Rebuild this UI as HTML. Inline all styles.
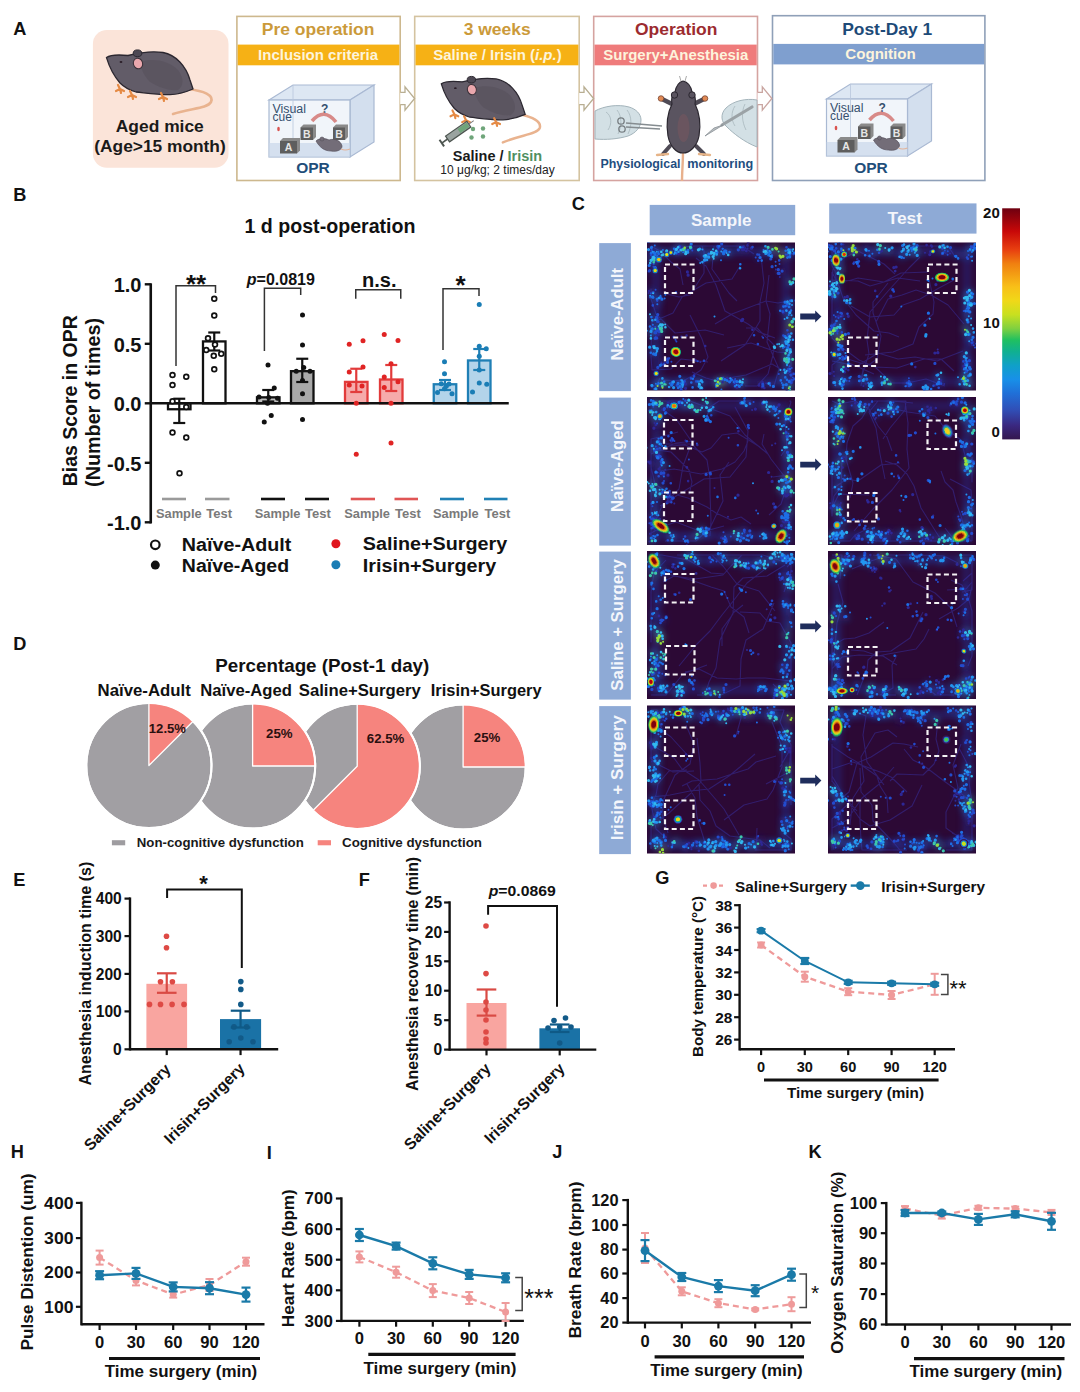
<!DOCTYPE html>
<html><head><meta charset="utf-8"><title>Figure</title>
<style>
html,body{margin:0;padding:0;background:#fff;}
body{width:1080px;height:1392px;overflow:hidden;}
svg{display:block;font-family:"Liberation Sans", sans-serif;}
</style></head><body>
<svg width="1080" height="1392" viewBox="0 0 1080 1392">
<rect x="0" y="0" width="1080" height="1392" fill="#fff"/>
<rect x="92.9" y="30" width="135.6" height="137.8" rx="14" ry="14" fill="#fbe4d9"/>
<g transform="translate(0,0) scale(1.0)">
<path d="M188,89 C204,91 214,95 211,102 C207,109 190,108 173,114" fill="none" stroke="#e9b38f" stroke-width="2.6" stroke-linecap="round"/>
<path d="M106.5,57.6 C110,55 118,54.5 128,55.5 C138,53 150,50.5 163,52.5 C176,55 186,66 190,80 L193,89 C186,92 178,94.5 170,94.6 C158,95 146,93 136,92 C129,90 124,87 120,83 C114,76 109,66 106.5,57.6 Z" fill="#625c68" stroke="#2b2730" stroke-width="1.3"/>
<path d="M140,62 C152,58 168,60 178,70 C184,78 184,86 178,90 C170,91 160,88 150,82 C144,76 141,69 140,62 Z" fill="#56505c" opacity="0.6"/>
<ellipse cx="137.5" cy="53.3" rx="4.3" ry="3.4" fill="#4d4853" stroke="#2b2730" stroke-width="1"/>
<ellipse cx="138" cy="63.5" rx="4.6" ry="5.4" transform="rotate(-15 138 63.5)" fill="#eaa7ad" stroke="#3a3038" stroke-width="1"/>
<ellipse cx="121" cy="62" rx="1.4" ry="1" fill="#2a1e28"/>
<path d="M118,85 l2,4 l-4,2 m4,-2 l1,4 m-1,-4 l4,2" stroke="#e58a45" stroke-width="2.2" fill="none" stroke-linecap="round"/>
<path d="M130,91 l2,4 l-4,2 m4,-2 l1,4 m-1,-4 l4,2" stroke="#e58a45" stroke-width="2.2" fill="none" stroke-linecap="round"/>
<path d="M161,93 l2,4 l-4,2 m4,-2 l1,4 m-1,-4 l4,2" stroke="#e58a45" stroke-width="2.2" fill="none" stroke-linecap="round"/>
</g>
<text x="159.8" y="131.5" font-size="16.2" font-weight="bold" fill="#1a1a1a" text-anchor="middle"  textLength="88" lengthAdjust="spacingAndGlyphs">Aged mice</text>
<text x="160.0" y="151.6" font-size="16.2" font-weight="bold" fill="#1a1a1a" text-anchor="middle"  textLength="131.5" lengthAdjust="spacingAndGlyphs">(Age&gt;15 month)</text>
<rect x="236.90" y="16.40" width="163.30" height="164.10" fill="#fff" stroke="#cdb88e" stroke-width="1.6" />
<rect x="237.70" y="44.60" width="161.70" height="20.70" fill="#f6b115" stroke="none" stroke-width="1" />
<text x="318.1" y="35.0" font-size="16.8" font-weight="bold" fill="#cb9a3a" text-anchor="middle" textLength="112.5" lengthAdjust="spacingAndGlyphs">Pre operation</text>
<text x="318.1" y="60" font-size="14" font-weight="bold" fill="#fdf4dc" text-anchor="middle" textLength="120" lengthAdjust="spacingAndGlyphs">Inclusion criteria</text>
<rect x="414.70" y="16.40" width="164.50" height="164.10" fill="#fff" stroke="#d4c3a0" stroke-width="1.6" />
<rect x="415.50" y="44.60" width="162.90" height="20.70" fill="#f6b115" stroke="none" stroke-width="1" />
<text x="497.2" y="35.0" font-size="16.2" font-weight="bold" fill="#cb9a3a" text-anchor="middle" textLength="67" lengthAdjust="spacingAndGlyphs">3 weeks</text>
<text x="497.5" y="60" font-size="14" font-weight="bold" fill="#fdf4dc" text-anchor="middle" textLength="128.5" lengthAdjust="spacingAndGlyphs">Saline / Irisin (<tspan font-style="italic">i.p.</tspan>)</text>
<rect x="593.70" y="16.40" width="163.80" height="164.10" fill="#fff" stroke="#d5a3a0" stroke-width="1.6" />
<rect x="594.50" y="44.60" width="162.20" height="20.70" fill="#ef7b7b" stroke="none" stroke-width="1" />
<text x="676.2" y="35.0" font-size="16.5" font-weight="bold" fill="#9c2b2f" text-anchor="middle" textLength="82.5" lengthAdjust="spacingAndGlyphs">Operation</text>
<text x="675.8" y="60" font-size="14" font-weight="bold" fill="#fdf4dc" text-anchor="middle" textLength="145" lengthAdjust="spacingAndGlyphs">Surgery+Anesthesia</text>
<rect x="772.50" y="15.70" width="212.40" height="164.80" fill="#fff" stroke="#8fa0b8" stroke-width="1.6" />
<rect x="773.30" y="43.90" width="210.80" height="20.50" fill="#7f9fcf" stroke="none" stroke-width="1" />
<text x="887.2" y="34.6" font-size="17" font-weight="bold" fill="#1d4a78" text-anchor="middle" textLength="90" lengthAdjust="spacingAndGlyphs">Post-Day 1</text>
<text x="880.5" y="58.9" font-size="14" font-weight="bold" fill="#fdf4dc" text-anchor="middle" textLength="70.5" lengthAdjust="spacingAndGlyphs">Cognition</text>
<path d="M400.2,92.3 L405.0,92.3 L405.0,86.9 L414.59999999999997,98.5 L405.0,110.1 L405.0,104.7 L400.2,104.7" fill="#fff" stroke="#b8ae92" stroke-width="1.3" stroke-linejoin="miter"/>
<path d="M579.2,92.3 L584.0,92.3 L584.0,86.9 L593.6,98.5 L584.0,110.1 L584.0,104.7 L579.2,104.7" fill="#fff" stroke="#b8ae92" stroke-width="1.3" stroke-linejoin="miter"/>
<path d="M757.5,92.3 L762.3,92.3 L762.3,86.9 L771.9,98.5 L762.3,110.1 L762.3,104.7 L757.5,104.7" fill="#fff" stroke="#c9a5a0" stroke-width="1.3" stroke-linejoin="miter"/>
<path d="M269,100 L293,85 L374,85 L350,100 Z" fill="#dde7f3" stroke="#a9b9d3" stroke-width="1.2"/>
<path d="M350,100 L374,85 L374,142 L350,157 Z" fill="#d3dfee" stroke="#a9b9d3" stroke-width="1.2"/>
<rect x="269" y="100" width="81" height="57" fill="#eef3f9" fill-opacity="0.85" stroke="#a9b9d3" stroke-width="1.2"/>
<path d="M269,143 L350,143 L350,157 L269,157 Z" fill="#c9d7ea" opacity="0.7"/>
<line x1="293" y1="85" x2="293" y2="140" stroke="#b9c7dc" stroke-width="0.8"/>
<text x="272.5" y="112.5" font-size="12" fill="#35506e" font-weight="normal" textLength="33.5" lengthAdjust="spacingAndGlyphs">Visual</text>
<text x="272.5" y="121" font-size="12" fill="#35506e" font-weight="normal">cue</text>
<text x="321" y="112.5" font-size="12" fill="#35506e" font-weight="bold">?</text>
<ellipse cx="278.5" cy="129" rx="1.3" ry="2.2" fill="#d9534f"/>
<path d="M312,121 Q324,107 336,122" fill="none" stroke="#d88a88" stroke-width="3.6"/>
<path d="M280,141 L283,138 L300,138 L300,150.5 L297,153.5 Z" fill="#8a8a8a"/>
<rect x="280" y="141" width="17" height="12.5" fill="#5e5e5e"/>
<text x="288.5" y="151.0" font-size="10.5" font-weight="bold" fill="#e6e6e6" text-anchor="middle">A</text>
<path d="M300.5,127.5 L303.5,124.5 L316.0,124.5 L316.0,137.0 L313.0,140.0 Z" fill="#8a8a8a"/>
<rect x="300.5" y="127.5" width="12.5" height="12.5" fill="#5e5e5e"/>
<text x="306.75" y="137.5" font-size="10.5" font-weight="bold" fill="#e6e6e6" text-anchor="middle">B</text>
<path d="M333,127.5 L336,124.5 L348,124.5 L348,137.0 L345,140.0 Z" fill="#8a8a8a"/>
<rect x="333" y="127.5" width="12" height="12.5" fill="#5e5e5e"/>
<text x="339.0" y="137.5" font-size="10.5" font-weight="bold" fill="#e6e6e6" text-anchor="middle">B</text>
<path d="M316,141 C319,138 325,138 329,140 C335,138 341,141 342,146 C342,150 337,152 331,151 C325,151 320,148 316,141 Z" fill="#736d78" stroke="#58525d" stroke-width="0.7"/>
<circle cx="322" cy="139" r="2" fill="#736d78" stroke="#58525d" stroke-width="0.6"/>
<path d="M341,149 q4,2 9,0" stroke="#e2b49a" stroke-width="1.2" fill="none"/>
<text x="313.0" y="173.0" font-size="15.5" font-weight="bold" fill="#1f4e7a" text-anchor="middle" >OPR</text>
<path d="M826.5,99 L850.5,84 L931.5,84 L907.5,99 Z" fill="#dde7f3" stroke="#a9b9d3" stroke-width="1.2"/>
<path d="M907.5,99 L931.5,84 L931.5,141 L907.5,156 Z" fill="#d3dfee" stroke="#a9b9d3" stroke-width="1.2"/>
<rect x="826.5" y="99" width="81" height="57" fill="#eef3f9" fill-opacity="0.85" stroke="#a9b9d3" stroke-width="1.2"/>
<path d="M826.5,142 L907.5,142 L907.5,156 L826.5,156 Z" fill="#c9d7ea" opacity="0.7"/>
<line x1="850.5" y1="84" x2="850.5" y2="139" stroke="#b9c7dc" stroke-width="0.8"/>
<text x="830.0" y="111.5" font-size="12" fill="#35506e" font-weight="normal" textLength="33.5" lengthAdjust="spacingAndGlyphs">Visual</text>
<text x="830.0" y="120" font-size="12" fill="#35506e" font-weight="normal">cue</text>
<text x="878.5" y="111.5" font-size="12" fill="#35506e" font-weight="bold">?</text>
<ellipse cx="836.0" cy="128" rx="1.3" ry="2.2" fill="#d9534f"/>
<path d="M869.5,120 Q881.5,106 893.5,121" fill="none" stroke="#d88a88" stroke-width="3.6"/>
<path d="M837.5,140 L840.5,137 L857.5,137 L857.5,149.5 L854.5,152.5 Z" fill="#8a8a8a"/>
<rect x="837.5" y="140" width="17" height="12.5" fill="#5e5e5e"/>
<text x="846.0" y="150.0" font-size="10.5" font-weight="bold" fill="#e6e6e6" text-anchor="middle">A</text>
<path d="M858.0,126.5 L861.0,123.5 L873.5,123.5 L873.5,136.0 L870.5,139.0 Z" fill="#8a8a8a"/>
<rect x="858.0" y="126.5" width="12.5" height="12.5" fill="#5e5e5e"/>
<text x="864.25" y="136.5" font-size="10.5" font-weight="bold" fill="#e6e6e6" text-anchor="middle">B</text>
<path d="M890.5,126.5 L893.5,123.5 L905.5,123.5 L905.5,136.0 L902.5,139.0 Z" fill="#8a8a8a"/>
<rect x="890.5" y="126.5" width="12" height="12.5" fill="#5e5e5e"/>
<text x="896.5" y="136.5" font-size="10.5" font-weight="bold" fill="#e6e6e6" text-anchor="middle">B</text>
<path d="M873.5,140 C876.5,137 882.5,137 886.5,139 C892.5,137 898.5,140 899.5,145 C899.5,149 894.5,151 888.5,150 C882.5,150 877.5,147 873.5,140 Z" fill="#736d78" stroke="#58525d" stroke-width="0.7"/>
<circle cx="879.5" cy="138" r="2" fill="#736d78" stroke="#58525d" stroke-width="0.6"/>
<path d="M898.5,148 q4,2 9,0" stroke="#e2b49a" stroke-width="1.2" fill="none"/>
<text x="871.0" y="173.0" font-size="15.5" font-weight="bold" fill="#1f4e7a" text-anchor="middle" >OPR</text>
<g transform="translate(338,28) scale(0.97)">
<path d="M188,89 C200,92 210,96 208,103 C205,110 188,110 170,118" fill="none" stroke="#e9b38f" stroke-width="2.6" stroke-linecap="round"/>
<path d="M106.5,57.6 C110,55 118,54.5 128,55.5 C138,53 150,50.5 163,52.5 C176,55 186,66 190,80 L193,89 C186,92 178,94.5 170,94.6 C158,95 146,93 136,92 C129,90 124,87 120,83 C114,76 109,66 106.5,57.6 Z" fill="#625c68" stroke="#2b2730" stroke-width="1.3"/>
<path d="M140,62 C152,58 168,60 178,70 C184,78 184,86 178,90 C170,91 160,88 150,82 C144,76 141,69 140,62 Z" fill="#56505c" opacity="0.6"/>
<ellipse cx="137.5" cy="53.3" rx="4.3" ry="3.4" fill="#4d4853" stroke="#2b2730" stroke-width="1"/>
<ellipse cx="138" cy="63.5" rx="4.6" ry="5.4" transform="rotate(-15 138 63.5)" fill="#eaa7ad" stroke="#3a3038" stroke-width="1"/>
<ellipse cx="121" cy="62" rx="1.4" ry="1" fill="#2a1e28"/>
<path d="M118,85 l2,4 l-4,2 m4,-2 l1,4 m-1,-4 l4,2" stroke="#e58a45" stroke-width="2.2" fill="none" stroke-linecap="round"/>
<path d="M130,91 l2,4 l-4,2 m4,-2 l1,4 m-1,-4 l4,2" stroke="#e58a45" stroke-width="2.2" fill="none" stroke-linecap="round"/>
<path d="M161,93 l2,4 l-4,2 m4,-2 l1,4 m-1,-4 l4,2" stroke="#e58a45" stroke-width="2.2" fill="none" stroke-linecap="round"/>
</g>
<g transform="translate(459,131) rotate(-35)">
<rect x="-14" y="-3.5" width="26" height="7" fill="#9aa3a0" stroke="#4d5550" stroke-width="1.2"/>
<rect x="0" y="-2.5" width="11" height="5" fill="#6fa57a"/>
<line x1="-14" y1="0" x2="-21" y2="0" stroke="#4d5550" stroke-width="1.6"/>
<line x1="-21" y1="-4" x2="-21" y2="4" stroke="#4d5550" stroke-width="2"/>
<line x1="12" y1="0" x2="18" y2="0" stroke="#777" stroke-width="1"/>
</g>
<circle cx="473.00" cy="129.00" r="2.2" fill="#6fa57a" stroke="none" stroke-width="1"/>
<circle cx="483.00" cy="128.50" r="2.2" fill="#6fa57a" stroke="none" stroke-width="1"/>
<circle cx="471.50" cy="137.50" r="2.2" fill="#6fa57a" stroke="none" stroke-width="1"/>
<circle cx="483.00" cy="136.50" r="2.2" fill="#6fa57a" stroke="none" stroke-width="1"/>
<text x="497.5" y="161" font-size="14.5" font-weight="bold" fill="#1a1a1a" text-anchor="middle">Saline / <tspan fill="#4f8f5f">Irisin</tspan></text>
<text x="497.5" y="174" font-size="12" fill="#222" text-anchor="middle">10 μg/kg; 2 times/day</text>
<path d="M595,111 C604,106 618,104 629,107 C636,109 641,114 641,120 C641,127 636,133 628,136 C618,139 606,140 595,139 Z" fill="#d3e0e5" stroke="#a4b4bb" stroke-width="1"/>
<path d="M606,112 C612,116 612,124 608,130 M617,110 C622,116 622,126 618,134 M627,110 C632,116 632,126 628,134" fill="none" stroke="#aebcc2" stroke-width="0.9"/>
<path d="M626,123 L662,126 M626,127 L660,129" stroke="#858c90" stroke-width="1.5"/>
<circle cx="621" cy="121" r="3.2" fill="none" stroke="#777e82" stroke-width="1.3"/><circle cx="622" cy="129" r="3.2" fill="none" stroke="#777e82" stroke-width="1.3"/>
<path d="M757,100 C746,98 733,101 726,108 C720,114 721,122 727,127 C733,133 744,142 757,147 Z" fill="#d3e0e5" stroke="#a4b4bb" stroke-width="1"/>
<path d="M735,106 C731,112 731,120 735,126 M745,104 C741,112 742,122 746,130" fill="none" stroke="#aebcc2" stroke-width="0.9"/>
<path d="M752,107 L722,125" stroke="#9ba2a6" stroke-width="3.2" stroke-linecap="round"/>
<path d="M723,125 L705,136 L714,128 Z" fill="#b8bec2" stroke="#8a9196" stroke-width="0.8"/>
<path d="M683,152 C683,162 682,172 682,181" fill="none" stroke="#e8b08c" stroke-width="2.4"/>
<path d="M672,104 L661,98.5 M694,104 L705,98.5" stroke="#4f4a55" stroke-width="4.5" stroke-linecap="round"/>
<path d="M670,146 L663,154 M696,146 L704,154" stroke="#4f4a55" stroke-width="4" stroke-linecap="round"/>
<path d="M657,155 L668,154 M699,154 L710,155" stroke="#e6b488" stroke-width="2.4" stroke-linecap="round"/>
<path d="M683,81 C679,82 676,87 675,92 C672,95 671,99 672,104 C668,112 666,124 668,136 C670,146 676,153 683,153 C690,153 697,146 699,136 C701,124 699,112 695,104 C696,99 695,95 692,92 C691,87 688,82 683,81 Z" fill="#5a5460" stroke="#2b2730" stroke-width="1.2"/>
<ellipse cx="683.5" cy="128" rx="6" ry="14" fill="#8a5a5e" opacity="0.35"/>
<circle cx="674.5" cy="95" r="3.2" fill="#5a5460" stroke="#2b2730" stroke-width="1"/><circle cx="692" cy="95" r="3.2" fill="#5a5460" stroke="#2b2730" stroke-width="1"/>
<circle cx="661" cy="98.5" r="2.8" fill="#e08a55" stroke="#6a3a2a" stroke-width="0.7"/><circle cx="705" cy="98.5" r="2.8" fill="#e08a55" stroke="#6a3a2a" stroke-width="0.7"/>
<path d="M681,81 l-1.5,-5 M685,81 l1.5,-5" stroke="#aaa" stroke-width="1"/>
<text x="600.5" y="167.5" font-size="13" font-weight="bold" fill="#1f4e80" textLength="80" lengthAdjust="spacingAndGlyphs">Physiological</text>
<text x="687.2" y="167.5" font-size="13" font-weight="bold" fill="#1f4e80" textLength="66" lengthAdjust="spacingAndGlyphs">monitoring</text>
<text x="330.0" y="232.9" font-size="19.5" font-weight="bold" fill="#111" text-anchor="middle"  textLength="171" lengthAdjust="spacingAndGlyphs">1 d post-operation</text>
<text transform="translate(76.8,400.8) rotate(-90)" font-size="19.3" font-weight="bold" fill="#111" text-anchor="middle" textLength="171" lengthAdjust="spacingAndGlyphs">Bias Score in OPR</text>
<text transform="translate(99.8,402.4) rotate(-90)" font-size="19.3" font-weight="bold" fill="#111" text-anchor="middle" textLength="169" lengthAdjust="spacingAndGlyphs">(Number of times)</text>
<line x1="150.75" y1="283.30" x2="150.75" y2="523.50" stroke="#111" stroke-width="2.6" />
<line x1="144.75" y1="284.30" x2="150.75" y2="284.30" stroke="#111" stroke-width="2.4" />
<text x="141.5" y="292.3" font-size="20" font-weight="bold" fill="#111" text-anchor="end" >1.0</text>
<line x1="144.75" y1="343.80" x2="150.75" y2="343.80" stroke="#111" stroke-width="2.4" />
<text x="141.5" y="351.8" font-size="20" font-weight="bold" fill="#111" text-anchor="end" >0.5</text>
<line x1="144.75" y1="403.30" x2="150.75" y2="403.30" stroke="#111" stroke-width="2.4" />
<text x="141.5" y="411.3" font-size="20" font-weight="bold" fill="#111" text-anchor="end" >0.0</text>
<line x1="144.75" y1="462.80" x2="150.75" y2="462.80" stroke="#111" stroke-width="2.4" />
<text x="141.5" y="470.8" font-size="20" font-weight="bold" fill="#111" text-anchor="end" >-0.5</text>
<line x1="144.75" y1="522.30" x2="150.75" y2="522.30" stroke="#111" stroke-width="2.4" />
<text x="141.5" y="530.3" font-size="20" font-weight="bold" fill="#111" text-anchor="end" >-1.0</text>
<rect x="168.00" y="403.30" width="22.50" height="5.95" fill="#ffffff" stroke="#111" stroke-width="2.3" />
<line x1="179.25" y1="398.75" x2="179.25" y2="423.00" stroke="#111" stroke-width="2.2" />
<line x1="173.25" y1="398.75" x2="185.25" y2="398.75" stroke="#111" stroke-width="2.2" />
<line x1="173.25" y1="423.00" x2="185.25" y2="423.00" stroke="#111" stroke-width="2.2" />
<rect x="203.00" y="341.42" width="22.50" height="61.88" fill="#ffffff" stroke="#111" stroke-width="2.3" />
<line x1="214.25" y1="332.50" x2="214.25" y2="350.50" stroke="#111" stroke-width="2.2" />
<line x1="208.25" y1="332.50" x2="220.25" y2="332.50" stroke="#111" stroke-width="2.2" />
<line x1="208.25" y1="350.50" x2="220.25" y2="350.50" stroke="#111" stroke-width="2.2" />
<rect x="257.00" y="397.35" width="22.50" height="5.95" fill="#bdbdbd" stroke="#111" stroke-width="2.3" />
<line x1="268.25" y1="390.00" x2="268.25" y2="401.50" stroke="#111" stroke-width="2.2" />
<line x1="262.25" y1="390.00" x2="274.25" y2="390.00" stroke="#111" stroke-width="2.2" />
<line x1="262.25" y1="401.50" x2="274.25" y2="401.50" stroke="#111" stroke-width="2.2" />
<rect x="291.00" y="371.17" width="22.50" height="32.13" fill="#a9a9a9" stroke="#111" stroke-width="2.3" />
<line x1="302.25" y1="358.75" x2="302.25" y2="382.00" stroke="#111" stroke-width="2.2" />
<line x1="296.25" y1="358.75" x2="308.25" y2="358.75" stroke="#111" stroke-width="2.2" />
<line x1="296.25" y1="382.00" x2="308.25" y2="382.00" stroke="#111" stroke-width="2.2" />
<rect x="345.00" y="381.88" width="22.50" height="21.42" fill="#f6abab" stroke="#e23b3b" stroke-width="2.3" />
<line x1="356.25" y1="368.75" x2="356.25" y2="392.00" stroke="#e23b3b" stroke-width="2.2" />
<line x1="350.25" y1="368.75" x2="362.25" y2="368.75" stroke="#e23b3b" stroke-width="2.2" />
<line x1="350.25" y1="392.00" x2="362.25" y2="392.00" stroke="#e23b3b" stroke-width="2.2" />
<rect x="380.00" y="379.50" width="22.50" height="23.80" fill="#f6abab" stroke="#e23b3b" stroke-width="2.3" />
<line x1="391.25" y1="365.00" x2="391.25" y2="391.00" stroke="#e23b3b" stroke-width="2.2" />
<line x1="385.25" y1="365.00" x2="397.25" y2="365.00" stroke="#e23b3b" stroke-width="2.2" />
<line x1="385.25" y1="391.00" x2="397.25" y2="391.00" stroke="#e23b3b" stroke-width="2.2" />
<rect x="433.75" y="384.26" width="22.50" height="19.04" fill="#b3d4ea" stroke="#1f7fb5" stroke-width="2.3" />
<line x1="445.00" y1="380.00" x2="445.00" y2="390.00" stroke="#1f7fb5" stroke-width="2.2" />
<line x1="439.00" y1="380.00" x2="451.00" y2="380.00" stroke="#1f7fb5" stroke-width="2.2" />
<line x1="439.00" y1="390.00" x2="451.00" y2="390.00" stroke="#1f7fb5" stroke-width="2.2" />
<rect x="468.00" y="360.46" width="22.50" height="42.84" fill="#b3d4ea" stroke="#1f7fb5" stroke-width="2.3" />
<line x1="479.25" y1="349.00" x2="479.25" y2="370.00" stroke="#1f7fb5" stroke-width="2.2" />
<line x1="473.25" y1="349.00" x2="485.25" y2="349.00" stroke="#1f7fb5" stroke-width="2.2" />
<line x1="473.25" y1="370.00" x2="485.25" y2="370.00" stroke="#1f7fb5" stroke-width="2.2" />
<line x1="150.75" y1="403.30" x2="508.75" y2="403.30" stroke="#111" stroke-width="2.6" />
<circle cx="172.50" cy="375.00" r="2.4" fill="#fff" stroke="#111" stroke-width="1.7"/>
<circle cx="186.25" cy="376.75" r="2.4" fill="#fff" stroke="#111" stroke-width="1.7"/>
<circle cx="172.50" cy="385.00" r="2.4" fill="#fff" stroke="#111" stroke-width="1.7"/>
<circle cx="172.50" cy="401.25" r="2.4" fill="#fff" stroke="#111" stroke-width="1.7"/>
<circle cx="186.25" cy="407.00" r="2.4" fill="#fff" stroke="#111" stroke-width="1.7"/>
<circle cx="172.50" cy="432.50" r="2.4" fill="#fff" stroke="#111" stroke-width="1.7"/>
<circle cx="186.25" cy="437.50" r="2.4" fill="#fff" stroke="#111" stroke-width="1.7"/>
<circle cx="179.50" cy="473.25" r="2.4" fill="#fff" stroke="#111" stroke-width="1.7"/>
<circle cx="214.25" cy="298.75" r="2.4" fill="#fff" stroke="#111" stroke-width="1.7"/>
<circle cx="214.25" cy="315.50" r="2.4" fill="#fff" stroke="#111" stroke-width="1.7"/>
<circle cx="208.00" cy="338.25" r="2.4" fill="#fff" stroke="#111" stroke-width="1.7"/>
<circle cx="215.00" cy="344.50" r="2.4" fill="#fff" stroke="#111" stroke-width="1.7"/>
<circle cx="206.25" cy="350.00" r="2.4" fill="#fff" stroke="#111" stroke-width="1.7"/>
<circle cx="221.25" cy="353.75" r="2.4" fill="#fff" stroke="#111" stroke-width="1.7"/>
<circle cx="213.75" cy="355.75" r="2.4" fill="#fff" stroke="#111" stroke-width="1.7"/>
<circle cx="214.25" cy="369.25" r="2.4" fill="#fff" stroke="#111" stroke-width="1.7"/>
<circle cx="268.00" cy="365.00" r="2.5" fill="#111" stroke="none" stroke-width="1"/>
<circle cx="274.25" cy="388.00" r="2.5" fill="#111" stroke="none" stroke-width="1"/>
<circle cx="268.75" cy="397.50" r="2.5" fill="#111" stroke="none" stroke-width="1"/>
<circle cx="277.50" cy="398.25" r="2.5" fill="#111" stroke="none" stroke-width="1"/>
<circle cx="267.50" cy="403.25" r="2.5" fill="#111" stroke="none" stroke-width="1"/>
<circle cx="271.25" cy="415.50" r="2.5" fill="#111" stroke="none" stroke-width="1"/>
<circle cx="264.25" cy="422.00" r="2.5" fill="#111" stroke="none" stroke-width="1"/>
<circle cx="259.00" cy="397.00" r="2.5" fill="#111" stroke="none" stroke-width="1"/>
<circle cx="302.50" cy="315.00" r="2.5" fill="#111" stroke="none" stroke-width="1"/>
<circle cx="302.50" cy="345.00" r="2.5" fill="#111" stroke="none" stroke-width="1"/>
<circle cx="296.25" cy="371.25" r="2.5" fill="#111" stroke="none" stroke-width="1"/>
<circle cx="303.75" cy="367.50" r="2.5" fill="#111" stroke="none" stroke-width="1"/>
<circle cx="310.00" cy="371.25" r="2.5" fill="#111" stroke="none" stroke-width="1"/>
<circle cx="302.50" cy="380.50" r="2.5" fill="#111" stroke="none" stroke-width="1"/>
<circle cx="302.50" cy="393.75" r="2.5" fill="#111" stroke="none" stroke-width="1"/>
<circle cx="302.50" cy="419.50" r="2.5" fill="#111" stroke="none" stroke-width="1"/>
<circle cx="349.25" cy="344.25" r="2.5" fill="#e02424" stroke="none" stroke-width="1"/>
<circle cx="363.00" cy="340.75" r="2.5" fill="#e02424" stroke="none" stroke-width="1"/>
<circle cx="349.25" cy="372.00" r="2.5" fill="#e02424" stroke="none" stroke-width="1"/>
<circle cx="363.00" cy="367.00" r="2.5" fill="#e02424" stroke="none" stroke-width="1"/>
<circle cx="349.25" cy="385.00" r="2.5" fill="#e02424" stroke="none" stroke-width="1"/>
<circle cx="356.25" cy="403.25" r="2.5" fill="#e02424" stroke="none" stroke-width="1"/>
<circle cx="356.25" cy="454.25" r="2.5" fill="#e02424" stroke="none" stroke-width="1"/>
<circle cx="362.00" cy="386.00" r="2.5" fill="#e02424" stroke="none" stroke-width="1"/>
<circle cx="384.25" cy="334.50" r="2.5" fill="#e02424" stroke="none" stroke-width="1"/>
<circle cx="398.00" cy="340.50" r="2.5" fill="#e02424" stroke="none" stroke-width="1"/>
<circle cx="391.00" cy="363.75" r="2.5" fill="#e02424" stroke="none" stroke-width="1"/>
<circle cx="384.25" cy="377.00" r="2.5" fill="#e02424" stroke="none" stroke-width="1"/>
<circle cx="398.00" cy="381.75" r="2.5" fill="#e02424" stroke="none" stroke-width="1"/>
<circle cx="384.25" cy="387.50" r="2.5" fill="#e02424" stroke="none" stroke-width="1"/>
<circle cx="391.00" cy="403.25" r="2.5" fill="#e02424" stroke="none" stroke-width="1"/>
<circle cx="391.00" cy="443.00" r="2.5" fill="#e02424" stroke="none" stroke-width="1"/>
<circle cx="444.50" cy="361.75" r="2.5" fill="#1a7db5" stroke="none" stroke-width="1"/>
<circle cx="444.50" cy="373.75" r="2.5" fill="#1a7db5" stroke="none" stroke-width="1"/>
<circle cx="441.25" cy="383.75" r="2.5" fill="#1a7db5" stroke="none" stroke-width="1"/>
<circle cx="446.25" cy="386.25" r="2.5" fill="#1a7db5" stroke="none" stroke-width="1"/>
<circle cx="437.50" cy="392.50" r="2.5" fill="#1a7db5" stroke="none" stroke-width="1"/>
<circle cx="452.00" cy="393.75" r="2.5" fill="#1a7db5" stroke="none" stroke-width="1"/>
<circle cx="444.50" cy="388.75" r="2.5" fill="#1a7db5" stroke="none" stroke-width="1"/>
<circle cx="449.00" cy="384.00" r="2.5" fill="#1a7db5" stroke="none" stroke-width="1"/>
<circle cx="479.25" cy="304.50" r="2.5" fill="#1a7db5" stroke="none" stroke-width="1"/>
<circle cx="479.25" cy="346.25" r="2.5" fill="#1a7db5" stroke="none" stroke-width="1"/>
<circle cx="486.25" cy="348.75" r="2.5" fill="#1a7db5" stroke="none" stroke-width="1"/>
<circle cx="479.25" cy="356.25" r="2.5" fill="#1a7db5" stroke="none" stroke-width="1"/>
<circle cx="479.25" cy="370.00" r="2.5" fill="#1a7db5" stroke="none" stroke-width="1"/>
<circle cx="479.25" cy="383.00" r="2.5" fill="#1a7db5" stroke="none" stroke-width="1"/>
<circle cx="486.75" cy="384.25" r="2.5" fill="#1a7db5" stroke="none" stroke-width="1"/>
<circle cx="472.50" cy="392.00" r="2.5" fill="#1a7db5" stroke="none" stroke-width="1"/>
<path d="M176,366 L176,285.8 L215.5,285.8 L215.5,293" fill="none" stroke="#333" stroke-width="1.5"/>
<text x="196.0" y="293.0" font-size="26" font-weight="bold" fill="#111" text-anchor="middle" >**</text>
<path d="M264.4,351 L264.4,288.3 L300.7,288.3 L300.7,295" fill="none" stroke="#333" stroke-width="1.5"/>
<text x="280.8" y="285.1" font-size="16" font-weight="bold" fill="#111" text-anchor="middle"><tspan font-style="italic">p</tspan>=0.0819</text>
<path d="M355.75,298.75 L355.75,289.7 L400.75,289.7 L400.75,298.75" fill="none" stroke="#333" stroke-width="1.5"/>
<text x="379.0" y="287.0" font-size="26" font-weight="bold" fill="#111" text-anchor="middle" ></text>
<text x="379.3" y="287.0" font-size="20" font-weight="bold" fill="#111" text-anchor="middle" >n.s.</text>
<path d="M443,350 L443,288.7 L479,288.7 L479,296" fill="none" stroke="#333" stroke-width="1.5"/>
<text x="460.5" y="294.0" font-size="26" font-weight="bold" fill="#111" text-anchor="middle" >*</text>
<line x1="162.00" y1="499.00" x2="186.00" y2="499.00" stroke="#9a9a9a" stroke-width="2.6" />
<line x1="205.00" y1="499.00" x2="229.50" y2="499.00" stroke="#9a9a9a" stroke-width="2.6" />
<line x1="261.00" y1="499.00" x2="285.00" y2="499.00" stroke="#111" stroke-width="2.6" />
<line x1="305.00" y1="499.00" x2="329.00" y2="499.00" stroke="#111" stroke-width="2.6" />
<line x1="350.75" y1="499.00" x2="375.00" y2="499.00" stroke="#e05555" stroke-width="2.6" />
<line x1="394.50" y1="499.00" x2="418.00" y2="499.00" stroke="#e05555" stroke-width="2.6" />
<line x1="440.00" y1="499.00" x2="464.00" y2="499.00" stroke="#2081b5" stroke-width="2.6" />
<line x1="484.00" y1="499.00" x2="507.50" y2="499.00" stroke="#2081b5" stroke-width="2.6" />
<text x="155.9" y="517.5" font-size="12.8" font-weight="bold" fill="#7a7a7a" text-anchor="start"  textLength="45.8" lengthAdjust="spacingAndGlyphs">Sample</text>
<text x="206.2" y="517.5" font-size="12.8" font-weight="bold" fill="#7a7a7a" text-anchor="start"  textLength="25.8" lengthAdjust="spacingAndGlyphs">Test</text>
<text x="254.7" y="517.5" font-size="12.8" font-weight="bold" fill="#7a7a7a" text-anchor="start"  textLength="45.8" lengthAdjust="spacingAndGlyphs">Sample</text>
<text x="305.0" y="517.5" font-size="12.8" font-weight="bold" fill="#7a7a7a" text-anchor="start"  textLength="25.8" lengthAdjust="spacingAndGlyphs">Test</text>
<text x="344.2" y="517.5" font-size="12.8" font-weight="bold" fill="#7a7a7a" text-anchor="start"  textLength="45.8" lengthAdjust="spacingAndGlyphs">Sample</text>
<text x="395.0" y="517.5" font-size="12.8" font-weight="bold" fill="#7a7a7a" text-anchor="start"  textLength="25.8" lengthAdjust="spacingAndGlyphs">Test</text>
<text x="432.9" y="517.5" font-size="12.8" font-weight="bold" fill="#7a7a7a" text-anchor="start"  textLength="45.8" lengthAdjust="spacingAndGlyphs">Sample</text>
<text x="484.5" y="517.5" font-size="12.8" font-weight="bold" fill="#7a7a7a" text-anchor="start"  textLength="25.8" lengthAdjust="spacingAndGlyphs">Test</text>
<circle cx="155.30" cy="544.80" r="4.3" fill="#fff" stroke="#111" stroke-width="2.2"/>
<circle cx="155.30" cy="565.10" r="4.5" fill="#111" stroke="none" stroke-width="1"/>
<circle cx="335.90" cy="543.70" r="4.5" fill="#e0161e" stroke="none" stroke-width="1"/>
<circle cx="335.90" cy="564.80" r="4.5" fill="#1a7db5" stroke="none" stroke-width="1"/>
<text x="181.8" y="550.6" font-size="17.6" font-weight="bold" fill="#111" text-anchor="start"  textLength="109.5" lengthAdjust="spacingAndGlyphs">Naïve-Adult</text>
<text x="181.8" y="571.6" font-size="17.6" font-weight="bold" fill="#111" text-anchor="start"  textLength="107.3" lengthAdjust="spacingAndGlyphs">Naïve-Aged</text>
<text x="362.8" y="550.2" font-size="17.6" font-weight="bold" fill="#111" text-anchor="start"  textLength="144.4" lengthAdjust="spacingAndGlyphs">Saline+Surgery</text>
<text x="362.8" y="571.6" font-size="17.6" font-weight="bold" fill="#111" text-anchor="start"  textLength="133.4" lengthAdjust="spacingAndGlyphs">Irisin+Surgery</text>
<defs><filter id="blur4" x="-20%" y="-20%" width="140%" height="140%"><feGaussianBlur stdDeviation="4"/></filter><filter id="blur2" x="-20%" y="-20%" width="140%" height="140%"><feGaussianBlur stdDeviation="2"/></filter><filter id="blur3" x="-20%" y="-20%" width="140%" height="140%"><feGaussianBlur stdDeviation="3"/></filter><filter id="blur06"><feGaussianBlur stdDeviation="0.7"/></filter><filter id="blur05" x="-50%" y="-50%" width="200%" height="200%"><feGaussianBlur stdDeviation="0.5"/></filter><filter id="trace" x="0" y="0" width="100%" height="100%"><feTurbulence type="fractalNoise" baseFrequency="0.09" numOctaves="2" seed="3" result="n"/><feColorMatrix in="n" type="matrix" values="0 0 0 0 0.3  0 0 0 0 0.2  0 0 0 0 0.7  0 0 0 -2.6 1.45" result="a"/><feComposite in="SourceGraphic" in2="a" operator="in"/></filter></defs>
<rect x="649.70" y="204.90" width="145.50" height="30.30" fill="#8eaad6" stroke="none" stroke-width="1" />
<rect x="829.20" y="203.40" width="147.30" height="30.20" fill="#8eaad6" stroke="none" stroke-width="1" />
<text x="721.2" y="225.7" font-size="17" font-weight="bold" fill="#f4f6fb" text-anchor="middle"  textLength="60.5" lengthAdjust="spacingAndGlyphs">Sample</text>
<text x="904.8" y="224.1" font-size="17" font-weight="bold" fill="#f4f6fb" text-anchor="middle"  textLength="34.5" lengthAdjust="spacingAndGlyphs">Test</text>
<rect x="599.20" y="243.10" width="31.70" height="148.00" fill="#8eaad6" stroke="none" stroke-width="1" />
<text transform="translate(623,314.2) rotate(-90)" font-size="16.8" font-weight="bold" fill="#f4f6fb" text-anchor="middle" textLength="92.5" lengthAdjust="spacingAndGlyphs">Naïve-Adult</text>
<rect x="599.20" y="397.60" width="31.70" height="148.00" fill="#8eaad6" stroke="none" stroke-width="1" />
<text transform="translate(623,466.2) rotate(-90)" font-size="16.8" font-weight="bold" fill="#f4f6fb" text-anchor="middle" textLength="91.5" lengthAdjust="spacingAndGlyphs">Naïve-Aged</text>
<rect x="599.20" y="551.60" width="31.70" height="148.00" fill="#8eaad6" stroke="none" stroke-width="1" />
<text transform="translate(623,625.0) rotate(-90)" font-size="16.8" font-weight="bold" fill="#f4f6fb" text-anchor="middle" textLength="131.5" lengthAdjust="spacingAndGlyphs">Saline + Surgery</text>
<rect x="599.20" y="706.10" width="31.70" height="148.00" fill="#8eaad6" stroke="none" stroke-width="1" />
<text transform="translate(623,777.8) rotate(-90)" font-size="16.8" font-weight="bold" fill="#f4f6fb" text-anchor="middle" textLength="125" lengthAdjust="spacingAndGlyphs">Irisin + Surgery</text>
<path d="M800.2,313.6 L815.2,313.6 L815.2,310.4 L821.4,316.5 L815.2,322.6 L815.2,319.4 L800.2,319.4 Z" fill="#1f2d5c"/>
<path d="M800.2,461.7 L815.2,461.7 L815.2,458.5 L821.4,464.6 L815.2,470.7 L815.2,467.5 L800.2,467.5 Z" fill="#1f2d5c"/>
<path d="M800.2,623.4 L815.2,623.4 L815.2,620.2 L821.4,626.3 L815.2,632.4 L815.2,629.2 L800.2,629.2 Z" fill="#1f2d5c"/>
<path d="M800.2,777.7 L815.2,777.7 L815.2,774.5 L821.4,780.6 L815.2,786.7 L815.2,783.5 L800.2,783.5 Z" fill="#1f2d5c"/>
<g>
<rect x="647.00" y="242.50" width="148.00" height="148.00" fill="#2c0935" stroke="none" stroke-width="1" />
<clipPath id="hc11"><rect x="647" y="242.5" width="148" height="148"/></clipPath>
<g clip-path="url(#hc11)">
<rect x="656" y="251.5" width="130" height="130" fill="none" stroke="#2838a8" stroke-width="9" opacity="0.35" filter="url(#blur3)"/>
<path d="M715 324L732 314L745 309L766 301L778 303L789 301L791 309M661 380L683 381L692 376L701 370L708 357L702 339L690 315M724 335L705 330L675 333L656 314L651 299L651 289L651 292M708 362L681 359L671 369L652 370L651 357L651 356L651 348M667 294L679 297L690 295L704 273L704 251L702 246L706 246M740 266L732 279L706 283L682 297L673 313L652 322L651 348M683 285L680 269L671 262L660 251L651 246L651 246L651 246M769 275L766 301L770 314L767 342L779 369L774 386L772 386M660 378L656 386L651 386L651 386L651 386L651 386L651 386M692 372L706 378L717 381L734 377L746 375L772 364L791 375M746 328L757 328L774 345L773 355L768 374L757 386L745 386M727 348L751 343L777 352L791 353L791 373L791 386L791 386M737 301L729 293L712 269L714 246L711 246L711 246L718 246M754 254L742 246L730 246L719 246L712 246L690 246L676 249M775 338L759 332L748 324L725 311L716 285L706 266L696 258M721 361L745 345L752 334L760 321L760 302L764 283L761 256" fill="none" stroke="#3c3cc0" stroke-width="1.1" opacity="0.4" stroke-linejoin="round"/>
<g filter="url(#blur3)"><path d="M657.4 336.6h0M736.7 383.5h0M724.6 379.5h0M744.0 249.5h0M762.8 384.1h0M780.0 271.4h0M663.6 361.2h0M680.0 248.6h0M748.7 247.2h0" stroke="#2d2896" stroke-width="8" stroke-linecap="round" opacity="0.3"/><path d="M789.6 369.4h0M693.2 381.4h0M735.7 383.1h0M759.2 257.0h0M661.5 365.4h0M651.3 291.6h0M791.3 376.6h0M682.1 383.8h0M719.5 247.8h0M656.1 305.8h0M789.4 255.3h0M788.4 309.5h0M677.0 248.8h0M652.2 265.3h0M788.8 386.4h0M788.6 251.6h0M787.0 335.4h0M651.7 253.7h0M657.4 330.8h0M652.3 270.1h0M681.8 249.3h0M655.9 319.7h0M790.1 379.8h0" stroke="#234bcd" stroke-width="8" stroke-linecap="round" opacity="0.3"/><path d="M780.6 380.1h0M656.0 258.0h0M658.4 383.3h0M653.1 247.0h0M691.2 249.8h0M727.9 379.8h0M724.6 251.3h0M738.2 385.5h0M659.6 298.5h0M655.9 250.9h0M788.6 303.0h0M652.6 353.2h0M786.2 345.3h0M769.6 254.1h0M671.6 384.3h0M654.6 385.9h0M651.8 328.7h0M739.7 246.8h0M771.6 384.7h0M782.5 308.0h0M653.5 253.6h0M676.3 386.4h0M704.4 259.6h0M682.0 382.8h0" stroke="#1e6ee6" stroke-width="8" stroke-linecap="round" opacity="0.3"/><path d="M766.2 249.6h0M791.3 251.5h0M783.2 373.6h0M675.1 251.4h0M699.9 384.8h0M790.1 302.4h0M701.1 250.1h0M788.2 314.7h0M728.6 252.7h0M789.2 337.8h0M717.0 382.7h0M699.2 381.4h0M785.8 340.8h0M785.6 386.0h0M651.9 317.9h0M716.5 254.5h0M655.5 385.4h0M682.8 383.1h0M661.4 382.2h0M707.2 255.8h0M790.2 352.4h0M652.3 296.4h0M654.6 349.7h0" stroke="#2396f0" stroke-width="8" stroke-linecap="round" opacity="0.3"/><path d="M660.2 328.2h0M679.0 249.2h0M663.5 253.5h0M652.9 259.8h0M781.3 346.1h0M712.8 254.7h0M790.8 281.9h0M661.9 325.9h0M651.8 333.1h0M742.2 381.9h0M788.6 361.8h0" stroke="#32b9f0" stroke-width="8" stroke-linecap="round" opacity="0.3"/><path d="M719.9 381.2h0M790.4 386.5h0M684.0 248.6h0M664.3 384.7h0M790.6 321.8h0M786.3 358.1h0" stroke="#3cc8aa" stroke-width="8" stroke-linecap="round" opacity="0.3"/><path d="M721.1 383.2h0M782.0 253.9h0M790.3 327.2h0M775.0 248.1h0" stroke="#96dc3c" stroke-width="8" stroke-linecap="round" opacity="0.3"/></g>
<g filter="url(#blur06)"><path d="M661.4 362.4h0M648.7 292.9h0M683.1 385.4h0M676.8 293.3h0M721.9 378.1h0M747.5 248.5h0M742.1 247.8h0M759.4 383.7h0M766.2 383.3h0M700.3 361.9h0M652.4 264.0h0M762.2 336.5h0M779.8 277.0h0M775.9 269.4h0M653.5 326.1h0" stroke="#2d2896" stroke-width="2.0" stroke-linecap="round"/><path d="M694.3 374.7h0M734.7 383.7h0M681.5 336.7h0M686.6 335.5h0M658.6 334.5h0M656.4 338.6h0M658.1 334.2h0M649.1 291.0h0M734.5 384.0h0M736.2 384.0h0M736.8 387.6h0M737.2 385.0h0M752.4 329.8h0M705.2 346.0h0M722.6 382.3h0M727.7 379.0h0M724.5 379.4h0M742.4 319.9h0M746.3 250.9h0M759.0 385.5h0M764.3 388.0h0M785.6 309.2h0M696.2 360.7h0M694.5 359.7h0M675.4 248.8h0M655.8 268.3h0M787.4 381.3h0M786.7 391.4h0M664.6 362.7h0M680.7 246.1h0M747.5 245.4h0M655.9 318.6h0" stroke="#2d2896" stroke-width="2.6" stroke-linecap="round"/><path d="M787.8 370.6h0M673.7 337.0h0M687.4 271.9h0M688.1 275.2h0M656.5 337.2h0M656.3 336.3h0M664.0 365.0h0M791.8 382.2h0M792.3 374.0h0M685.6 388.3h0M685.5 384.1h0M718.4 249.0h0M730.3 379.7h0M722.9 378.0h0M727.2 378.3h0M741.6 320.7h0M742.7 319.4h0M742.4 249.6h0M743.7 249.6h0M743.6 246.5h0M762.7 382.7h0M762.2 387.0h0M787.1 310.5h0M783.4 312.8h0M655.6 261.1h0M668.1 358.4h0M682.4 247.9h0M679.3 250.4h0M678.3 253.7h0M676.2 250.1h0M751.4 248.2h0M748.2 242.0h0M744.4 247.8h0M790.2 379.8h0" stroke="#2d2896" stroke-width="3.2" stroke-linecap="round"/><path d="M791.7 368.0h0M787.8 369.7h0M789.5 366.2h0M778.8 374.1h0M653.2 260.0h0M734.5 382.9h0M755.7 257.4h0M676.4 341.5h0M675.5 339.7h0M692.3 250.5h0M667.6 361.8h0M671.4 361.7h0M669.3 358.2h0M663.9 363.9h0M650.9 293.2h0M650.1 297.4h0M655.6 289.8h0M792.8 377.4h0M680.6 385.4h0M680.8 380.0h0M683.0 386.2h0M718.4 248.6h0M722.3 248.8h0M735.2 379.1h0M697.8 361.3h0M738.5 381.8h0M787.2 254.8h0M785.8 254.5h0M788.5 256.8h0M676.0 292.0h0M723.1 377.7h0M722.5 379.9h0M719.5 383.3h0M742.9 247.2h0M787.0 311.0h0M785.3 342.9h0M675.0 251.2h0M654.1 389.1h0M653.5 266.8h0M653.8 264.1h0M763.1 337.8h0M655.1 326.9h0M788.0 392.0h0M790.0 387.4h0M790.0 388.4h0M787.8 252.4h0M789.5 251.3h0M741.5 247.4h0M651.0 255.2h0M659.5 330.5h0M658.9 330.7h0M779.5 264.0h0M775.6 261.8h0M685.8 250.2h0M705.7 260.8h0M704.5 261.1h0" stroke="#234bcd" stroke-width="2.0" stroke-linecap="round"/><path d="M788.9 368.8h0M789.9 369.1h0M690.9 378.4h0M694.0 376.4h0M696.2 381.4h0M660.4 258.0h0M739.3 382.0h0M759.1 254.7h0M758.2 260.8h0M757.4 254.5h0M655.7 337.5h0M657.0 338.2h0M794.3 378.9h0M793.8 373.9h0M789.5 371.5h0M791.7 380.0h0M652.8 305.4h0M657.2 300.6h0M704.0 360.7h0M793.6 253.9h0M790.0 255.9h0M660.6 297.3h0M754.1 335.2h0M791.7 300.2h0M795.6 300.5h0M787.6 347.1h0M672.7 384.0h0M757.9 344.1h0M786.5 247.3h0M788.2 252.2h0M778.2 269.8h0M787.4 330.2h0M783.4 335.5h0M651.6 250.3h0M658.5 329.0h0M659.3 332.0h0M752.5 247.1h0M658.8 254.1h0M648.9 271.3h0M779.2 260.4h0M683.7 382.7h0M658.5 321.8h0M792.5 380.2h0" stroke="#234bcd" stroke-width="2.6" stroke-linecap="round"/><path d="M788.2 369.6h0M734.5 380.9h0M655.1 338.3h0M667.8 359.4h0M657.8 367.4h0M653.2 292.5h0M791.0 375.1h0M681.2 389.3h0M684.3 381.3h0M717.8 246.4h0M721.7 243.9h0M762.9 385.9h0M762.8 384.3h0M783.5 306.3h0M786.9 305.4h0M770.8 259.0h0M678.1 248.0h0M789.4 251.2h0M782.1 271.1h0M778.2 273.3h0M779.1 273.4h0M738.3 249.8h0M788.7 334.6h0M788.3 337.5h0M667.6 362.3h0M661.4 364.6h0M769.6 383.4h0M651.2 253.6h0M656.7 330.8h0M655.0 332.7h0M655.7 332.8h0M782.9 311.6h0M649.6 270.6h0M778.3 269.7h0M772.1 266.7h0M679.3 246.5h0M683.7 248.8h0M677.2 385.3h0M656.5 317.4h0M657.7 314.6h0M657.0 318.2h0M657.4 321.3h0M791.1 382.6h0" stroke="#234bcd" stroke-width="3.2" stroke-linecap="round"/><path d="M789.9 369.0h0M767.4 249.9h0M763.6 249.9h0M781.8 383.1h0M657.2 255.9h0M657.1 261.3h0M790.9 249.6h0M733.6 382.0h0M658.0 384.6h0M658.4 382.9h0M657.8 384.7h0M654.8 245.4h0M651.8 246.8h0M689.7 246.6h0M730.9 378.7h0M726.7 380.1h0M722.9 248.7h0M657.3 304.2h0M788.7 315.0h0M738.2 385.2h0M739.9 380.3h0M721.4 389.4h0M660.5 295.7h0M721.0 260.2h0M664.6 298.4h0M665.4 294.8h0M662.9 249.9h0M658.5 251.9h0M787.4 337.8h0M783.0 348.1h0M769.2 251.1h0M677.5 247.9h0M669.7 383.5h0M655.2 388.4h0M655.9 383.8h0M649.3 265.6h0M650.6 260.1h0M652.9 324.7h0M790.4 252.5h0M658.2 383.8h0M770.2 385.6h0M783.6 306.8h0M653.9 253.1h0M775.7 265.7h0M683.1 252.3h0M680.8 383.4h0M681.7 383.0h0" stroke="#1e6ee6" stroke-width="2.0" stroke-linecap="round"/><path d="M692.8 378.7h0M692.6 387.4h0M691.3 382.5h0M780.8 380.4h0M794.1 252.9h0M761.7 260.6h0M785.3 377.4h0M740.3 264.3h0M702.1 388.2h0M690.4 248.3h0M688.0 250.4h0M790.3 300.7h0M727.3 380.7h0M719.3 246.4h0M724.6 250.7h0M729.5 252.0h0M735.0 386.3h0M741.6 384.7h0M787.4 257.6h0M716.2 386.4h0M653.2 297.5h0M656.9 299.0h0M660.2 297.4h0M659.1 298.1h0M717.8 378.6h0M658.5 253.8h0M651.3 252.9h0M698.0 381.5h0M782.9 387.8h0M789.1 306.9h0M787.3 303.2h0M791.0 310.6h0M650.8 352.8h0M784.3 346.7h0M771.8 257.0h0M771.9 255.5h0M674.1 248.8h0M650.0 326.5h0M651.5 329.3h0M651.4 317.1h0M785.7 250.8h0M715.7 252.4h0M664.2 381.8h0M790.1 351.7h0M785.4 306.2h0M780.2 310.8h0M653.9 252.2h0M655.2 253.5h0M682.4 249.0h0M678.2 387.9h0M787.0 379.7h0" stroke="#1e6ee6" stroke-width="2.6" stroke-linecap="round"/><path d="M655.1 254.9h0M739.4 386.3h0M736.8 381.6h0M760.0 257.5h0M675.7 249.9h0M676.1 253.0h0M651.4 247.6h0M648.4 241.5h0M691.2 244.1h0M691.0 247.8h0M724.9 379.6h0M731.5 379.8h0M729.6 381.8h0M660.3 365.3h0M716.9 252.3h0M723.4 252.5h0M723.6 253.7h0M725.3 251.2h0M725.9 251.2h0M790.0 253.6h0M789.6 256.9h0M661.9 299.2h0M654.7 253.4h0M783.2 385.1h0M786.3 384.6h0M785.1 302.2h0M653.6 353.9h0M655.6 354.7h0M787.8 348.3h0M788.5 345.1h0M770.2 252.4h0M768.7 254.9h0M671.6 385.1h0M672.0 382.7h0M649.2 265.5h0M652.3 328.9h0M789.1 252.7h0M785.1 336.6h0M652.1 385.8h0M773.4 386.4h0M679.8 376.3h0M708.8 254.1h0M652.5 296.9h0M652.8 257.1h0M655.2 267.6h0M680.0 386.5h0M678.1 383.4h0M682.1 383.4h0M789.3 381.4h0" stroke="#1e6ee6" stroke-width="3.2" stroke-linecap="round"/><path d="M769.7 250.9h0M662.0 328.4h0M680.1 250.1h0M680.5 249.8h0M792.5 250.9h0M674.1 254.1h0M674.9 252.5h0M777.2 344.3h0M652.8 251.7h0M700.9 387.0h0M700.1 388.4h0M787.4 301.4h0M730.2 378.2h0M702.4 249.6h0M721.3 251.4h0M791.5 315.3h0M784.6 319.1h0M726.6 253.1h0M736.5 385.0h0M789.8 340.1h0M715.9 380.8h0M646.9 330.7h0M650.8 335.6h0M714.5 316.4h0M700.1 381.2h0M792.0 305.1h0M787.0 364.6h0M787.0 365.2h0M714.4 255.0h0M651.5 385.1h0M682.9 382.1h0M660.4 383.4h0M704.9 255.7h0M787.6 357.4h0M790.5 351.0h0M650.1 295.8h0M656.8 251.7h0M700.2 263.1h0M682.4 387.0h0M654.5 346.1h0M656.3 352.7h0" stroke="#2396f0" stroke-width="2.0" stroke-linecap="round"/><path d="M767.4 252.5h0M765.4 246.2h0M678.5 251.7h0M784.3 369.8h0M740.1 268.2h0M702.3 382.1h0M791.9 300.9h0M789.5 303.8h0M787.2 317.8h0M786.3 310.6h0M791.3 333.5h0M786.2 338.0h0M658.9 298.0h0M699.8 384.7h0M792.9 339.7h0M787.5 301.7h0M788.8 358.4h0M785.5 341.5h0M770.6 256.3h0M669.1 387.0h0M655.3 319.7h0M652.3 320.2h0M711.2 252.3h0M716.7 254.4h0M740.1 247.2h0M651.9 385.4h0M681.8 380.5h0M662.4 378.4h0M662.0 383.1h0M768.6 383.5h0M707.0 259.9h0M789.7 353.1h0M788.6 355.4h0M706.8 259.7h0M702.4 262.1h0M657.0 351.1h0M653.4 346.4h0M655.8 348.3h0" stroke="#2396f0" stroke-width="2.6" stroke-linecap="round"/><path d="M765.8 253.5h0M656.5 258.4h0M788.9 252.6h0M789.5 251.6h0M788.5 249.8h0M785.4 372.3h0M699.1 386.3h0M687.7 252.3h0M699.8 249.0h0M789.8 312.7h0M661.2 325.0h0M786.4 341.8h0M789.3 339.6h0M716.8 384.6h0M651.0 331.4h0M701.3 380.5h0M788.1 341.8h0M786.5 343.5h0M673.5 381.8h0M673.6 387.6h0M655.9 388.9h0M682.6 384.6h0M705.4 257.1h0M706.2 256.1h0M704.2 256.1h0M708.7 257.2h0M790.2 349.7h0M648.5 249.6h0M704.5 260.0h0M657.4 348.6h0M649.7 347.2h0" stroke="#2396f0" stroke-width="3.2" stroke-linecap="round"/><path d="M661.8 327.1h0M659.5 327.4h0M793.1 249.2h0M784.8 372.7h0M780.4 369.9h0M780.4 346.4h0M779.1 343.9h0M713.0 249.2h0M713.7 258.8h0M789.9 284.2h0M665.1 324.6h0M658.7 326.2h0M662.4 325.1h0M743.0 379.2h0M788.3 339.6h0M789.0 391.1h0M786.7 371.0h0M650.0 314.3h0M786.7 357.9h0M662.4 386.7h0M653.1 293.3h0" stroke="#32b9f0" stroke-width="2.0" stroke-linecap="round"/><path d="M763.8 251.8h0M678.2 247.3h0M681.1 250.3h0M661.3 251.9h0M663.3 254.6h0M661.8 255.3h0M650.2 263.0h0M653.9 259.1h0M789.7 252.6h0M685.7 251.7h0M716.2 250.7h0M711.1 253.4h0M701.5 387.7h0M699.2 383.9h0M793.0 282.7h0M792.8 282.3h0M660.1 325.2h0M665.4 327.2h0M660.4 324.5h0M728.2 254.9h0M788.3 341.6h0M650.9 338.4h0M742.4 382.4h0M787.9 362.4h0M784.5 360.6h0M789.1 359.4h0M705.6 255.2h0M790.7 351.9h0" stroke="#32b9f0" stroke-width="2.6" stroke-linecap="round"/><path d="M765.5 251.3h0M666.7 250.9h0M651.1 260.4h0M652.5 259.3h0M653.8 257.6h0M653.4 257.3h0M685.7 253.7h0M676.4 249.4h0M774.6 347.6h0M782.4 345.7h0M774.3 346.8h0M713.2 256.5h0M711.5 252.4h0M698.4 249.8h0M791.1 283.8h0M662.4 324.8h0M789.8 336.6h0M792.1 322.0h0M793.8 319.0h0M740.1 381.6h0M788.3 361.5h0M714.0 253.4h0M786.9 350.4h0M654.2 347.6h0" stroke="#32b9f0" stroke-width="3.2" stroke-linecap="round"/><path d="M790.1 389.9h0M683.3 250.3h0M778.6 251.6h0M792.1 282.2h0M655.3 328.7h0M665.7 384.6h0" stroke="#3cc8aa" stroke-width="2.0" stroke-linecap="round"/><path d="M719.6 383.6h0M715.0 380.8h0M660.2 328.2h0M654.5 260.2h0M653.7 262.2h0M789.7 387.0h0M684.4 249.2h0M789.7 281.6h0M789.7 282.3h0M662.3 386.0h0M664.4 384.3h0M661.6 383.0h0M795.9 326.1h0M785.5 353.4h0M786.9 359.4h0M772.4 249.4h0" stroke="#3cc8aa" stroke-width="2.6" stroke-linecap="round"/><path d="M721.4 378.6h0M661.7 331.4h0M660.7 329.0h0M661.5 328.5h0M664.8 255.0h0M683.3 249.5h0M690.5 247.3h0M794.0 278.9h0M792.2 321.4h0M792.7 359.3h0M786.6 361.9h0M784.7 358.9h0M768.1 247.3h0" stroke="#3cc8aa" stroke-width="3.2" stroke-linecap="round"/><path d="M717.9 385.7h0M716.9 385.7h0M788.8 388.2h0M657.6 386.0h0M662.5 387.8h0M792.8 326.8h0M790.0 325.0h0" stroke="#96dc3c" stroke-width="2.0" stroke-linecap="round"/><path d="M717.9 382.1h0M720.1 378.7h0M684.7 247.8h0M779.8 255.8h0M792.2 326.8h0M775.4 248.0h0" stroke="#96dc3c" stroke-width="2.6" stroke-linecap="round"/><path d="M780.8 257.1h0M782.9 256.3h0M789.8 325.0h0M776.6 248.8h0" stroke="#96dc3c" stroke-width="3.2" stroke-linecap="round"/></g>
<g filter="url(#blur05)" transform="translate(659.0,259.5) rotate(0)">
<ellipse cx="0.0" cy="0.0" rx="3.0" ry="3.0" fill="#3244a8"/>
<ellipse cx="-0.5" cy="-0.0" rx="3.0" ry="3.0" fill="#3244a8"/>
<ellipse cx="-0.0" cy="0.2" rx="3.0" ry="3.0" fill="#3244a8"/>
<ellipse cx="0.0" cy="0.0" rx="2.4" ry="2.4" fill="#1890e8"/>
<ellipse cx="-0.5" cy="-0.0" rx="2.4" ry="2.4" fill="#1890e8"/>
<ellipse cx="-0.0" cy="0.2" rx="2.4" ry="2.4" fill="#1890e8"/>
<ellipse cx="0.0" cy="0.0" rx="1.8" ry="1.8" fill="#33c359"/>
<ellipse cx="-0.5" cy="-0.0" rx="1.8" ry="1.8" fill="#33c359"/>
<ellipse cx="-0.0" cy="0.2" rx="1.8" ry="1.8" fill="#33c359"/>
<ellipse cx="0.0" cy="0.0" rx="1.3" ry="1.3" fill="#f8c018"/>
<ellipse cx="-0.5" cy="-0.0" rx="1.3" ry="1.3" fill="#f8c018"/>
<ellipse cx="-0.0" cy="0.2" rx="1.3" ry="1.3" fill="#f8c018"/>
</g>
<g filter="url(#blur05)" transform="translate(667.0,254.5) rotate(0)">
<ellipse cx="0.0" cy="0.0" rx="2.7" ry="2.7" fill="#382477"/>
<ellipse cx="-0.3" cy="0.1" rx="2.7" ry="2.7" fill="#382477"/>
<ellipse cx="-0.3" cy="0.2" rx="2.7" ry="2.7" fill="#382477"/>
<ellipse cx="0.0" cy="0.0" rx="2.2" ry="2.2" fill="#206fd7"/>
<ellipse cx="-0.3" cy="0.1" rx="2.2" ry="2.2" fill="#206fd7"/>
<ellipse cx="-0.3" cy="0.2" rx="2.2" ry="2.2" fill="#206fd7"/>
<ellipse cx="0.0" cy="0.0" rx="1.7" ry="1.7" fill="#10b090"/>
<ellipse cx="-0.3" cy="0.1" rx="1.7" ry="1.7" fill="#10b090"/>
<ellipse cx="-0.3" cy="0.2" rx="1.7" ry="1.7" fill="#10b090"/>
<ellipse cx="0.0" cy="0.0" rx="1.2" ry="1.2" fill="#f0d818"/>
<ellipse cx="-0.3" cy="0.1" rx="1.2" ry="1.2" fill="#f0d818"/>
<ellipse cx="-0.3" cy="0.2" rx="1.2" ry="1.2" fill="#f0d818"/>
</g>
<g filter="url(#blur05)" transform="translate(655.0,270.5) rotate(0)">
<ellipse cx="0.0" cy="0.0" rx="2.7" ry="2.7" fill="#382d87"/>
<ellipse cx="0.4" cy="0.0" rx="2.7" ry="2.7" fill="#382d87"/>
<ellipse cx="0.2" cy="0.4" rx="2.7" ry="2.7" fill="#382d87"/>
<ellipse cx="0.0" cy="0.0" rx="2.2" ry="2.2" fill="#1d7add"/>
<ellipse cx="0.4" cy="0.0" rx="2.2" ry="2.2" fill="#1d7add"/>
<ellipse cx="0.2" cy="0.4" rx="2.2" ry="2.2" fill="#1d7add"/>
<ellipse cx="0.0" cy="0.0" rx="1.7" ry="1.7" fill="#16b67c"/>
<ellipse cx="0.4" cy="0.0" rx="1.7" ry="1.7" fill="#16b67c"/>
<ellipse cx="0.2" cy="0.4" rx="1.7" ry="1.7" fill="#16b67c"/>
<ellipse cx="0.0" cy="0.0" rx="1.2" ry="1.2" fill="#f2d018"/>
<ellipse cx="0.4" cy="0.0" rx="1.2" ry="1.2" fill="#f2d018"/>
<ellipse cx="0.2" cy="0.4" rx="1.2" ry="1.2" fill="#f2d018"/>
</g>
<g filter="url(#blur05)" transform="translate(676.0,351.5) rotate(0)">
<ellipse cx="0.0" cy="0.0" rx="4.6" ry="4.6" fill="#16b67c"/>
<ellipse cx="0.3" cy="0.8" rx="4.6" ry="4.6" fill="#16b67c"/>
<ellipse cx="-0.8" cy="0.2" rx="4.6" ry="4.6" fill="#16b67c"/>
<ellipse cx="0.0" cy="0.0" rx="3.6" ry="3.6" fill="#cede1e"/>
<ellipse cx="0.3" cy="0.8" rx="3.6" ry="3.6" fill="#cede1e"/>
<ellipse cx="-0.8" cy="0.2" rx="3.6" ry="3.6" fill="#cede1e"/>
<ellipse cx="0.0" cy="0.0" rx="2.8" ry="2.8" fill="#f29312"/>
<ellipse cx="0.3" cy="0.8" rx="2.8" ry="2.8" fill="#f29312"/>
<ellipse cx="-0.8" cy="0.2" rx="2.8" ry="2.8" fill="#f29312"/>
<ellipse cx="0.0" cy="0.0" rx="1.9" ry="1.9" fill="#9b040b"/>
<ellipse cx="0.3" cy="0.8" rx="1.9" ry="1.9" fill="#9b040b"/>
<ellipse cx="-0.8" cy="0.2" rx="1.9" ry="1.9" fill="#9b040b"/>
</g>
<g filter="url(#blur05)" transform="translate(656.0,373.5) rotate(0)">
<ellipse cx="0.0" cy="0.0" rx="2.7" ry="2.7" fill="#382477"/>
<ellipse cx="0.2" cy="-0.1" rx="2.7" ry="2.7" fill="#382477"/>
<ellipse cx="0.4" cy="0.0" rx="2.7" ry="2.7" fill="#382477"/>
<ellipse cx="0.0" cy="0.0" rx="2.2" ry="2.2" fill="#206fd7"/>
<ellipse cx="0.2" cy="-0.1" rx="2.2" ry="2.2" fill="#206fd7"/>
<ellipse cx="0.4" cy="0.0" rx="2.2" ry="2.2" fill="#206fd7"/>
<ellipse cx="0.0" cy="0.0" rx="1.7" ry="1.7" fill="#10b090"/>
<ellipse cx="0.2" cy="-0.1" rx="1.7" ry="1.7" fill="#10b090"/>
<ellipse cx="0.4" cy="0.0" rx="1.7" ry="1.7" fill="#10b090"/>
<ellipse cx="0.0" cy="0.0" rx="1.2" ry="1.2" fill="#f0d818"/>
<ellipse cx="0.2" cy="-0.1" rx="1.2" ry="1.2" fill="#f0d818"/>
<ellipse cx="0.4" cy="0.0" rx="1.2" ry="1.2" fill="#f0d818"/>
</g>
<g filter="url(#blur05)" transform="translate(671.0,252.5) rotate(0)">
<ellipse cx="0.0" cy="0.0" rx="2.3" ry="2.3" fill="#382d87"/>
<ellipse cx="-0.3" cy="0.2" rx="2.3" ry="2.3" fill="#382d87"/>
<ellipse cx="-0.2" cy="0.1" rx="2.3" ry="2.3" fill="#382d87"/>
<ellipse cx="0.0" cy="0.0" rx="1.8" ry="1.8" fill="#1d7add"/>
<ellipse cx="-0.3" cy="0.2" rx="1.8" ry="1.8" fill="#1d7add"/>
<ellipse cx="-0.2" cy="0.1" rx="1.8" ry="1.8" fill="#1d7add"/>
<ellipse cx="0.0" cy="0.0" rx="1.4" ry="1.4" fill="#16b67c"/>
<ellipse cx="-0.3" cy="0.2" rx="1.4" ry="1.4" fill="#16b67c"/>
<ellipse cx="-0.2" cy="0.1" rx="1.4" ry="1.4" fill="#16b67c"/>
<ellipse cx="0.0" cy="0.0" rx="1.0" ry="1.0" fill="#f2d018"/>
<ellipse cx="-0.3" cy="0.2" rx="1.0" ry="1.0" fill="#f2d018"/>
<ellipse cx="-0.2" cy="0.1" rx="1.0" ry="1.0" fill="#f2d018"/>
</g>
</g>
<rect x="665" y="264.5" width="28.5" height="28.5" fill="none" stroke="#fff" stroke-width="2.2" stroke-dasharray="5 3.2" opacity="0.95"/>
<rect x="665" y="337.5" width="28.5" height="28.5" fill="none" stroke="#fff" stroke-width="2.2" stroke-dasharray="5 3.2" opacity="0.95"/>
</g>
<g>
<rect x="828.00" y="242.50" width="148.00" height="148.00" fill="#2c0935" stroke="none" stroke-width="1" />
<clipPath id="hc12"><rect x="828" y="242.5" width="148" height="148"/></clipPath>
<g clip-path="url(#hc12)">
<rect x="837" y="251.5" width="130" height="130" fill="none" stroke="#2838a8" stroke-width="9" opacity="0.35" filter="url(#blur3)"/>
<path d="M899 337L889 333L874 331L856 315L843 298L839 286L833 274M956 258L948 246L937 246L937 246L917 246L908 246L911 246M851 306L870 317L894 315L903 305L920 299L939 288L954 280M840 346L859 360L875 367L892 383L907 383L926 379L945 386M840 359L832 365L832 374L832 374L832 374L832 370L832 370M920 257L909 268L889 290L870 312L867 340L869 354L860 381M837 286L835 271L832 266L832 246L833 246L832 246L832 246M920 281L898 278L870 286L858 281L832 280L832 290L832 298M929 279L934 302L933 314L919 327L913 344L893 352L865 355M963 351L937 361L915 357L898 359L878 353L857 366L832 361M954 371L941 359L924 359L897 368L876 367L864 364L841 357M888 283L873 302L873 313L881 336L877 359L863 369L861 386M895 274L884 264L858 251L842 259L833 269L832 281L832 285M928 272L901 273L884 282L858 278L838 284L832 282L832 272M964 324L948 305L931 295L916 290L902 295L888 299L876 322M874 374L849 363L842 348L832 338L832 318L832 300L836 285" fill="none" stroke="#3c3cc0" stroke-width="1.1" opacity="0.4" stroke-linejoin="round"/>
<g filter="url(#blur3)"><path d="M832.8 375.7h0M833.0 285.3h0M929.0 250.1h0M843.2 245.7h0M839.3 261.7h0M842.9 368.8h0" stroke="#2d2896" stroke-width="8" stroke-linecap="round" opacity="0.3"/><path d="M967.9 360.1h0M839.7 314.4h0M836.8 258.7h0M965.1 365.7h0M843.5 333.9h0M833.0 327.6h0M833.3 248.0h0M831.2 247.1h0M836.7 320.1h0M940.4 383.7h0M971.9 343.2h0M842.0 357.6h0M864.0 381.0h0M943.8 251.6h0M877.7 250.9h0M835.9 334.7h0M907.2 382.8h0M833.7 295.1h0M845.4 315.3h0M949.6 251.3h0M937.3 382.5h0" stroke="#234bcd" stroke-width="8" stroke-linecap="round" opacity="0.3"/><path d="M966.3 309.2h0M866.8 248.6h0M832.9 289.8h0M968.6 256.7h0M959.1 255.8h0M909.2 385.0h0M927.6 386.5h0M913.7 247.3h0M841.0 347.9h0M842.3 248.2h0M969.9 294.6h0M967.2 366.8h0M852.6 249.9h0M968.7 302.7h0M847.5 381.6h0M840.9 385.1h0M966.0 374.1h0M972.1 247.0h0M967.4 369.2h0M833.2 261.1h0M971.4 339.5h0M871.0 255.8h0M835.2 248.3h0M901.3 255.9h0" stroke="#1e6ee6" stroke-width="8" stroke-linecap="round" opacity="0.3"/><path d="M841.1 380.6h0M905.7 246.5h0M964.3 355.7h0M905.5 253.7h0M961.5 382.8h0M968.8 382.9h0M968.0 316.7h0M835.0 354.6h0M966.8 297.6h0M832.7 294.5h0M938.3 375.9h0M871.1 386.2h0M835.7 384.3h0M916.0 253.9h0M883.5 380.6h0M864.2 378.8h0M969.2 249.7h0M969.5 334.4h0M847.8 300.6h0M838.9 259.0h0M971.2 304.0h0" stroke="#2396f0" stroke-width="8" stroke-linecap="round" opacity="0.3"/><path d="M967.9 385.4h0M834.2 290.7h0M840.6 269.5h0M888.4 249.9h0M833.3 284.9h0M839.3 326.8h0M944.0 247.2h0M969.8 293.2h0M842.0 366.5h0M914.4 250.2h0" stroke="#32b9f0" stroke-width="8" stroke-linecap="round" opacity="0.3"/><path d="M832.2 331.7h0M888.7 383.9h0M965.6 328.8h0M880.0 247.3h0M965.9 376.5h0" stroke="#3cc8aa" stroke-width="8" stroke-linecap="round" opacity="0.3"/><path d="M853.9 250.5h0M839.7 337.8h0" stroke="#96dc3c" stroke-width="8" stroke-linecap="round" opacity="0.3"/></g>
<g filter="url(#blur06)"><path d="M833.8 371.8h0M834.1 376.1h0M937.7 349.4h0M833.0 284.6h0M877.9 334.9h0M833.7 332.1h0M925.0 252.8h0M944.2 384.0h0M839.3 242.0h0M843.4 244.5h0M971.9 344.8h0M843.3 358.2h0M839.7 263.9h0M840.3 260.0h0M863.4 385.9h0M865.8 383.7h0M945.7 253.1h0M950.0 253.6h0M941.1 380.2h0" stroke="#2d2896" stroke-width="2.0" stroke-linecap="round"/><path d="M937.6 280.8h0M895.2 271.1h0M854.2 262.4h0M857.3 259.4h0M834.1 285.7h0M830.0 285.8h0M827.8 244.5h0M875.2 290.9h0M931.2 245.5h0M930.7 251.3h0M926.6 245.1h0M931.9 246.6h0M840.2 240.2h0M915.3 367.1h0M840.7 260.2h0M844.7 297.4h0M843.8 368.4h0M848.3 370.1h0M844.1 371.0h0M844.7 372.3h0M935.4 385.1h0" stroke="#2d2896" stroke-width="2.6" stroke-linecap="round"/><path d="M935.9 284.6h0M963.9 366.1h0M896.1 267.0h0M830.0 373.5h0M934.9 353.0h0M937.9 352.7h0M838.6 316.7h0M930.6 251.8h0M929.8 254.6h0M972.9 342.4h0M847.3 296.7h0M844.4 367.3h0M845.8 368.5h0M881.5 250.8h0M890.8 296.2h0M848.3 316.3h0M842.2 315.8h0M893.8 267.6h0M940.4 381.2h0" stroke="#2d2896" stroke-width="3.2" stroke-linecap="round"/><path d="M964.9 363.5h0M963.7 310.9h0M840.8 316.6h0M833.9 315.2h0M838.6 255.1h0M839.7 259.3h0M830.5 286.2h0M968.5 255.1h0M954.7 256.1h0M914.9 247.4h0M833.1 326.4h0M835.4 323.3h0M971.8 294.0h0M830.4 248.0h0M833.0 250.0h0M854.0 252.7h0M838.5 318.1h0M835.7 316.7h0M849.3 381.1h0M846.6 380.8h0M939.2 384.3h0M976.2 343.8h0M975.0 347.4h0M973.7 345.2h0M840.2 259.5h0M860.0 380.7h0M947.8 251.2h0M943.6 252.6h0M942.8 253.2h0M944.9 250.6h0M837.4 333.4h0M838.2 339.6h0M908.9 378.2h0M906.3 386.1h0M832.2 296.4h0M832.1 249.7h0M947.6 254.7h0" stroke="#234bcd" stroke-width="2.0" stroke-linecap="round"/><path d="M840.6 313.0h0M841.8 313.6h0M837.1 255.8h0M964.4 368.4h0M963.4 361.4h0M841.8 332.4h0M967.8 258.7h0M967.0 257.5h0M858.9 261.4h0M853.6 263.6h0M836.2 248.4h0M829.4 245.2h0M848.3 360.8h0M877.1 296.5h0M841.4 244.3h0M840.6 383.2h0M971.0 246.5h0M971.7 342.8h0M942.4 248.4h0M879.1 252.7h0M972.2 342.6h0M833.8 332.0h0M909.0 381.2h0M893.8 291.5h0M847.5 313.8h0M938.7 387.7h0M941.1 383.6h0M933.5 385.8h0" stroke="#234bcd" stroke-width="2.6" stroke-linecap="round"/><path d="M969.4 360.7h0M966.9 363.6h0M834.8 260.7h0M848.5 333.5h0M907.2 383.0h0M857.4 263.7h0M858.7 266.1h0M917.1 245.6h0M838.9 349.6h0M842.7 349.3h0M841.6 250.3h0M831.5 325.9h0M829.9 329.4h0M834.1 324.9h0M832.5 327.8h0M832.3 246.8h0M834.6 250.9h0M831.1 248.1h0M846.2 356.4h0M843.4 384.3h0M971.8 247.3h0M973.6 246.3h0M974.7 248.9h0M842.8 359.2h0M842.6 357.2h0M838.7 259.8h0M859.2 376.4h0M966.5 371.3h0M942.5 253.4h0M836.8 330.3h0M837.2 331.1h0M909.3 382.7h0M909.1 385.7h0M892.8 289.7h0M835.7 290.3h0M838.1 293.0h0M934.9 363.4h0M831.4 246.1h0M950.5 247.6h0M878.7 261.4h0" stroke="#234bcd" stroke-width="3.2" stroke-linecap="round"/><path d="M966.7 308.8h0M965.3 310.5h0M967.8 305.1h0M869.0 250.7h0M837.6 311.9h0M836.3 288.9h0M903.9 250.6h0M901.3 306.4h0M971.1 256.8h0M972.1 256.4h0M908.6 383.6h0M905.4 386.2h0M927.2 387.3h0M909.1 245.6h0M911.7 250.9h0M840.2 345.1h0M837.7 327.7h0M971.9 296.9h0M828.4 247.3h0M835.7 253.2h0M966.0 369.5h0M938.5 374.6h0M936.1 375.3h0M970.3 298.8h0M850.9 376.8h0M868.2 383.1h0M835.3 385.2h0M833.5 382.6h0M965.3 378.7h0M927.4 280.1h0M932.5 278.6h0M928.5 281.1h0M967.8 370.2h0M942.7 253.3h0M831.1 335.0h0M872.4 253.7h0M971.9 251.9h0M968.0 251.0h0M827.9 251.4h0M844.2 319.1h0M903.9 258.0h0M838.2 256.1h0M972.3 303.9h0" stroke="#1e6ee6" stroke-width="2.0" stroke-linecap="round"/><path d="M965.9 360.1h0M965.7 311.3h0M866.5 250.7h0M965.5 368.2h0M966.6 361.6h0M958.1 258.4h0M856.3 262.2h0M931.1 389.1h0M838.4 349.3h0M841.4 248.8h0M972.1 296.9h0M971.5 292.7h0M965.7 365.1h0M967.0 364.3h0M848.9 249.3h0M967.7 307.0h0M968.3 302.1h0M836.5 321.0h0M842.1 378.6h0M849.7 377.9h0M938.7 383.7h0M968.4 375.9h0M963.5 378.3h0M968.9 376.0h0M964.1 369.2h0M848.3 366.6h0M844.9 358.6h0M839.8 358.2h0M859.2 380.9h0M834.5 261.2h0M877.4 249.8h0M971.8 339.7h0M869.5 255.9h0M865.1 255.2h0M952.7 278.9h0M832.0 249.0h0M832.2 247.9h0M835.8 244.1h0M899.5 256.7h0M900.2 256.7h0M971.4 305.0h0" stroke="#1e6ee6" stroke-width="2.6" stroke-linecap="round"/><path d="M967.9 310.8h0M968.7 308.0h0M969.8 311.9h0M924.9 325.2h0M840.1 383.9h0M902.6 245.5h0M833.5 286.3h0M845.4 334.3h0M955.9 256.3h0M910.6 384.3h0M968.0 322.0h0M857.2 262.3h0M924.3 389.5h0M913.3 247.6h0M913.1 249.1h0M911.3 248.3h0M839.6 345.4h0M841.9 346.1h0M840.9 347.2h0M967.5 292.1h0M972.7 294.0h0M852.3 248.3h0M855.0 248.3h0M968.4 304.3h0M968.3 301.0h0M928.4 313.2h0M844.7 379.5h0M833.7 382.6h0M841.9 385.6h0M842.0 385.4h0M970.3 374.2h0M974.9 244.3h0M974.6 247.9h0M848.3 363.9h0M911.7 363.9h0M969.5 367.4h0M970.3 368.9h0M830.2 256.6h0M834.0 262.9h0M835.7 264.2h0M832.2 260.4h0M973.0 337.3h0M866.7 379.2h0M970.1 249.8h0M838.4 251.9h0M830.5 248.8h0M901.6 257.3h0M966.1 333.8h0M969.1 334.2h0M846.6 302.6h0M879.0 264.3h0M974.4 303.5h0M937.3 384.0h0M938.8 382.1h0" stroke="#1e6ee6" stroke-width="3.2" stroke-linecap="round"/><path d="M909.3 245.8h0M834.1 286.1h0M833.9 291.6h0M965.6 358.0h0M966.8 357.9h0M909.7 254.8h0M958.0 377.2h0M961.6 379.2h0M972.1 260.7h0M971.1 318.4h0M968.8 316.2h0M836.4 284.8h0M925.0 387.7h0M834.0 293.2h0M937.0 375.6h0M845.6 352.9h0M929.7 318.8h0M872.4 385.4h0M914.9 252.8h0M913.5 249.4h0M966.1 367.7h0M964.6 372.7h0M969.2 341.3h0M881.9 385.1h0M864.6 375.3h0M863.9 378.9h0M971.2 293.2h0M970.0 249.2h0M899.6 257.1h0M849.5 300.6h0M971.8 303.4h0M971.1 305.6h0" stroke="#2396f0" stroke-width="2.0" stroke-linecap="round"/><path d="M839.9 381.4h0M904.0 244.6h0M906.4 247.1h0M963.5 381.3h0M959.7 384.3h0M828.6 293.8h0M830.4 294.4h0M838.7 241.4h0M937.3 375.2h0M937.9 375.0h0M937.8 374.7h0M970.1 303.4h0M968.2 304.2h0M871.6 386.0h0M869.6 384.3h0M842.5 388.6h0M965.2 378.2h0M915.6 250.8h0M942.6 245.6h0M943.5 245.2h0M947.5 246.8h0M966.9 365.6h0M884.9 380.8h0M866.0 375.3h0M972.9 250.4h0M914.8 248.9h0M901.7 251.6h0M973.8 332.4h0M968.3 334.7h0M973.0 328.6h0M844.3 300.5h0M850.2 299.4h0M838.0 260.8h0M971.3 303.6h0" stroke="#2396f0" stroke-width="2.6" stroke-linecap="round"/><path d="M925.7 336.1h0M926.0 334.6h0M865.9 249.6h0M903.5 249.1h0M834.1 290.3h0M964.3 356.6h0M906.7 254.3h0M908.0 251.3h0M889.2 249.6h0M892.1 247.8h0M964.5 383.7h0M967.6 380.5h0M967.2 319.8h0M839.9 354.3h0M837.6 354.8h0M971.6 297.3h0M927.2 388.9h0M927.8 387.5h0M923.1 387.4h0M925.8 385.8h0M914.0 243.9h0M829.6 294.6h0M834.9 296.7h0M838.2 344.9h0M871.2 383.0h0M869.4 385.7h0M834.6 382.5h0M843.7 381.3h0M970.1 374.9h0M917.2 255.4h0M882.1 382.9h0M884.5 377.3h0M863.2 380.4h0M850.0 303.0h0M835.6 259.9h0M840.9 259.1h0" stroke="#2396f0" stroke-width="3.2" stroke-linecap="round"/><path d="M840.9 379.2h0M966.3 384.2h0M964.3 384.5h0M836.4 267.5h0M839.9 269.2h0M838.3 272.4h0M902.8 250.8h0M971.1 325.1h0M885.2 248.0h0M878.0 244.4h0M834.5 283.0h0M830.0 281.5h0M831.3 352.6h0M840.0 324.7h0M939.2 379.1h0M868.5 388.9h0M880.9 376.4h0M840.9 370.0h0M908.8 250.1h0" stroke="#32b9f0" stroke-width="2.0" stroke-linecap="round"/><path d="M840.0 383.6h0M907.3 248.1h0M907.7 246.6h0M834.0 286.8h0M836.0 291.1h0M829.6 291.6h0M840.2 268.3h0M840.5 275.0h0M889.0 250.4h0M888.5 384.0h0M969.6 385.8h0M832.1 285.0h0M832.8 283.9h0M836.2 288.2h0M967.3 297.3h0M965.6 297.2h0M967.7 298.5h0M838.0 327.0h0M941.0 372.8h0M944.6 247.7h0M884.4 382.5h0M843.0 371.4h0M916.5 247.6h0M914.3 249.0h0M970.1 305.3h0" stroke="#32b9f0" stroke-width="2.6" stroke-linecap="round"/><path d="M829.5 291.5h0M831.8 289.0h0M837.0 288.8h0M966.3 352.9h0M837.9 268.1h0M838.0 273.4h0M877.7 244.6h0M836.8 282.7h0M967.0 300.1h0M964.8 303.0h0M967.2 297.5h0M964.4 298.0h0M829.7 293.5h0M840.0 327.4h0M870.6 387.0h0M939.8 246.9h0M969.7 295.6h0M969.4 290.3h0M841.6 369.5h0M916.1 249.8h0M965.6 334.6h0M846.9 300.5h0M971.2 304.9h0" stroke="#32b9f0" stroke-width="3.2" stroke-linecap="round"/><path d="M833.1 333.7h0M831.3 334.4h0M834.7 294.9h0M889.8 383.9h0M966.8 330.2h0M968.2 332.3h0M879.4 248.6h0M963.9 376.6h0" stroke="#3cc8aa" stroke-width="2.0" stroke-linecap="round"/><path d="M833.3 330.4h0M834.1 328.4h0M835.2 330.6h0M966.6 384.4h0M887.1 379.4h0M967.5 331.7h0M879.5 249.4h0M853.8 255.1h0M843.4 367.0h0M915.9 249.7h0" stroke="#3cc8aa" stroke-width="2.6" stroke-linecap="round"/><path d="M830.7 332.1h0M890.3 384.0h0M884.3 382.9h0M880.4 245.6h0M836.6 328.0h0M965.3 381.0h0" stroke="#3cc8aa" stroke-width="3.2" stroke-linecap="round"/><path d="M965.0 329.7h0M854.8 249.9h0M843.4 250.3h0M838.3 342.6h0" stroke="#96dc3c" stroke-width="2.0" stroke-linecap="round"/><path d="M839.5 339.7h0M840.9 337.0h0M842.6 338.9h0" stroke="#96dc3c" stroke-width="2.6" stroke-linecap="round"/><path d="M830.0 332.8h0M833.4 330.8h0M852.4 249.4h0M852.4 250.8h0M853.2 245.6h0M852.2 247.9h0M856.4 252.0h0M842.5 335.6h0M837.1 339.2h0M963.5 378.4h0" stroke="#96dc3c" stroke-width="3.2" stroke-linecap="round"/></g>
<g filter="url(#blur05)" transform="translate(836.0,260.5) rotate(90)">
<ellipse cx="0.0" cy="0.0" rx="5.8" ry="3.6" fill="#1cbc69"/>
<ellipse cx="0.1" cy="-0.7" rx="5.8" ry="3.6" fill="#1cbc69"/>
<ellipse cx="-0.5" cy="0.5" rx="5.8" ry="3.6" fill="#1cbc69"/>
<ellipse cx="0.0" cy="0.0" rx="4.6" ry="2.9" fill="#dbdc1c"/>
<ellipse cx="0.1" cy="-0.7" rx="4.6" ry="2.9" fill="#dbdc1c"/>
<ellipse cx="-0.5" cy="0.5" rx="4.6" ry="2.9" fill="#dbdc1c"/>
<ellipse cx="0.0" cy="0.0" rx="3.5" ry="2.2" fill="#f08610"/>
<ellipse cx="0.1" cy="-0.7" rx="3.5" ry="2.2" fill="#f08610"/>
<ellipse cx="-0.5" cy="0.5" rx="3.5" ry="2.2" fill="#f08610"/>
<ellipse cx="0.0" cy="0.0" rx="2.5" ry="1.5" fill="#89020d"/>
<ellipse cx="0.1" cy="-0.7" rx="2.5" ry="1.5" fill="#89020d"/>
<ellipse cx="-0.5" cy="0.5" rx="2.5" ry="1.5" fill="#89020d"/>
</g>
<g filter="url(#blur05)" transform="translate(844.0,254.5) rotate(0)">
<ellipse cx="0.0" cy="0.0" rx="2.7" ry="2.7" fill="#129ad2"/>
<ellipse cx="0.4" cy="0.0" rx="2.7" ry="2.7" fill="#129ad2"/>
<ellipse cx="0.3" cy="-0.3" rx="2.7" ry="2.7" fill="#129ad2"/>
<ellipse cx="0.0" cy="0.0" rx="2.2" ry="2.2" fill="#46c653"/>
<ellipse cx="0.4" cy="0.0" rx="2.2" ry="2.2" fill="#46c653"/>
<ellipse cx="0.3" cy="-0.3" rx="2.2" ry="2.2" fill="#46c653"/>
<ellipse cx="0.0" cy="0.0" rx="1.7" ry="1.7" fill="#f4cc18"/>
<ellipse cx="0.4" cy="0.0" rx="1.7" ry="1.7" fill="#f4cc18"/>
<ellipse cx="0.3" cy="-0.3" rx="1.7" ry="1.7" fill="#f4cc18"/>
<ellipse cx="0.0" cy="0.0" rx="1.2" ry="1.2" fill="#dc2b0d"/>
<ellipse cx="0.4" cy="0.0" rx="1.2" ry="1.2" fill="#dc2b0d"/>
<ellipse cx="0.3" cy="-0.3" rx="1.2" ry="1.2" fill="#dc2b0d"/>
</g>
<g filter="url(#blur05)" transform="translate(842.0,278.5) rotate(90)">
<ellipse cx="0.0" cy="0.0" rx="4.6" ry="3.0" fill="#1cbc69"/>
<ellipse cx="0.4" cy="0.3" rx="4.6" ry="3.0" fill="#1cbc69"/>
<ellipse cx="0.6" cy="-0.0" rx="4.6" ry="3.0" fill="#1cbc69"/>
<ellipse cx="0.0" cy="0.0" rx="3.6" ry="2.4" fill="#dbdc1c"/>
<ellipse cx="0.4" cy="0.3" rx="3.6" ry="2.4" fill="#dbdc1c"/>
<ellipse cx="0.6" cy="-0.0" rx="3.6" ry="2.4" fill="#dbdc1c"/>
<ellipse cx="0.0" cy="0.0" rx="2.8" ry="1.8" fill="#f08610"/>
<ellipse cx="0.4" cy="0.3" rx="2.8" ry="1.8" fill="#f08610"/>
<ellipse cx="0.6" cy="-0.0" rx="2.8" ry="1.8" fill="#f08610"/>
<ellipse cx="0.0" cy="0.0" rx="1.9" ry="1.3" fill="#89020d"/>
<ellipse cx="0.4" cy="0.3" rx="1.9" ry="1.3" fill="#89020d"/>
<ellipse cx="0.6" cy="-0.0" rx="1.9" ry="1.3" fill="#89020d"/>
</g>
<g filter="url(#blur05)" transform="translate(942.0,277.0) rotate(0)">
<ellipse cx="0.0" cy="0.0" rx="6.4" ry="4.3" fill="#1fbf60"/>
<ellipse cx="-0.7" cy="0.4" rx="6.4" ry="4.3" fill="#1fbf60"/>
<ellipse cx="0.7" cy="0.4" rx="6.4" ry="4.3" fill="#1fbf60"/>
<ellipse cx="0.0" cy="0.0" rx="5.0" ry="3.4" fill="#e2da1a"/>
<ellipse cx="-0.7" cy="0.4" rx="5.0" ry="3.4" fill="#e2da1a"/>
<ellipse cx="0.7" cy="0.4" rx="5.0" ry="3.4" fill="#e2da1a"/>
<ellipse cx="0.0" cy="0.0" rx="3.9" ry="2.6" fill="#f08010"/>
<ellipse cx="-0.7" cy="0.4" rx="3.9" ry="2.6" fill="#f08010"/>
<ellipse cx="0.7" cy="0.4" rx="3.9" ry="2.6" fill="#f08010"/>
<ellipse cx="0.0" cy="0.0" rx="2.7" ry="1.8" fill="#80010e"/>
<ellipse cx="-0.7" cy="0.4" rx="2.7" ry="1.8" fill="#80010e"/>
<ellipse cx="0.7" cy="0.4" rx="2.7" ry="1.8" fill="#80010e"/>
</g>
<g filter="url(#blur05)" transform="translate(834.0,354.5) rotate(0)">
<ellipse cx="0.0" cy="0.0" rx="2.7" ry="2.7" fill="#382d87"/>
<ellipse cx="0.3" cy="0.3" rx="2.7" ry="2.7" fill="#382d87"/>
<ellipse cx="0.2" cy="-0.4" rx="2.7" ry="2.7" fill="#382d87"/>
<ellipse cx="0.0" cy="0.0" rx="2.2" ry="2.2" fill="#1d7add"/>
<ellipse cx="0.3" cy="0.3" rx="2.2" ry="2.2" fill="#1d7add"/>
<ellipse cx="0.2" cy="-0.4" rx="2.2" ry="2.2" fill="#1d7add"/>
<ellipse cx="0.0" cy="0.0" rx="1.7" ry="1.7" fill="#16b67c"/>
<ellipse cx="0.3" cy="0.3" rx="1.7" ry="1.7" fill="#16b67c"/>
<ellipse cx="0.2" cy="-0.4" rx="1.7" ry="1.7" fill="#16b67c"/>
<ellipse cx="0.0" cy="0.0" rx="1.2" ry="1.2" fill="#f2d018"/>
<ellipse cx="0.3" cy="0.3" rx="1.2" ry="1.2" fill="#f2d018"/>
<ellipse cx="0.2" cy="-0.4" rx="1.2" ry="1.2" fill="#f2d018"/>
</g>
<g filter="url(#blur05)" transform="translate(933.0,251.5) rotate(0)">
<ellipse cx="0.0" cy="0.0" rx="2.1" ry="2.1" fill="#382477"/>
<ellipse cx="-0.5" cy="-0.1" rx="2.1" ry="2.1" fill="#382477"/>
<ellipse cx="0.3" cy="-0.2" rx="2.1" ry="2.1" fill="#382477"/>
<ellipse cx="0.0" cy="0.0" rx="1.7" ry="1.7" fill="#206fd7"/>
<ellipse cx="-0.5" cy="-0.1" rx="1.7" ry="1.7" fill="#206fd7"/>
<ellipse cx="0.3" cy="-0.2" rx="1.7" ry="1.7" fill="#206fd7"/>
<ellipse cx="0.0" cy="0.0" rx="1.3" ry="1.3" fill="#10b090"/>
<ellipse cx="-0.5" cy="-0.1" rx="1.3" ry="1.3" fill="#10b090"/>
<ellipse cx="0.3" cy="-0.2" rx="1.3" ry="1.3" fill="#10b090"/>
<ellipse cx="0.0" cy="0.0" rx="0.9" ry="0.9" fill="#f0d818"/>
<ellipse cx="-0.5" cy="-0.1" rx="0.9" ry="0.9" fill="#f0d818"/>
<ellipse cx="0.3" cy="-0.2" rx="0.9" ry="0.9" fill="#f0d818"/>
</g>
</g>
<rect x="928" y="264.5" width="28.5" height="28.5" fill="none" stroke="#fff" stroke-width="2.2" stroke-dasharray="5 3.2" opacity="0.95"/>
<rect x="848" y="337.5" width="28.5" height="28.5" fill="none" stroke="#fff" stroke-width="2.2" stroke-dasharray="5 3.2" opacity="0.95"/>
</g>
<g>
<rect x="647.00" y="397.00" width="148.00" height="148.00" fill="#2c0935" stroke="none" stroke-width="1" />
<clipPath id="hc13"><rect x="647" y="397" width="148" height="148"/></clipPath>
<g clip-path="url(#hc13)">
<rect x="656" y="406" width="130" height="130" fill="none" stroke="#2838a8" stroke-width="9" opacity="0.35" filter="url(#blur3)"/>
<path d="M689 495L692 482L689 470L671 452L651 449L651 455L651 468M735 407L748 431L746 457L730 477L704 479L681 493L660 506M729 462L720 475L723 501L710 528L696 541L684 541L665 541M678 432L660 437L651 439L651 453L651 467L655 484L674 497M781 456L787 447L785 421L791 402L790 401L791 401L791 401M768 454L745 435L730 416L709 408L690 401L666 401L651 401M677 495L688 498L707 507L716 513L731 520L741 517L751 524M695 441L676 443L651 454L651 470L651 498L651 516L651 529M659 471L674 469L701 474L722 469L735 462L744 451L748 441M707 416L710 407L719 401L732 401L738 401L742 401L751 401M764 434L762 444L771 459L788 481L785 492L781 504L769 515M773 477L788 475L791 482L791 491L791 497L791 491L791 492M724 526L702 532L676 522L664 526L651 533L651 536L651 527M666 412L676 419L692 442L683 466L679 489L662 506L652 529M669 446L685 445L702 452L711 448L722 435L737 433L760 447M710 536L711 521L710 493L710 479L707 460L692 444L666 444" fill="none" stroke="#3c3cc0" stroke-width="1.1" opacity="0.4" stroke-linejoin="round"/>
<g filter="url(#blur3)"><path d="M660.6 472.4h0M786.4 493.1h0M785.0 523.0h0M777.8 407.9h0M657.0 424.5h0" stroke="#2d2896" stroke-width="8" stroke-linecap="round" opacity="0.3"/><path d="M655.9 449.6h0M788.0 455.5h0M660.6 474.8h0M651.1 464.1h0M685.4 539.0h0M652.8 517.5h0M786.4 435.1h0M666.2 409.6h0M672.7 402.8h0M741.8 535.6h0M651.0 519.4h0M662.7 462.2h0M763.3 401.9h0M652.1 526.9h0M744.3 529.5h0M654.8 537.9h0M784.8 535.1h0M725.4 537.9h0M659.4 456.2h0M664.9 478.5h0M683.0 401.2h0" stroke="#234bcd" stroke-width="8" stroke-linecap="round" opacity="0.3"/><path d="M657.2 525.7h0M788.1 481.2h0M725.4 540.5h0M653.7 503.8h0M669.6 404.5h0M706.6 534.6h0M651.2 401.8h0M653.3 407.4h0M663.6 527.2h0M748.5 536.3h0M652.9 403.4h0M786.4 488.7h0M790.1 468.5h0M788.6 517.2h0M788.3 527.2h0M785.2 519.2h0M671.6 536.7h0M787.5 417.2h0M788.2 540.6h0M659.0 440.4h0M783.2 515.8h0M664.6 492.0h0M705.0 533.3h0M661.4 446.0h0M750.0 402.3h0M739.1 538.8h0M744.7 401.8h0M657.8 526.5h0M773.8 407.9h0" stroke="#1e6ee6" stroke-width="8" stroke-linecap="round" opacity="0.3"/><path d="M780.2 424.7h0M683.4 405.6h0M787.7 448.3h0M654.9 513.2h0M775.4 414.0h0M663.7 465.6h0M671.3 537.3h0M763.7 535.8h0M710.5 410.5h0M660.8 417.5h0M783.0 481.4h0" stroke="#2396f0" stroke-width="8" stroke-linecap="round" opacity="0.3"/><path d="M789.1 456.9h0M706.6 402.5h0M766.9 407.2h0M660.4 492.1h0M651.8 483.7h0M701.1 530.1h0M650.9 540.3h0M653.2 490.4h0M787.6 416.1h0M780.8 489.3h0M790.3 510.4h0M690.9 405.1h0M654.4 449.6h0M736.1 533.9h0M653.2 412.4h0M696.4 537.1h0M655.0 493.6h0M787.2 437.3h0M653.4 416.9h0M790.6 491.2h0M697.6 409.1h0" stroke="#32b9f0" stroke-width="8" stroke-linecap="round" opacity="0.3"/><path d="M658.3 402.2h0" stroke="#3cc8aa" stroke-width="8" stroke-linecap="round" opacity="0.3"/><path d="M788.5 478.6h0" stroke="#96dc3c" stroke-width="8" stroke-linecap="round" opacity="0.3"/></g>
<g filter="url(#blur06)"><path d="M665.2 469.7h0M771.6 476.8h0M667.5 498.7h0M674.3 503.5h0M670.5 500.4h0M775.3 443.5h0M772.0 445.3h0M789.4 490.6h0M714.5 487.9h0M782.7 521.4h0M745.3 535.2h0M652.5 521.7h0M660.1 467.3h0M774.4 410.7h0M778.6 411.2h0M685.4 440.4h0M728.0 516.7h0M654.5 529.3h0M649.6 541.4h0M789.0 534.5h0M671.7 499.3h0M667.6 501.0h0M752.1 409.9h0M654.5 423.1h0" stroke="#2d2896" stroke-width="2.0" stroke-linecap="round"/><path d="M663.0 475.3h0M656.8 446.6h0M791.9 459.8h0M676.9 407.1h0M650.1 461.9h0M648.5 461.8h0M668.3 502.5h0M669.0 501.8h0M667.2 502.0h0M669.2 497.4h0M786.9 495.7h0M784.8 493.7h0M662.4 409.5h0M784.3 522.3h0M688.1 481.1h0M738.4 431.3h0M738.4 428.0h0M659.8 519.0h0M657.3 523.3h0M778.8 405.5h0M781.1 411.3h0M762.7 402.2h0M653.3 536.1h0M650.3 533.8h0M782.9 533.8h0M782.4 535.9h0M721.4 537.9h0M686.9 467.4h0M671.5 500.1h0M670.1 493.4h0M671.9 497.2h0M697.3 445.0h0M655.8 425.0h0" stroke="#2d2896" stroke-width="2.6" stroke-linecap="round"/><path d="M659.1 469.1h0M663.7 474.4h0M772.1 481.4h0M675.9 407.0h0M668.2 403.0h0M649.9 463.0h0M738.0 495.2h0M785.9 495.9h0M782.2 493.4h0M788.0 494.6h0M781.5 525.6h0M786.5 521.4h0M673.5 404.9h0M768.6 472.5h0M654.8 518.2h0M657.9 520.2h0M779.1 404.8h0M775.2 408.5h0M763.0 403.4h0M671.5 441.1h0M773.6 503.8h0M774.7 507.4h0M786.8 533.8h0M668.4 493.7h0M672.1 497.9h0M658.8 454.2h0M755.4 409.1h0M668.0 475.2h0M680.2 404.4h0M653.9 428.2h0" stroke="#2d2896" stroke-width="3.2" stroke-linecap="round"/><path d="M784.4 478.7h0M726.2 541.7h0M756.2 510.5h0M655.8 446.6h0M787.7 452.5h0M791.0 454.9h0M791.8 457.0h0M652.4 506.2h0M651.4 503.8h0M657.5 472.5h0M673.1 407.9h0M670.7 407.1h0M666.9 503.6h0M653.1 400.7h0M653.3 406.8h0M728.6 437.8h0M651.1 518.9h0M788.4 433.7h0M785.5 432.4h0M667.3 407.3h0M667.1 406.5h0M665.6 524.0h0M790.9 467.4h0M651.2 522.8h0M650.2 523.3h0M650.1 517.6h0M652.1 515.4h0M654.5 519.3h0M649.4 523.3h0M787.5 527.5h0M785.5 527.6h0M661.5 462.3h0M777.0 407.3h0M776.5 409.8h0M659.9 438.6h0M786.1 519.0h0M655.9 524.3h0M653.5 525.5h0M673.3 439.3h0M670.4 440.3h0M674.4 441.1h0M744.5 532.4h0M730.8 536.5h0M723.5 532.2h0M688.9 459.6h0M753.6 401.9h0M749.6 403.0h0M672.7 498.3h0M671.1 497.3h0M748.0 426.9h0M742.5 538.6h0M660.6 456.5h0M664.0 480.9h0M745.1 397.9h0M696.9 443.6h0M657.1 423.6h0M778.4 413.2h0" stroke="#234bcd" stroke-width="2.0" stroke-linecap="round"/><path d="M725.7 538.2h0M726.2 539.4h0M659.8 448.3h0M658.7 476.2h0M706.5 531.9h0M688.1 542.1h0M685.1 536.5h0M686.9 545.8h0M786.3 432.5h0M664.1 410.1h0M748.1 535.5h0M750.2 534.9h0M784.6 488.9h0M710.6 474.3h0M673.8 404.0h0M673.3 405.8h0M672.0 406.8h0M676.1 407.2h0M671.8 403.8h0M737.9 445.2h0M789.1 522.6h0M711.3 415.2h0M667.8 540.2h0M661.3 464.2h0M762.6 403.3h0M686.8 441.3h0M651.7 528.3h0M669.5 491.1h0M668.4 436.3h0M671.9 438.4h0M673.0 440.2h0M775.5 506.9h0M744.2 531.0h0M704.4 533.7h0M781.0 535.3h0M784.8 537.8h0M723.3 538.6h0M669.6 496.3h0M671.3 502.2h0M672.2 498.6h0M748.8 428.1h0M657.3 449.1h0M658.7 455.9h0M670.8 483.2h0M685.4 400.6h0" stroke="#234bcd" stroke-width="2.6" stroke-linecap="round"/><path d="M657.1 526.4h0M661.1 473.4h0M725.0 542.0h0M726.3 541.3h0M654.6 450.4h0M791.5 456.4h0M787.5 452.4h0M663.8 472.9h0M663.0 483.1h0M661.3 472.9h0M705.8 532.6h0M708.7 529.1h0M652.7 518.9h0M787.3 436.7h0M665.8 412.7h0M664.4 408.6h0M652.3 404.0h0M706.1 474.4h0M710.2 473.1h0M671.8 404.5h0M744.3 530.0h0M741.1 537.0h0M707.6 417.5h0M789.4 419.3h0M785.2 415.5h0M658.4 458.1h0M661.2 461.5h0M787.1 541.5h0M651.7 524.3h0M653.4 527.1h0M662.3 492.3h0M749.8 530.9h0M702.0 528.2h0M725.2 539.0h0M658.8 441.6h0M673.2 498.1h0M667.4 497.0h0M748.3 425.3h0M656.8 456.3h0M660.2 456.5h0M680.3 402.0h0M740.8 403.1h0M655.6 525.6h0" stroke="#234bcd" stroke-width="3.2" stroke-linecap="round"/><path d="M656.2 525.6h0M656.1 520.4h0M724.2 541.5h0M758.0 513.6h0M790.5 454.4h0M787.9 455.0h0M657.0 502.0h0M663.9 476.6h0M656.7 515.0h0M672.5 406.4h0M778.4 418.0h0M769.6 411.6h0M651.9 403.8h0M650.3 404.2h0M683.6 539.1h0M759.9 536.2h0M650.3 517.0h0M788.6 429.0h0M752.3 536.0h0M788.0 467.7h0M787.8 520.3h0M788.2 515.5h0M791.1 529.3h0M786.8 517.2h0M786.1 516.7h0M707.0 416.1h0M737.4 427.9h0M790.1 416.9h0M790.7 421.6h0M789.3 537.8h0M784.3 541.9h0M658.4 438.8h0M707.8 515.8h0M784.4 513.8h0M654.3 526.1h0M652.7 524.6h0M662.0 489.6h0M742.3 533.4h0M654.1 538.6h0M653.3 535.9h0M704.2 534.6h0M705.8 530.5h0M707.1 531.2h0M725.0 539.9h0M725.0 536.5h0M662.3 446.0h0M683.3 399.1h0M659.8 525.0h0M775.4 411.0h0" stroke="#1e6ee6" stroke-width="2.0" stroke-linecap="round"/><path d="M656.5 526.2h0M657.2 522.6h0M657.5 525.4h0M787.8 482.3h0M789.2 477.8h0M786.2 482.8h0M783.8 425.4h0M671.9 405.5h0M707.1 532.8h0M653.3 401.1h0M651.1 400.4h0M654.2 402.0h0M735.3 497.9h0M649.9 410.7h0M687.4 540.6h0M765.5 534.7h0M665.2 413.5h0M666.0 525.2h0M751.6 537.4h0M747.5 535.7h0M746.5 539.7h0M748.7 540.5h0M655.0 404.2h0M657.4 404.7h0M788.6 488.0h0M788.1 472.3h0M790.8 466.7h0M792.5 468.5h0M786.0 516.9h0M743.8 538.2h0M788.6 527.8h0M785.8 519.9h0M783.8 517.9h0M670.9 535.5h0M786.8 415.7h0M787.2 545.6h0M787.5 542.2h0M782.7 511.2h0M781.6 517.9h0M666.5 488.7h0M667.4 492.9h0M655.2 536.5h0M657.5 535.0h0M786.3 535.8h0M750.0 403.8h0M740.2 541.3h0M657.9 457.7h0M717.5 496.9h0M744.4 398.6h0M744.4 403.4h0M744.4 401.2h0" stroke="#1e6ee6" stroke-width="2.6" stroke-linecap="round"/><path d="M785.6 479.4h0M719.2 543.1h0M776.8 424.1h0M655.9 472.2h0M679.0 402.4h0M670.2 406.5h0M703.6 533.4h0M706.0 535.7h0M649.4 404.5h0M654.5 403.6h0M656.7 404.2h0M685.4 541.1h0M663.6 526.8h0M789.5 466.9h0M789.9 465.9h0M785.7 513.3h0M786.4 516.0h0M787.9 517.6h0M787.8 514.9h0M705.9 420.4h0M708.4 419.8h0M710.4 421.6h0M785.8 416.8h0M786.1 419.2h0M662.1 459.6h0M786.7 542.5h0M661.5 437.9h0M785.5 515.6h0M781.8 516.6h0M671.2 432.5h0M651.3 538.0h0M706.2 528.1h0M703.4 531.0h0M660.5 444.1h0M740.4 540.5h0M657.6 457.7h0M658.5 529.0h0M773.4 407.3h0M773.7 406.8h0M773.6 408.3h0M775.5 409.1h0" stroke="#1e6ee6" stroke-width="3.2" stroke-linecap="round"/><path d="M684.9 405.3h0M782.0 450.3h0M788.8 443.6h0M787.3 447.5h0M656.6 513.3h0M654.8 512.2h0M652.7 514.3h0M656.8 512.1h0M658.4 515.2h0M652.1 513.1h0M776.5 414.3h0M669.6 466.0h0M661.8 465.5h0M672.5 537.6h0M673.9 536.4h0M665.1 490.6h0M700.4 528.5h0M651.6 541.1h0M673.4 535.1h0M656.0 491.3h0M711.6 408.8h0M789.3 541.0h0M659.3 444.0h0M783.5 490.2h0M753.0 483.3h0M662.8 489.7h0M697.7 537.7h0M789.5 435.9h0" stroke="#2396f0" stroke-width="2.0" stroke-linecap="round"/><path d="M789.7 481.2h0M779.7 424.1h0M782.0 426.0h0M682.2 402.9h0M667.8 405.2h0M774.8 415.3h0M771.0 406.5h0M653.3 403.0h0M650.8 486.0h0M763.7 538.4h0M763.5 533.9h0M788.3 468.8h0M790.7 527.1h0M788.8 528.2h0M713.2 407.2h0M710.9 410.2h0M779.6 411.3h0M779.2 489.4h0M665.7 496.7h0M665.4 446.5h0M779.0 481.4h0M656.2 412.1h0M651.4 410.8h0M696.1 537.5h0M787.4 439.5h0M658.8 526.0h0" stroke="#2396f0" stroke-width="2.6" stroke-linecap="round"/><path d="M657.2 523.9h0M653.0 502.4h0M766.3 402.2h0M663.4 462.6h0M672.1 540.2h0M764.8 535.7h0M765.9 537.7h0M763.3 534.2h0M663.3 524.8h0M653.1 404.5h0M784.2 487.2h0M788.9 525.1h0M705.9 419.7h0M704.1 416.3h0M709.0 410.7h0M657.3 441.9h0M787.8 412.5h0M659.6 418.7h0M689.7 405.9h0M652.2 445.7h0M737.3 539.3h0M782.9 480.3h0M746.2 405.6h0M742.1 402.6h0M742.5 402.9h0M656.8 526.9h0" stroke="#2396f0" stroke-width="3.2" stroke-linecap="round"/><path d="M786.5 426.9h0M788.6 458.7h0M687.0 402.7h0M705.7 401.4h0M706.1 398.0h0M766.7 404.9h0M766.3 406.9h0M655.4 496.2h0M656.0 492.7h0M659.6 489.8h0M647.3 481.9h0M648.8 483.6h0M652.4 484.1h0M654.7 484.2h0M762.2 534.3h0M710.0 409.8h0M785.9 419.0h0M655.7 419.3h0M689.4 404.7h0M691.7 404.5h0M653.8 448.8h0M733.7 533.2h0M653.6 412.2h0M695.6 538.4h0M655.6 496.3h0M654.7 418.6h0M652.2 415.0h0M790.7 490.4h0M785.7 488.0h0M700.5 409.9h0M697.7 411.9h0" stroke="#32b9f0" stroke-width="2.0" stroke-linecap="round"/><path d="M780.6 429.3h0M792.0 456.9h0M789.5 455.5h0M789.7 457.2h0M787.7 457.7h0M784.5 447.4h0M786.0 447.2h0M655.1 513.3h0M767.5 409.6h0M769.4 406.8h0M669.6 532.7h0M653.1 486.4h0M650.0 490.8h0M788.2 418.8h0M782.5 493.1h0M791.0 505.1h0M790.2 509.9h0M692.3 405.5h0M646.2 447.8h0M738.5 533.2h0M652.4 412.6h0M655.2 494.9h0M655.6 495.8h0M791.2 436.3h0M654.3 417.6h0M701.9 407.7h0" stroke="#32b9f0" stroke-width="2.6" stroke-linecap="round"/><path d="M706.5 407.5h0M707.2 402.8h0M763.9 402.2h0M659.9 493.8h0M697.9 529.1h0M706.2 532.9h0M700.4 531.3h0M655.3 540.7h0M655.6 403.2h0M654.8 489.3h0M785.9 413.7h0M782.4 490.8h0M778.7 488.0h0M660.4 417.8h0M689.9 407.4h0M688.8 400.2h0M656.5 452.4h0M738.3 535.7h0M781.4 480.1h0M655.6 417.7h0M700.4 529.5h0M653.3 489.6h0M790.0 442.7h0M791.1 491.8h0M789.4 487.2h0M788.3 486.6h0M694.9 410.0h0" stroke="#32b9f0" stroke-width="3.2" stroke-linecap="round"/><path d="M791.9 455.7h0M659.0 406.6h0M656.5 402.7h0M782.4 488.7h0M789.3 507.0h0M783.6 433.3h0M793.7 492.8h0" stroke="#3cc8aa" stroke-width="2.0" stroke-linecap="round"/><path d="M707.4 402.2h0M702.9 399.7h0M652.0 540.9h0M662.1 403.4h0M659.7 401.8h0M659.6 404.8h0M651.7 487.5h0M789.7 511.5h0M787.5 511.0h0M734.0 531.2h0M650.3 412.3h0M698.1 410.3h0" stroke="#3cc8aa" stroke-width="2.6" stroke-linecap="round"/><path d="M788.4 460.5h0M664.3 497.2h0M655.9 484.4h0M660.6 403.8h0M777.6 487.8h0M692.3 406.9h0M688.9 406.5h0M697.1 534.4h0M791.4 490.8h0M696.5 411.4h0" stroke="#3cc8aa" stroke-width="3.2" stroke-linecap="round"/><path d="M791.4 479.3h0" stroke="#96dc3c" stroke-width="2.0" stroke-linecap="round"/><path d="M786.8 476.6h0M791.2 479.1h0" stroke="#96dc3c" stroke-width="3.2" stroke-linecap="round"/></g>
<g filter="url(#blur05)" transform="translate(674.0,406.0) rotate(0)">
<ellipse cx="0.0" cy="0.0" rx="3.3" ry="3.3" fill="#1c7fe0"/>
<ellipse cx="-0.3" cy="0.0" rx="3.3" ry="3.3" fill="#1c7fe0"/>
<ellipse cx="0.6" cy="-0.1" rx="3.3" ry="3.3" fill="#1c7fe0"/>
<ellipse cx="0.0" cy="0.0" rx="2.6" ry="2.6" fill="#10b090"/>
<ellipse cx="-0.3" cy="0.0" rx="2.6" ry="2.6" fill="#10b090"/>
<ellipse cx="0.6" cy="-0.1" rx="2.6" ry="2.6" fill="#10b090"/>
<ellipse cx="0.0" cy="0.0" rx="2.0" ry="2.0" fill="#d5dd1d"/>
<ellipse cx="-0.3" cy="0.0" rx="2.0" ry="2.0" fill="#d5dd1d"/>
<ellipse cx="0.6" cy="-0.1" rx="2.0" ry="2.0" fill="#d5dd1d"/>
<ellipse cx="0.0" cy="0.0" rx="1.4" ry="1.4" fill="#ed6a10"/>
<ellipse cx="-0.3" cy="0.0" rx="1.4" ry="1.4" fill="#ed6a10"/>
<ellipse cx="0.6" cy="-0.1" rx="1.4" ry="1.4" fill="#ed6a10"/>
</g>
<g filter="url(#blur05)" transform="translate(660.0,416.0) rotate(0)">
<ellipse cx="0.0" cy="0.0" rx="2.7" ry="2.7" fill="#2b59c1"/>
<ellipse cx="-0.2" cy="0.4" rx="2.7" ry="2.7" fill="#2b59c1"/>
<ellipse cx="0.0" cy="0.4" rx="2.7" ry="2.7" fill="#2b59c1"/>
<ellipse cx="0.0" cy="0.0" rx="2.2" ry="2.2" fill="#129ad2"/>
<ellipse cx="-0.2" cy="0.4" rx="2.2" ry="2.2" fill="#129ad2"/>
<ellipse cx="0.0" cy="0.4" rx="2.2" ry="2.2" fill="#129ad2"/>
<ellipse cx="0.0" cy="0.0" rx="1.7" ry="1.7" fill="#80d040"/>
<ellipse cx="-0.2" cy="0.4" rx="1.7" ry="1.7" fill="#80d040"/>
<ellipse cx="0.0" cy="0.4" rx="1.7" ry="1.7" fill="#80d040"/>
<ellipse cx="0.0" cy="0.0" rx="1.2" ry="1.2" fill="#f4a614"/>
<ellipse cx="-0.2" cy="0.4" rx="1.2" ry="1.2" fill="#f4a614"/>
<ellipse cx="0.0" cy="0.4" rx="1.2" ry="1.2" fill="#f4a614"/>
</g>
<g filter="url(#blur05)" transform="translate(788.0,412.0) rotate(0)">
<ellipse cx="0.0" cy="0.0" rx="3.6" ry="3.6" fill="#1cbc69"/>
<ellipse cx="0.5" cy="-0.6" rx="3.6" ry="3.6" fill="#1cbc69"/>
<ellipse cx="0.8" cy="0.1" rx="3.6" ry="3.6" fill="#1cbc69"/>
<ellipse cx="0.0" cy="0.0" rx="2.9" ry="2.9" fill="#dbdc1c"/>
<ellipse cx="0.5" cy="-0.6" rx="2.9" ry="2.9" fill="#dbdc1c"/>
<ellipse cx="0.8" cy="0.1" rx="2.9" ry="2.9" fill="#dbdc1c"/>
<ellipse cx="0.0" cy="0.0" rx="2.2" ry="2.2" fill="#f08610"/>
<ellipse cx="0.5" cy="-0.6" rx="2.2" ry="2.2" fill="#f08610"/>
<ellipse cx="0.8" cy="0.1" rx="2.2" ry="2.2" fill="#f08610"/>
<ellipse cx="0.0" cy="0.0" rx="1.5" ry="1.5" fill="#89020d"/>
<ellipse cx="0.5" cy="-0.6" rx="1.5" ry="1.5" fill="#89020d"/>
<ellipse cx="0.8" cy="0.1" rx="1.5" ry="1.5" fill="#89020d"/>
</g>
<g filter="url(#blur05)" transform="translate(661.0,526.0) rotate(38)">
<ellipse cx="0.0" cy="0.0" rx="9.1" ry="4.6" fill="#1fbf60"/>
<ellipse cx="0.6" cy="0.1" rx="9.1" ry="4.6" fill="#1fbf60"/>
<ellipse cx="-0.8" cy="0.4" rx="9.1" ry="4.6" fill="#1fbf60"/>
<ellipse cx="0.0" cy="0.0" rx="7.2" ry="3.6" fill="#e2da1a"/>
<ellipse cx="0.6" cy="0.1" rx="7.2" ry="3.6" fill="#e2da1a"/>
<ellipse cx="-0.8" cy="0.4" rx="7.2" ry="3.6" fill="#e2da1a"/>
<ellipse cx="0.0" cy="0.0" rx="5.5" ry="2.8" fill="#f08010"/>
<ellipse cx="0.6" cy="0.1" rx="5.5" ry="2.8" fill="#f08010"/>
<ellipse cx="-0.8" cy="0.4" rx="5.5" ry="2.8" fill="#f08010"/>
<ellipse cx="0.0" cy="0.0" rx="3.8" ry="1.9" fill="#80010e"/>
<ellipse cx="0.6" cy="0.1" rx="3.8" ry="1.9" fill="#80010e"/>
<ellipse cx="-0.8" cy="0.4" rx="3.8" ry="1.9" fill="#80010e"/>
</g>
<g filter="url(#blur05)" transform="translate(781.0,536.0) rotate(-60)">
<ellipse cx="0.0" cy="0.0" rx="7.2" ry="4.3" fill="#1cbc69"/>
<ellipse cx="-0.3" cy="-0.4" rx="7.2" ry="4.3" fill="#1cbc69"/>
<ellipse cx="-0.2" cy="0.7" rx="7.2" ry="4.3" fill="#1cbc69"/>
<ellipse cx="0.0" cy="0.0" rx="5.7" ry="3.4" fill="#dbdc1c"/>
<ellipse cx="-0.3" cy="-0.4" rx="5.7" ry="3.4" fill="#dbdc1c"/>
<ellipse cx="-0.2" cy="0.7" rx="5.7" ry="3.4" fill="#dbdc1c"/>
<ellipse cx="0.0" cy="0.0" rx="4.4" ry="2.6" fill="#f08610"/>
<ellipse cx="-0.3" cy="-0.4" rx="4.4" ry="2.6" fill="#f08610"/>
<ellipse cx="-0.2" cy="0.7" rx="4.4" ry="2.6" fill="#f08610"/>
<ellipse cx="0.0" cy="0.0" rx="3.0" ry="1.8" fill="#89020d"/>
<ellipse cx="-0.3" cy="-0.4" rx="3.0" ry="1.8" fill="#89020d"/>
<ellipse cx="-0.2" cy="0.7" rx="3.0" ry="1.8" fill="#89020d"/>
</g>
<g filter="url(#blur05)" transform="translate(774.0,526.0) rotate(0)">
<ellipse cx="0.0" cy="0.0" rx="2.4" ry="2.4" fill="#2b59c1"/>
<ellipse cx="0.1" cy="0.0" rx="2.4" ry="2.4" fill="#2b59c1"/>
<ellipse cx="-0.5" cy="0.2" rx="2.4" ry="2.4" fill="#2b59c1"/>
<ellipse cx="0.0" cy="0.0" rx="1.9" ry="1.9" fill="#129ad2"/>
<ellipse cx="0.1" cy="0.0" rx="1.9" ry="1.9" fill="#129ad2"/>
<ellipse cx="-0.5" cy="0.2" rx="1.9" ry="1.9" fill="#129ad2"/>
<ellipse cx="0.0" cy="0.0" rx="1.5" ry="1.5" fill="#80d040"/>
<ellipse cx="0.1" cy="0.0" rx="1.5" ry="1.5" fill="#80d040"/>
<ellipse cx="-0.5" cy="0.2" rx="1.5" ry="1.5" fill="#80d040"/>
<ellipse cx="0.0" cy="0.0" rx="1.0" ry="1.0" fill="#f4a614"/>
<ellipse cx="0.1" cy="0.0" rx="1.0" ry="1.0" fill="#f4a614"/>
<ellipse cx="-0.5" cy="0.2" rx="1.0" ry="1.0" fill="#f4a614"/>
</g>
</g>
<rect x="664" y="420" width="28.5" height="28.5" fill="none" stroke="#fff" stroke-width="2.2" stroke-dasharray="5 3.2" opacity="0.95"/>
<rect x="664" y="492.5" width="28.5" height="28.5" fill="none" stroke="#fff" stroke-width="2.2" stroke-dasharray="5 3.2" opacity="0.95"/>
</g>
<g>
<rect x="828.00" y="397.00" width="148.00" height="148.00" fill="#2c0935" stroke="none" stroke-width="1" />
<clipPath id="hc14"><rect x="828" y="397" width="148" height="148"/></clipPath>
<g clip-path="url(#hc14)">
<rect x="837" y="406" width="130" height="130" fill="none" stroke="#2838a8" stroke-width="9" opacity="0.35" filter="url(#blur3)"/>
<path d="M850 498L853 483L846 459L847 443L853 426L862 418L872 401M883 439L890 428L905 410L906 401L897 401L883 401L874 401M967 463L961 440L944 427L935 416L908 412L895 409L880 408M941 471L945 482L953 490L956 502L960 513L967 536L971 541M900 463L881 465L858 481L847 479L832 489L832 493L832 492M892 451L887 437L878 426L869 409L855 401L839 404L832 401M873 529L871 539L876 541L898 541L912 541L938 541L963 541M885 479L880 454L876 428L869 412L878 401L891 401L913 403M869 528L855 535L850 541L842 541L836 541L832 541L832 541M885 461L897 465L907 474L914 486L921 508L936 532L942 541M842 459L841 487L834 496L832 511L832 516L832 513L832 489M945 528L955 541L971 541L972 541L972 541L972 541L972 541M869 495L839 494L832 508L832 499L832 485L832 472L833 461M854 531L873 509L892 490L909 468L907 449L908 423L905 401M964 460L972 471L972 477L972 482L972 481L972 467L972 457M950 479L971 490L972 507L972 516L972 536L972 541L972 541" fill="none" stroke="#3c3cc0" stroke-width="1.1" opacity="0.4" stroke-linejoin="round"/>
<g filter="url(#blur3)"><path d="M844.8 461.0h0M888.7 532.0h0M832.2 507.1h0M844.5 520.2h0M928.5 409.8h0M957.2 400.8h0" stroke="#2d2896" stroke-width="8" stroke-linecap="round" opacity="0.3"/><path d="M923.8 539.0h0M971.8 421.4h0M853.8 402.8h0M969.6 454.2h0M872.6 539.8h0M837.4 406.7h0M960.0 538.2h0M890.2 413.0h0M839.9 504.4h0M875.2 416.2h0M966.8 538.1h0M966.3 444.8h0M885.2 540.8h0M931.2 539.2h0M954.8 401.9h0M959.8 517.5h0M857.4 537.5h0M867.2 403.5h0M832.6 419.2h0M955.6 402.0h0" stroke="#234bcd" stroke-width="8" stroke-linecap="round" opacity="0.3"/><path d="M880.5 411.3h0M969.2 510.0h0M833.5 414.8h0M890.5 402.3h0M835.2 506.2h0M962.1 526.3h0M840.8 537.9h0M962.5 400.6h0M969.0 422.3h0M833.0 467.1h0M841.2 438.1h0M877.0 534.7h0M952.1 539.1h0M900.9 539.7h0M884.8 537.8h0M835.5 534.8h0M846.2 478.6h0M838.2 405.6h0M968.9 525.8h0M970.4 463.3h0M964.1 444.0h0M837.5 536.2h0M833.5 412.4h0M871.0 531.6h0M842.9 455.2h0M832.3 537.2h0M896.4 409.7h0M970.9 502.6h0M858.1 406.2h0M841.7 430.0h0M925.5 413.3h0" stroke="#1e6ee6" stroke-width="8" stroke-linecap="round" opacity="0.3"/><path d="M832.8 470.2h0M962.7 535.6h0M869.5 535.4h0M902.8 533.1h0M968.5 466.5h0M969.2 470.1h0M871.8 537.2h0M848.0 455.0h0M843.4 521.7h0M838.0 487.2h0M839.5 475.3h0M837.3 534.3h0M905.7 537.3h0M966.3 415.5h0M842.2 533.6h0M965.7 524.4h0M836.7 430.9h0" stroke="#2396f0" stroke-width="8" stroke-linecap="round" opacity="0.3"/><path d="M972.6 410.0h0M861.0 410.5h0M970.2 512.1h0M966.9 468.2h0M949.8 538.7h0M963.3 417.6h0M890.4 409.3h0M922.3 533.2h0M832.1 536.9h0M971.3 429.8h0M942.6 539.4h0M840.4 462.9h0M838.7 411.3h0M840.8 413.2h0" stroke="#32b9f0" stroke-width="8" stroke-linecap="round" opacity="0.3"/><path d="M835.0 442.5h0M839.9 405.9h0M967.1 463.5h0M837.7 509.7h0" stroke="#3cc8aa" stroke-width="8" stroke-linecap="round" opacity="0.3"/><path d="M840.8 432.8h0" stroke="#96dc3c" stroke-width="8" stroke-linecap="round" opacity="0.3"/></g>
<g filter="url(#blur06)"><path d="M924.2 533.5h0M922.7 539.0h0M844.3 461.7h0M842.7 457.0h0M846.4 458.0h0M844.0 457.2h0M949.2 434.9h0M900.4 511.4h0M840.8 502.9h0M876.0 417.8h0M875.2 419.0h0M933.3 515.4h0M965.8 539.1h0M965.7 443.0h0M888.5 533.9h0M931.1 540.5h0M830.1 503.3h0M847.7 515.8h0M858.4 520.3h0M929.5 412.8h0M931.5 409.9h0" stroke="#2d2896" stroke-width="2.0" stroke-linecap="round"/><path d="M923.0 528.6h0M968.9 419.8h0M972.2 420.7h0M974.8 421.5h0M855.2 403.2h0M967.5 455.0h0M842.6 467.5h0M866.0 533.5h0M899.9 510.3h0M898.1 475.9h0M961.9 443.8h0M964.9 445.5h0M867.3 500.4h0M888.8 531.3h0M891.4 533.1h0M884.8 544.8h0M887.9 540.9h0M933.0 537.6h0M831.6 506.4h0M950.3 405.2h0M960.7 519.6h0M927.5 406.8h0M929.3 410.8h0M935.8 408.0h0M930.8 407.8h0M957.0 405.3h0M855.4 536.4h0" stroke="#2d2896" stroke-width="2.6" stroke-linecap="round"/><path d="M921.9 527.6h0M968.4 455.1h0M842.4 459.4h0M839.6 505.3h0M868.2 502.0h0M888.8 530.4h0M889.4 531.0h0M831.2 507.9h0M840.8 516.6h0M845.0 520.4h0M861.9 520.6h0M929.0 409.8h0M928.4 410.4h0M912.7 494.6h0" stroke="#2d2896" stroke-width="3.2" stroke-linecap="round"/><path d="M971.0 508.6h0M925.5 538.8h0M922.1 540.6h0M923.9 533.4h0M893.4 402.6h0M851.7 405.6h0M854.5 397.9h0M868.3 542.4h0M843.0 461.5h0M962.0 536.0h0M968.6 425.3h0M830.0 466.7h0M954.0 539.7h0M886.9 541.3h0M872.8 413.8h0M874.1 415.4h0M878.9 415.5h0M872.9 415.4h0M843.0 478.7h0M844.7 475.6h0M894.0 476.4h0M965.0 444.6h0M968.6 536.0h0M966.5 538.3h0M965.4 445.9h0M963.9 444.7h0M887.2 532.2h0M888.1 532.2h0M831.4 409.1h0M886.0 538.4h0M874.2 527.7h0M928.4 539.2h0M930.2 534.8h0M959.0 519.2h0M958.3 516.4h0M962.1 511.7h0M852.5 520.1h0M898.0 462.3h0M977.0 500.5h0M859.1 409.4h0M952.3 401.7h0M925.3 413.3h0" stroke="#234bcd" stroke-width="2.0" stroke-linecap="round"/><path d="M927.3 537.9h0M920.5 541.4h0M973.0 422.0h0M971.7 424.1h0M910.9 435.3h0M855.0 399.8h0M852.3 398.8h0M872.8 537.2h0M840.4 406.4h0M865.3 526.1h0M891.2 409.4h0M891.6 416.6h0M881.9 532.1h0M900.2 542.3h0M875.5 412.9h0M850.3 478.7h0M919.8 519.6h0M899.0 477.9h0M971.4 460.9h0M966.6 537.1h0M836.9 536.2h0M833.4 537.0h0M833.2 413.7h0M883.5 540.5h0M956.3 401.9h0M958.1 398.9h0M963.3 514.2h0M960.0 520.6h0M853.8 519.4h0M859.6 524.9h0M896.1 455.4h0M957.2 401.2h0M872.1 401.6h0M869.0 404.6h0M833.2 417.6h0M834.0 419.9h0M829.6 418.0h0M956.1 404.0h0" stroke="#234bcd" stroke-width="2.6" stroke-linecap="round"/><path d="M878.4 518.9h0M970.2 513.4h0M923.5 543.4h0M967.7 416.5h0M909.1 435.4h0M915.4 432.8h0M969.1 454.9h0M963.2 525.7h0M838.1 407.6h0M864.3 528.4h0M961.5 402.2h0M955.4 540.1h0M957.5 542.9h0M893.8 412.2h0M888.0 413.2h0M880.3 533.2h0M954.9 539.9h0M840.0 507.9h0M884.0 539.5h0M881.1 537.5h0M833.7 535.1h0M928.2 480.3h0M973.3 461.8h0M932.5 517.2h0M967.6 539.2h0M971.7 533.4h0M971.8 444.0h0M872.4 502.4h0M953.5 401.5h0M953.8 402.6h0M965.3 513.3h0M956.2 403.9h0M862.2 539.2h0M858.7 538.1h0M858.7 535.8h0M857.0 538.6h0M865.2 404.3h0M834.6 417.2h0M832.9 421.9h0M830.9 421.7h0M893.6 410.5h0M840.5 431.6h0M927.9 417.5h0" stroke="#234bcd" stroke-width="3.2" stroke-linecap="round"/><path d="M881.1 414.3h0M878.1 409.5h0M968.8 512.0h0M835.6 413.6h0M837.0 411.5h0M830.8 471.1h0M835.2 470.9h0M891.5 402.5h0M890.2 402.1h0M891.4 404.7h0M836.9 507.2h0M960.8 525.6h0M870.2 536.4h0M873.2 540.2h0M839.0 407.3h0M842.8 537.8h0M840.3 537.9h0M959.3 541.1h0M843.4 436.5h0M843.0 437.9h0M957.0 541.3h0M903.5 500.0h0M873.8 414.1h0M837.3 535.5h0M919.8 420.8h0M847.3 478.8h0M835.3 406.5h0M930.0 482.4h0M969.1 522.5h0M968.9 460.6h0M973.4 463.9h0M962.5 442.1h0M965.7 537.5h0M960.9 446.0h0M839.0 533.9h0M841.9 537.5h0M831.8 407.9h0M868.3 531.7h0M872.5 528.6h0M841.6 486.8h0M935.4 433.5h0M838.9 534.2h0M847.4 451.7h0M841.7 458.2h0M832.4 538.7h0M830.5 539.2h0M840.2 532.2h0M860.1 404.7h0M839.5 434.1h0M842.2 428.6h0M965.7 527.0h0M835.4 434.2h0M841.7 509.6h0M924.8 414.9h0" stroke="#1e6ee6" stroke-width="2.0" stroke-linecap="round"/><path d="M881.4 414.8h0M880.2 410.2h0M833.8 411.8h0M971.4 421.0h0M973.8 421.3h0M831.7 468.6h0M833.4 468.9h0M890.5 408.2h0M970.1 455.4h0M967.8 454.2h0M837.1 508.0h0M834.2 505.7h0M961.5 524.8h0M962.5 526.6h0M963.6 529.0h0M962.1 524.9h0M872.3 542.2h0M891.7 473.8h0M836.7 538.8h0M841.1 537.4h0M970.7 422.4h0M972.3 419.0h0M969.7 421.1h0M832.9 463.0h0M838.7 467.0h0M840.9 437.3h0M839.9 438.6h0M907.4 530.8h0M878.5 534.7h0M880.2 535.6h0M952.1 543.8h0M971.0 465.8h0M897.4 539.6h0M885.8 533.2h0M880.2 535.6h0M884.7 539.0h0M835.0 534.4h0M872.3 538.6h0M870.8 536.3h0M839.0 404.5h0M837.8 408.8h0M967.6 525.3h0M971.9 525.3h0M972.5 466.2h0M973.8 463.5h0M965.9 446.2h0M837.3 536.7h0M831.6 412.1h0M886.1 543.1h0M868.1 531.2h0M867.5 536.5h0M876.1 534.0h0M846.0 452.4h0M951.1 403.6h0M843.6 518.2h0M838.7 489.3h0M837.1 532.8h0M836.3 532.9h0M832.3 420.2h0M972.5 416.1h0M840.5 454.3h0M832.5 535.6h0M835.3 539.0h0M833.3 536.6h0M896.3 408.9h0M897.7 411.9h0M972.8 503.7h0M858.3 405.5h0M860.0 410.6h0M953.6 402.5h0M841.0 429.8h0M923.3 413.9h0M919.7 411.3h0M922.1 409.2h0" stroke="#1e6ee6" stroke-width="2.6" stroke-linecap="round"/><path d="M970.2 513.1h0M968.4 507.5h0M831.7 415.7h0M891.4 404.8h0M860.5 402.1h0M971.3 453.8h0M833.5 505.8h0M961.8 537.0h0M961.4 536.7h0M940.1 525.5h0M843.1 533.0h0M838.7 542.6h0M962.4 397.6h0M965.1 402.8h0M972.6 424.4h0M827.3 464.5h0M832.5 466.1h0M837.7 436.3h0M843.5 441.3h0M904.8 534.0h0M880.4 536.3h0M872.7 535.4h0M952.5 540.9h0M951.9 540.8h0M861.9 473.8h0M857.9 479.0h0M965.0 470.5h0M905.8 496.7h0M836.0 534.0h0M844.9 480.1h0M839.5 404.4h0M929.6 481.0h0M960.4 441.2h0M962.5 442.4h0M964.9 446.6h0M961.5 446.5h0M967.6 540.8h0M853.2 451.3h0M838.4 477.5h0M965.1 413.7h0M839.8 453.9h0M897.8 407.0h0M971.7 504.8h0M969.3 497.4h0M968.5 501.7h0M873.7 495.4h0M874.7 493.1h0M836.9 433.1h0" stroke="#1e6ee6" stroke-width="3.2" stroke-linecap="round"/><path d="M878.0 410.0h0M968.5 510.1h0M837.9 468.9h0M960.2 533.2h0M962.4 529.8h0M966.3 404.7h0M870.3 536.2h0M832.1 466.8h0M841.7 436.4h0M953.5 541.1h0M967.6 466.6h0M901.3 495.7h0M968.1 468.7h0M969.3 473.6h0M847.6 478.7h0M888.3 405.2h0M922.5 529.5h0M836.9 538.7h0M836.2 412.8h0M845.0 520.1h0M841.4 490.1h0M837.0 475.0h0M838.3 534.9h0M836.5 532.7h0M834.3 533.7h0M835.6 535.8h0M904.5 533.4h0M903.0 536.3h0M906.4 539.1h0M964.0 413.2h0M966.4 418.2h0M894.0 414.2h0M966.4 494.6h0M972.8 499.9h0M964.3 528.9h0M835.7 428.1h0M838.0 429.2h0M832.6 431.6h0M837.6 428.0h0" stroke="#2396f0" stroke-width="2.0" stroke-linecap="round"/><path d="M830.9 473.3h0M961.2 539.4h0M961.4 537.4h0M835.7 469.5h0M904.7 535.0h0M902.6 531.6h0M878.8 531.6h0M948.5 539.5h0M857.7 480.8h0M972.3 515.2h0M886.9 541.1h0M837.0 534.9h0M833.7 532.9h0M969.5 466.0h0M967.5 474.6h0M871.5 535.5h0M870.8 538.8h0M873.7 535.7h0M964.2 420.3h0M969.9 526.3h0M867.0 531.7h0M847.2 453.7h0M851.5 458.0h0M841.7 522.9h0M839.1 494.2h0M834.9 487.1h0M972.5 433.6h0M968.4 431.0h0M948.5 415.0h0M840.7 533.2h0M838.2 416.0h0M842.0 531.2h0M842.0 534.9h0M841.1 533.2h0M842.3 536.0h0M860.3 447.4h0M963.1 527.6h0M966.3 525.2h0" stroke="#2396f0" stroke-width="2.6" stroke-linecap="round"/><path d="M968.2 512.7h0M831.6 470.8h0M890.4 402.8h0M958.9 534.1h0M962.2 536.7h0M960.7 535.9h0M868.7 536.1h0M868.4 536.2h0M871.2 532.5h0M902.5 529.1h0M901.0 533.5h0M881.3 534.6h0M970.0 461.4h0M969.8 461.5h0M898.7 536.5h0M870.3 536.6h0M966.7 443.8h0M922.0 535.1h0M924.9 533.3h0M839.4 473.2h0M969.6 426.3h0M907.4 538.4h0M967.7 413.7h0M966.7 417.9h0M964.0 413.6h0M838.1 411.8h0M843.5 533.8h0M859.8 404.3h0M840.2 432.2h0M967.6 524.6h0M964.2 525.9h0M836.3 426.6h0M837.6 427.7h0M840.3 514.5h0M923.8 415.4h0" stroke="#2396f0" stroke-width="3.2" stroke-linecap="round"/><path d="M969.5 410.5h0M970.0 413.4h0M832.5 474.1h0M833.5 443.8h0M864.2 406.9h0M859.8 411.6h0M857.7 413.9h0M863.8 409.7h0M966.6 462.8h0M966.0 465.0h0M969.4 512.3h0M966.7 469.0h0M970.4 466.5h0M949.5 538.0h0M950.9 539.3h0M961.3 417.4h0M962.5 417.6h0M888.8 409.5h0M893.1 411.8h0M840.9 494.0h0M942.7 545.1h0M842.7 460.9h0M842.5 461.1h0M837.5 463.7h0M948.7 413.4h0M946.4 414.2h0M839.7 403.5h0M910.4 539.0h0M963.3 418.8h0M962.5 527.4h0M839.7 509.0h0M839.6 512.3h0M833.0 431.7h0" stroke="#32b9f0" stroke-width="2.0" stroke-linecap="round"/><path d="M863.8 410.8h0M859.4 406.8h0M904.1 536.4h0M966.5 467.4h0M967.7 467.9h0M888.4 407.0h0M919.0 532.2h0M829.9 536.5h0M850.1 458.7h0M941.9 537.9h0M944.8 535.6h0M838.5 461.7h0M908.8 537.0h0" stroke="#32b9f0" stroke-width="2.6" stroke-linecap="round"/><path d="M974.2 408.9h0M860.8 409.5h0M862.1 410.8h0M970.0 514.9h0M970.6 514.2h0M870.8 539.7h0M872.3 537.2h0M947.7 540.3h0M964.1 417.8h0M960.9 418.4h0M884.3 410.6h0M890.8 407.9h0M920.5 531.6h0M922.0 533.8h0M832.7 533.8h0M942.9 537.7h0M938.7 541.9h0M944.4 540.6h0M840.4 410.0h0M841.9 412.0h0M835.8 409.6h0M846.6 532.4h0M836.6 412.5h0" stroke="#32b9f0" stroke-width="3.2" stroke-linecap="round"/><path d="M834.6 444.5h0M837.5 441.5h0M950.4 544.8h0M844.7 433.4h0M843.1 432.6h0M835.8 463.6h0M843.6 413.4h0" stroke="#3cc8aa" stroke-width="2.0" stroke-linecap="round"/><path d="M833.9 438.5h0M919.3 536.8h0M830.8 543.0h0M838.1 412.8h0M967.4 460.6h0M966.6 460.4h0M968.3 462.2h0M837.4 510.0h0" stroke="#3cc8aa" stroke-width="2.6" stroke-linecap="round"/><path d="M969.9 413.6h0M970.3 471.1h0M966.6 416.3h0M926.6 535.2h0M973.9 430.4h0M972.5 432.8h0M939.4 539.6h0M944.2 541.2h0M837.9 408.7h0M843.0 401.6h0M839.2 406.5h0M839.1 400.2h0M841.9 410.8h0M966.6 464.6h0M839.4 412.5h0M841.5 416.9h0M837.2 513.9h0" stroke="#3cc8aa" stroke-width="3.2" stroke-linecap="round"/><path d="M837.6 444.1h0M838.5 440.9h0M843.0 433.7h0M839.7 509.7h0" stroke="#96dc3c" stroke-width="2.0" stroke-linecap="round"/><path d="M840.0 431.2h0M840.1 405.8h0M966.8 464.1h0" stroke="#96dc3c" stroke-width="2.6" stroke-linecap="round"/><path d="M839.1 433.4h0M840.4 432.7h0M964.9 458.3h0M965.6 464.2h0M965.8 461.2h0" stroke="#96dc3c" stroke-width="3.2" stroke-linecap="round"/></g>
<g filter="url(#blur05)" transform="translate(947.0,431.0) rotate(70)">
<ellipse cx="0.0" cy="0.0" rx="6.8" ry="4.6" fill="#382d87"/>
<ellipse cx="-0.4" cy="-0.1" rx="6.8" ry="4.6" fill="#382d87"/>
<ellipse cx="0.9" cy="-0.8" rx="6.8" ry="4.6" fill="#382d87"/>
<ellipse cx="0.0" cy="0.0" rx="5.4" ry="3.6" fill="#1d7add"/>
<ellipse cx="-0.4" cy="-0.1" rx="5.4" ry="3.6" fill="#1d7add"/>
<ellipse cx="0.9" cy="-0.8" rx="5.4" ry="3.6" fill="#1d7add"/>
<ellipse cx="0.0" cy="0.0" rx="4.1" ry="2.8" fill="#16b67c"/>
<ellipse cx="-0.4" cy="-0.1" rx="4.1" ry="2.8" fill="#16b67c"/>
<ellipse cx="0.9" cy="-0.8" rx="4.1" ry="2.8" fill="#16b67c"/>
<ellipse cx="0.0" cy="0.0" rx="2.9" ry="1.9" fill="#f2d018"/>
<ellipse cx="-0.4" cy="-0.1" rx="2.9" ry="1.9" fill="#f2d018"/>
<ellipse cx="0.9" cy="-0.8" rx="2.9" ry="1.9" fill="#f2d018"/>
</g>
<g filter="url(#blur05)" transform="translate(965.0,410.0) rotate(0)">
<ellipse cx="0.0" cy="0.0" rx="3.6" ry="3.6" fill="#10ad99"/>
<ellipse cx="-0.4" cy="0.2" rx="3.6" ry="3.6" fill="#10ad99"/>
<ellipse cx="0.1" cy="0.6" rx="3.6" ry="3.6" fill="#10ad99"/>
<ellipse cx="0.0" cy="0.0" rx="2.9" ry="2.9" fill="#b0da2a"/>
<ellipse cx="-0.4" cy="0.2" rx="2.9" ry="2.9" fill="#b0da2a"/>
<ellipse cx="0.1" cy="0.6" rx="2.9" ry="2.9" fill="#b0da2a"/>
<ellipse cx="0.0" cy="0.0" rx="2.2" ry="2.2" fill="#f4a614"/>
<ellipse cx="-0.4" cy="0.2" rx="2.2" ry="2.2" fill="#f4a614"/>
<ellipse cx="0.1" cy="0.6" rx="2.2" ry="2.2" fill="#f4a614"/>
<ellipse cx="0.0" cy="0.0" rx="1.5" ry="1.5" fill="#b50609"/>
<ellipse cx="-0.4" cy="0.2" rx="1.5" ry="1.5" fill="#b50609"/>
<ellipse cx="0.1" cy="0.6" rx="1.5" ry="1.5" fill="#b50609"/>
</g>
<g filter="url(#blur05)" transform="translate(837.0,525.0) rotate(0)">
<ellipse cx="0.0" cy="0.0" rx="3.6" ry="3.6" fill="#2b59c1"/>
<ellipse cx="0.1" cy="-0.2" rx="3.6" ry="3.6" fill="#2b59c1"/>
<ellipse cx="0.1" cy="0.4" rx="3.6" ry="3.6" fill="#2b59c1"/>
<ellipse cx="0.0" cy="0.0" rx="2.9" ry="2.9" fill="#129ad2"/>
<ellipse cx="0.1" cy="-0.2" rx="2.9" ry="2.9" fill="#129ad2"/>
<ellipse cx="0.1" cy="0.4" rx="2.9" ry="2.9" fill="#129ad2"/>
<ellipse cx="0.0" cy="0.0" rx="2.2" ry="2.2" fill="#80d040"/>
<ellipse cx="0.1" cy="-0.2" rx="2.2" ry="2.2" fill="#80d040"/>
<ellipse cx="0.1" cy="0.4" rx="2.2" ry="2.2" fill="#80d040"/>
<ellipse cx="0.0" cy="0.0" rx="1.5" ry="1.5" fill="#f4a614"/>
<ellipse cx="0.1" cy="-0.2" rx="1.5" ry="1.5" fill="#f4a614"/>
<ellipse cx="0.1" cy="0.4" rx="1.5" ry="1.5" fill="#f4a614"/>
</g>
<g filter="url(#blur05)" transform="translate(960.0,536.0) rotate(-30)">
<ellipse cx="0.0" cy="0.0" rx="7.8" ry="4.9" fill="#1fbf60"/>
<ellipse cx="-0.2" cy="-0.6" rx="7.8" ry="4.9" fill="#1fbf60"/>
<ellipse cx="0.5" cy="0.8" rx="7.8" ry="4.9" fill="#1fbf60"/>
<ellipse cx="0.0" cy="0.0" rx="6.1" ry="3.8" fill="#e2da1a"/>
<ellipse cx="-0.2" cy="-0.6" rx="6.1" ry="3.8" fill="#e2da1a"/>
<ellipse cx="0.5" cy="0.8" rx="6.1" ry="3.8" fill="#e2da1a"/>
<ellipse cx="0.0" cy="0.0" rx="4.7" ry="2.9" fill="#f08010"/>
<ellipse cx="-0.2" cy="-0.6" rx="4.7" ry="2.9" fill="#f08010"/>
<ellipse cx="0.5" cy="0.8" rx="4.7" ry="2.9" fill="#f08010"/>
<ellipse cx="0.0" cy="0.0" rx="3.3" ry="2.0" fill="#80010e"/>
<ellipse cx="-0.2" cy="-0.6" rx="3.3" ry="2.0" fill="#80010e"/>
<ellipse cx="0.5" cy="0.8" rx="3.3" ry="2.0" fill="#80010e"/>
</g>
</g>
<rect x="927.5" y="420.5" width="28.5" height="28.5" fill="none" stroke="#fff" stroke-width="2.2" stroke-dasharray="5 3.2" opacity="0.95"/>
<rect x="848" y="493" width="28.5" height="28.5" fill="none" stroke="#fff" stroke-width="2.2" stroke-dasharray="5 3.2" opacity="0.95"/>
</g>
<g>
<rect x="647.00" y="551.00" width="148.00" height="148.00" fill="#2c0935" stroke="none" stroke-width="1" />
<clipPath id="hc15"><rect x="647" y="551" width="148" height="148"/></clipPath>
<g clip-path="url(#hc15)">
<rect x="656" y="560" width="130" height="130" fill="none" stroke="#2838a8" stroke-width="9" opacity="0.35" filter="url(#blur3)"/>
<path d="M782 561L763 555L736 555L710 555L705 555L690 555L677 555M685 672L699 669L717 678L736 679L747 678L765 678L791 681M740 612L760 613L767 621L780 623L791 643L791 658L791 685M668 574L694 581L711 587L724 591L731 607L744 617L749 633M774 603L763 629L746 640L741 659L740 686L721 695L717 695M773 684L784 695L781 695L791 695L791 695L788 695L782 695M666 560L654 573L651 592L651 606L651 629L651 642L651 639M743 605L733 613L720 640L716 668L709 682L705 695L697 695M663 582L674 576L695 579L723 575L731 566L742 555L752 555M775 611L759 591L737 584L723 566L712 555L711 555L700 555M724 574L711 573L688 560L662 555L651 555L651 555L651 555M787 567L791 563L791 555L791 555L791 555L791 555L791 555M769 566L747 583L734 600L722 615L710 631L697 644L679 666M784 592L790 576L791 570L791 565L791 566L791 555L791 555M707 665L683 674L666 695L656 695L651 695L651 695L651 695M722 646L722 629L733 614L734 587L743 578L767 576L785 565" fill="none" stroke="#3c3cc0" stroke-width="1.1" opacity="0.4" stroke-linejoin="round"/>
<g filter="url(#blur3)"><path d="M680.1 693.8h0M691.9 682.2h0M775.8 691.8h0M776.3 690.6h0M652.8 570.2h0M662.2 674.8h0M782.2 575.0h0M783.9 557.5h0M665.6 570.9h0M652.4 688.0h0M789.4 575.6h0M657.2 667.6h0M662.8 620.0h0M747.8 564.2h0M723.6 689.7h0M707.6 692.5h0M710.7 560.8h0M711.9 692.2h0M787.2 666.8h0M652.0 687.0h0" stroke="#234bcd" stroke-width="8" stroke-linecap="round" opacity="0.3"/><path d="M759.9 687.9h0M760.6 561.9h0M720.7 557.3h0M792.0 560.2h0M655.8 663.7h0M761.0 689.3h0M762.5 688.3h0M788.8 606.5h0M784.5 604.1h0M652.9 678.7h0M789.6 612.3h0M654.8 660.3h0M755.4 566.6h0M652.3 584.4h0M783.5 670.8h0M784.6 604.8h0M782.4 666.6h0M655.0 614.6h0M665.0 573.3h0M791.2 691.2h0M657.8 676.0h0M680.6 563.9h0M787.5 559.3h0M659.4 662.4h0M772.3 561.9h0M659.6 599.7h0" stroke="#1e6ee6" stroke-width="8" stroke-linecap="round" opacity="0.3"/><path d="M661.2 688.8h0M744.9 565.4h0M657.2 564.8h0M790.1 656.4h0M784.6 694.3h0M789.2 646.6h0M723.9 557.5h0M791.0 556.7h0M784.3 689.8h0M782.5 556.4h0M789.9 581.6h0M651.6 627.2h0M651.9 561.5h0M691.7 555.5h0M665.0 688.5h0M790.4 624.1h0M788.2 683.1h0M655.9 557.0h0M696.3 560.1h0M777.7 692.1h0M651.9 567.7h0M657.2 559.3h0" stroke="#2396f0" stroke-width="8" stroke-linecap="round" opacity="0.3"/><path d="M779.2 693.4h0M759.0 563.7h0M660.6 635.2h0M773.0 556.8h0M678.0 693.2h0M735.0 562.1h0M789.9 584.4h0M688.3 556.2h0M653.1 652.8h0M651.8 562.3h0M681.4 687.6h0M763.7 564.3h0M776.7 555.1h0M789.7 586.5h0" stroke="#32b9f0" stroke-width="8" stroke-linecap="round" opacity="0.3"/><path d="M653.8 575.2h0M660.9 656.3h0M786.9 634.5h0M651.4 671.9h0M716.2 692.2h0M706.7 693.1h0M657.8 632.5h0" stroke="#3cc8aa" stroke-width="8" stroke-linecap="round" opacity="0.3"/><path d="M660.2 639.2h0M782.3 692.3h0" stroke="#96dc3c" stroke-width="8" stroke-linecap="round" opacity="0.3"/></g>
<g filter="url(#blur06)"><path d="M771.1 614.7h0M747.0 649.9h0M766.7 609.3h0M790.7 574.7h0M783.7 579.8h0M665.5 618.5h0M748.1 561.7h0M746.5 566.4h0M710.3 559.3h0M672.4 567.0h0M674.6 564.2h0M672.4 564.5h0M787.1 666.5h0M786.0 669.8h0" stroke="#2d2896" stroke-width="2.0" stroke-linecap="round"/><path d="M773.8 698.1h0M780.7 691.4h0M679.2 592.8h0M674.4 594.3h0M740.5 567.0h0M696.2 573.4h0M657.6 672.8h0M791.6 571.2h0M659.0 615.9h0M673.0 564.2h0M675.4 568.4h0M758.3 654.2h0" stroke="#2d2896" stroke-width="2.6" stroke-linecap="round"/><path d="M774.9 617.8h0M680.2 693.1h0M679.6 699.5h0M776.6 691.1h0M782.6 577.7h0M780.5 579.6h0M664.0 571.2h0M657.1 669.6h0M657.5 667.3h0M751.2 565.5h0M666.1 616.5h0M672.8 566.8h0M709.5 690.0h0M708.9 691.1h0" stroke="#2d2896" stroke-width="3.2" stroke-linecap="round"/><path d="M727.4 597.9h0M724.6 591.9h0M716.5 561.5h0M721.4 555.5h0M658.5 663.1h0M761.4 686.7h0M761.7 689.3h0M691.9 675.9h0M774.6 693.7h0M745.9 592.3h0M777.4 690.1h0M656.4 571.2h0M745.5 563.1h0M652.9 677.9h0M665.1 675.2h0M662.3 673.8h0M782.7 577.2h0M779.3 577.4h0M650.9 659.1h0M755.3 568.2h0M783.5 558.6h0M666.0 574.0h0M654.2 685.2h0M789.9 575.1h0M788.3 572.1h0M656.1 666.7h0M663.5 620.0h0M660.2 620.3h0M739.4 588.1h0M747.4 563.4h0M724.0 692.2h0M710.3 693.6h0M702.8 692.9h0M663.8 573.8h0M791.7 689.3h0M783.9 556.9h0M673.5 564.5h0M657.3 658.1h0M649.0 684.7h0" stroke="#234bcd" stroke-width="2.0" stroke-linecap="round"/><path d="M753.1 652.8h0M654.5 662.7h0M758.6 687.0h0M693.0 684.4h0M694.5 680.5h0M765.3 690.8h0M774.5 695.5h0M655.1 567.5h0M791.2 610.2h0M675.4 594.6h0M746.2 567.9h0M781.7 558.8h0M781.0 556.8h0M671.0 571.8h0M667.3 570.6h0M782.3 664.8h0M658.8 690.4h0M656.1 666.4h0M657.1 664.8h0M659.1 672.7h0M662.0 621.0h0M660.5 622.9h0M771.2 604.0h0M772.0 600.7h0M770.2 604.7h0M723.7 688.1h0M723.9 690.1h0M709.2 693.1h0M665.0 573.9h0M710.9 562.0h0M790.5 557.7h0M710.7 692.8h0M719.5 696.9h0M710.4 693.9h0M787.6 674.4h0M648.7 686.8h0M651.6 685.7h0" stroke="#234bcd" stroke-width="2.6" stroke-linecap="round"/><path d="M770.4 619.9h0M750.5 650.5h0M682.5 692.4h0M680.2 691.0h0M693.4 688.9h0M689.5 681.0h0M776.8 690.3h0M775.1 693.1h0M786.7 604.4h0M652.4 674.3h0M779.7 574.0h0M781.9 578.3h0M754.1 566.1h0M651.9 689.4h0M658.4 688.2h0M787.6 573.7h0M789.9 578.9h0M790.6 577.7h0M661.7 620.0h0M673.8 684.5h0M748.6 568.2h0M726.0 684.5h0M788.5 692.4h0M709.7 557.7h0M653.7 673.2h0M690.5 599.5h0M773.9 561.9h0M771.1 557.2h0" stroke="#234bcd" stroke-width="3.2" stroke-linecap="round"/><path d="M757.9 691.3h0M761.4 556.4h0M760.8 562.7h0M721.9 559.5h0M722.3 562.3h0M720.8 553.5h0M789.4 560.6h0M790.8 561.7h0M790.6 655.7h0M655.5 662.3h0M659.9 662.2h0M789.7 647.4h0M725.1 558.1h0M788.1 607.9h0M786.2 603.8h0M652.5 681.2h0M655.2 659.6h0M759.9 568.2h0M651.3 584.8h0M784.0 584.1h0M658.7 665.9h0M650.9 628.1h0M650.0 559.2h0M706.8 689.2h0M663.8 688.4h0M665.7 690.2h0M685.4 644.2h0M661.4 575.3h0M789.8 621.9h0M791.6 626.8h0M711.9 559.4h0M713.2 560.5h0M658.5 676.2h0M653.8 678.2h0M657.9 675.5h0M655.4 553.9h0M786.2 563.1h0M777.3 693.8h0M661.3 663.1h0M751.4 654.2h0M658.7 596.2h0M662.7 598.0h0" stroke="#1e6ee6" stroke-width="2.0" stroke-linecap="round"/><path d="M759.3 689.4h0M764.3 687.3h0M745.4 565.0h0M759.8 561.2h0M723.0 557.4h0M790.5 559.4h0M792.2 562.4h0M791.4 558.6h0M789.5 657.5h0M655.6 663.4h0M658.2 665.5h0M765.5 691.0h0M765.0 686.6h0M649.2 566.6h0M791.6 554.6h0M654.6 680.2h0M651.8 679.1h0M791.2 611.3h0M782.9 556.3h0M653.5 588.9h0M783.2 673.0h0M780.5 671.5h0M789.3 670.6h0M783.3 671.6h0M783.0 601.2h0M789.2 578.0h0M786.6 667.6h0M740.6 589.5h0M651.8 618.2h0M663.5 571.4h0M666.2 570.0h0M791.0 622.9h0M791.6 689.3h0M657.1 553.5h0M694.0 559.9h0M679.9 563.0h0M678.1 566.6h0M786.0 559.6h0M790.2 563.6h0M787.8 555.9h0M788.1 557.7h0M788.3 560.8h0M709.4 688.5h0M710.7 695.0h0M662.9 658.9h0M662.7 664.0h0M658.2 562.9h0M656.2 601.4h0M660.7 599.8h0" stroke="#1e6ee6" stroke-width="2.6" stroke-linecap="round"/><path d="M758.6 689.5h0M721.7 594.1h0M757.8 563.0h0M718.3 553.7h0M683.6 692.5h0M655.6 566.7h0M783.9 560.6h0M766.2 689.2h0M691.7 682.7h0M689.4 680.2h0M786.8 696.1h0M776.7 695.4h0M775.5 689.9h0M795.2 605.3h0M788.1 605.8h0M791.5 609.9h0M786.6 561.2h0M784.1 555.6h0M754.0 567.1h0M753.0 566.1h0M651.8 583.0h0M785.7 557.4h0M785.7 557.0h0M784.0 606.3h0M783.2 604.1h0M668.7 570.8h0M781.8 669.8h0M666.2 617.6h0M741.7 590.3h0M688.7 555.9h0M657.1 608.7h0M652.6 613.8h0M663.6 573.0h0M665.3 580.0h0M684.0 568.6h0M656.2 659.6h0M787.3 665.0h0M648.1 686.5h0M657.7 559.0h0" stroke="#1e6ee6" stroke-width="3.2" stroke-linecap="round"/><path d="M659.2 691.2h0M748.6 563.3h0M746.1 564.3h0M762.7 564.6h0M654.4 664.6h0M654.2 661.3h0M791.0 694.8h0M783.0 694.1h0M775.6 556.7h0M726.6 560.4h0M723.0 560.7h0M790.4 605.6h0M790.4 604.4h0M793.2 612.2h0M784.7 693.8h0M756.5 569.5h0M650.9 656.5h0M791.3 580.3h0M654.4 626.1h0M692.9 554.5h0M665.3 687.2h0M654.2 613.1h0M789.2 688.0h0M656.0 555.3h0M656.1 559.1h0M697.8 561.5h0M698.3 560.7h0M695.0 561.7h0M657.2 655.2h0M654.1 567.4h0M776.1 563.7h0" stroke="#2396f0" stroke-width="2.0" stroke-linecap="round"/><path d="M663.2 689.2h0M654.6 561.3h0M655.2 566.3h0M792.3 557.5h0M795.0 657.6h0M789.1 651.3h0M782.0 694.0h0M767.9 565.0h0M792.2 648.4h0M723.7 555.7h0M785.4 604.9h0M791.2 554.4h0M794.5 559.0h0M792.0 554.5h0M647.1 678.6h0M784.1 690.5h0M782.6 560.8h0M782.1 555.3h0M652.3 663.0h0M760.6 562.4h0M650.1 660.1h0M652.1 558.2h0M654.1 564.8h0M796.7 583.3h0M793.1 584.2h0M650.7 626.0h0M651.1 629.2h0M651.6 563.5h0M654.6 560.7h0M691.7 554.4h0M667.2 685.9h0M686.3 645.4h0M792.8 688.4h0M788.9 689.0h0M783.1 677.3h0M786.8 676.8h0M656.8 554.9h0M695.6 558.3h0M694.8 557.2h0M782.6 693.2h0M781.4 692.1h0M653.1 569.5h0M653.2 565.5h0M657.0 559.2h0M656.8 562.7h0M789.8 587.9h0" stroke="#2396f0" stroke-width="2.6" stroke-linecap="round"/><path d="M763.5 686.9h0M760.5 686.6h0M660.8 686.2h0M663.4 688.6h0M661.4 690.6h0M745.0 566.4h0M742.1 565.0h0M790.2 559.4h0M786.5 654.8h0M782.9 694.8h0M782.4 698.3h0M677.2 691.2h0M793.6 645.7h0M794.4 650.6h0M786.6 646.5h0M653.0 678.6h0M779.4 686.6h0M791.6 686.1h0M782.7 688.7h0M784.7 689.5h0M782.3 554.4h0M791.3 582.4h0M666.0 692.0h0M661.9 572.9h0M787.7 684.7h0M795.0 679.7h0M790.5 681.0h0M698.4 563.4h0M682.0 563.4h0M776.9 690.4h0M655.7 559.5h0" stroke="#2396f0" stroke-width="3.2" stroke-linecap="round"/><path d="M663.6 655.8h0M743.8 563.0h0M746.1 563.2h0M760.3 560.4h0M660.3 567.8h0M788.4 632.7h0M775.5 551.6h0M772.0 558.2h0M676.6 695.9h0M678.6 691.7h0M786.3 645.8h0M719.8 694.8h0M714.9 693.3h0M784.7 558.3h0M689.6 556.8h0M687.1 558.6h0M692.5 551.8h0M646.8 561.9h0M788.5 579.7h0M679.4 687.6h0M682.9 686.7h0M682.2 687.3h0M765.4 568.6h0M763.9 567.9h0M768.1 564.6h0M774.2 552.6h0M778.7 556.8h0M777.5 552.8h0M787.8 587.8h0" stroke="#32b9f0" stroke-width="2.0" stroke-linecap="round"/><path d="M663.3 685.8h0M661.0 652.1h0M744.6 565.9h0M781.5 693.4h0M791.6 654.5h0M658.9 635.1h0M660.9 632.5h0M662.7 638.7h0M650.2 672.3h0M786.5 694.4h0M772.8 554.0h0M676.3 687.0h0M681.5 691.4h0M681.6 695.4h0M677.4 694.5h0M735.5 563.9h0M789.2 584.4h0M790.8 581.6h0M786.6 688.3h0M784.2 689.9h0M780.1 552.3h0M652.8 653.5h0M679.8 688.5h0M681.5 686.9h0M764.8 563.5h0M764.9 561.1h0M774.2 553.9h0M774.9 554.5h0M792.6 588.7h0M792.7 585.7h0" stroke="#32b9f0" stroke-width="2.6" stroke-linecap="round"/><path d="M660.8 687.7h0M755.9 562.9h0M757.4 567.8h0M784.8 659.8h0M662.2 635.9h0M659.2 635.7h0M770.2 558.1h0M771.4 558.0h0M677.7 691.2h0M791.9 650.0h0M779.8 646.4h0M735.9 565.8h0M736.5 560.9h0M739.6 562.0h0M735.5 560.7h0M684.8 555.3h0M686.7 556.2h0M787.7 579.6h0M654.9 627.3h0M682.1 690.9h0M679.1 685.9h0M764.4 563.8h0M657.3 631.6h0M786.7 584.2h0" stroke="#32b9f0" stroke-width="3.2" stroke-linecap="round"/><path d="M662.8 653.6h0M786.8 634.5h0M787.8 633.9h0M786.7 634.4h0M659.5 636.6h0M651.2 671.5h0M652.6 669.0h0M649.0 675.0h0M652.9 672.5h0M792.0 582.9h0M718.2 691.9h0M715.4 694.4h0M679.5 689.1h0M705.1 691.8h0M763.9 565.8h0" stroke="#3cc8aa" stroke-width="2.0" stroke-linecap="round"/><path d="M652.3 572.9h0M663.9 659.1h0M665.0 654.4h0M660.8 657.6h0M777.0 694.7h0M734.6 566.9h0M740.6 565.5h0M792.8 582.1h0M793.6 585.4h0M657.7 641.6h0M714.3 691.3h0M688.8 556.2h0M686.2 557.9h0M651.2 653.6h0M653.2 562.3h0M707.6 693.3h0M705.6 694.3h0M657.3 631.6h0" stroke="#3cc8aa" stroke-width="2.6" stroke-linecap="round"/><path d="M650.4 575.6h0M655.6 573.2h0M780.5 692.3h0M786.7 637.7h0M655.7 669.2h0M651.5 669.0h0M654.1 657.5h0" stroke="#3cc8aa" stroke-width="3.2" stroke-linecap="round"/><path d="M663.1 641.7h0M714.2 693.4h0M782.6 691.7h0M779.2 687.7h0M781.2 691.9h0" stroke="#96dc3c" stroke-width="2.0" stroke-linecap="round"/><path d="M659.0 636.9h0M658.4 638.4h0M660.8 643.4h0M783.3 693.8h0M782.0 691.6h0M657.3 638.0h0" stroke="#96dc3c" stroke-width="2.6" stroke-linecap="round"/><path d="M657.8 640.4h0M785.0 686.2h0M784.4 695.4h0M784.0 693.5h0M659.4 635.9h0" stroke="#96dc3c" stroke-width="3.2" stroke-linecap="round"/></g>
<g filter="url(#blur05)" transform="translate(654.0,561.0) rotate(60)">
<ellipse cx="0.0" cy="0.0" rx="6.8" ry="4.9" fill="#1fbf60"/>
<ellipse cx="0.8" cy="0.0" rx="6.8" ry="4.9" fill="#1fbf60"/>
<ellipse cx="-0.9" cy="-0.2" rx="6.8" ry="4.9" fill="#1fbf60"/>
<ellipse cx="0.0" cy="0.0" rx="5.4" ry="3.8" fill="#e2da1a"/>
<ellipse cx="0.8" cy="0.0" rx="5.4" ry="3.8" fill="#e2da1a"/>
<ellipse cx="-0.9" cy="-0.2" rx="5.4" ry="3.8" fill="#e2da1a"/>
<ellipse cx="0.0" cy="0.0" rx="4.1" ry="2.9" fill="#f08010"/>
<ellipse cx="0.8" cy="0.0" rx="4.1" ry="2.9" fill="#f08010"/>
<ellipse cx="-0.9" cy="-0.2" rx="4.1" ry="2.9" fill="#f08010"/>
<ellipse cx="0.0" cy="0.0" rx="2.9" ry="2.0" fill="#80010e"/>
<ellipse cx="0.8" cy="0.0" rx="2.9" ry="2.0" fill="#80010e"/>
<ellipse cx="-0.9" cy="-0.2" rx="2.9" ry="2.0" fill="#80010e"/>
</g>
<g filter="url(#blur05)" transform="translate(651.0,682.0) rotate(90)">
<ellipse cx="0.0" cy="0.0" rx="4.3" ry="3.0" fill="#10ad99"/>
<ellipse cx="-0.1" cy="-0.1" rx="4.3" ry="3.0" fill="#10ad99"/>
<ellipse cx="-0.4" cy="0.4" rx="4.3" ry="3.0" fill="#10ad99"/>
<ellipse cx="0.0" cy="0.0" rx="3.4" ry="2.4" fill="#b0da2a"/>
<ellipse cx="-0.1" cy="-0.1" rx="3.4" ry="2.4" fill="#b0da2a"/>
<ellipse cx="-0.4" cy="0.4" rx="3.4" ry="2.4" fill="#b0da2a"/>
<ellipse cx="0.0" cy="0.0" rx="2.6" ry="1.8" fill="#f4a614"/>
<ellipse cx="-0.1" cy="-0.1" rx="2.6" ry="1.8" fill="#f4a614"/>
<ellipse cx="-0.4" cy="0.4" rx="2.6" ry="1.8" fill="#f4a614"/>
<ellipse cx="0.0" cy="0.0" rx="1.8" ry="1.3" fill="#b50609"/>
<ellipse cx="-0.1" cy="-0.1" rx="1.8" ry="1.3" fill="#b50609"/>
<ellipse cx="-0.4" cy="0.4" rx="1.8" ry="1.3" fill="#b50609"/>
</g>
<g filter="url(#blur05)" transform="translate(691.0,557.0) rotate(0)">
<ellipse cx="0.0" cy="0.0" rx="2.1" ry="2.1" fill="#34164e"/>
<ellipse cx="0.5" cy="-0.2" rx="2.1" ry="2.1" fill="#34164e"/>
<ellipse cx="-0.3" cy="0.3" rx="2.1" ry="2.1" fill="#34164e"/>
<ellipse cx="0.0" cy="0.0" rx="1.7" ry="1.7" fill="#2b59c1"/>
<ellipse cx="0.5" cy="-0.2" rx="1.7" ry="1.7" fill="#2b59c1"/>
<ellipse cx="-0.3" cy="0.3" rx="1.7" ry="1.7" fill="#2b59c1"/>
<ellipse cx="0.0" cy="0.0" rx="1.3" ry="1.3" fill="#10a2be"/>
<ellipse cx="0.5" cy="-0.2" rx="1.3" ry="1.3" fill="#10a2be"/>
<ellipse cx="-0.3" cy="0.3" rx="1.3" ry="1.3" fill="#10a2be"/>
<ellipse cx="0.0" cy="0.0" rx="0.9" ry="0.9" fill="#cede1e"/>
<ellipse cx="0.5" cy="-0.2" rx="0.9" ry="0.9" fill="#cede1e"/>
<ellipse cx="-0.3" cy="0.3" rx="0.9" ry="0.9" fill="#cede1e"/>
</g>
</g>
<rect x="665" y="574" width="28.5" height="28.5" fill="none" stroke="#fff" stroke-width="2.2" stroke-dasharray="5 3.2" opacity="0.95"/>
<rect x="666" y="646" width="28.5" height="28.5" fill="none" stroke="#fff" stroke-width="2.2" stroke-dasharray="5 3.2" opacity="0.95"/>
</g>
<g>
<rect x="828.00" y="551.00" width="148.00" height="148.00" fill="#2c0935" stroke="none" stroke-width="1" />
<clipPath id="hc16"><rect x="828" y="551" width="148" height="148"/></clipPath>
<g clip-path="url(#hc16)">
<rect x="837" y="560" width="130" height="130" fill="none" stroke="#2838a8" stroke-width="9" opacity="0.35" filter="url(#blur3)"/>
<path d="M884 622L869 633L855 638L844 639L832 646L832 668L832 694M962 592L972 590L972 574L972 563L972 555L969 555L963 555M921 684L936 695L935 695L934 695L942 695L948 695L954 695M838 670L832 658L832 640L832 620L832 613L832 611L832 614M923 612L910 638L891 651L877 652L868 660L867 670L857 695M851 650L864 651L878 656L888 654L916 649L924 639L929 629M897 655L892 665L893 688L880 695L880 695L882 695L896 695M947 590L966 589L972 582L972 575L972 581L972 583L972 582M852 569L871 561L889 555L909 555L920 555L944 556L958 563M897 665L883 656L859 655L842 657L832 669L832 674L832 687M918 566L920 555L905 555L903 555L898 555L908 555L924 555M957 627L951 608L935 593L913 582L896 559L886 557L873 555M968 666L972 656L972 639L972 611L968 597L962 585L951 580M840 579L842 555L840 555L832 555L832 555L832 555L832 555M838 584L843 602L837 623L835 648L833 658L832 666L832 670M963 581L972 573L972 576L972 586L969 599L958 608L939 619" fill="none" stroke="#3c3cc0" stroke-width="1.1" opacity="0.4" stroke-linejoin="round"/>
<g filter="url(#blur3)"><path d="M962.7 630.4h0M941.6 691.5h0M962.4 679.2h0M969.4 675.9h0M838.0 558.6h0M938.9 683.1h0M873.2 569.1h0M846.9 566.7h0" stroke="#2d2896" stroke-width="8" stroke-linecap="round" opacity="0.3"/><path d="M832.1 638.2h0M964.3 597.3h0M871.1 692.1h0M840.5 684.1h0M832.5 656.4h0M921.2 693.6h0M963.5 636.1h0M880.1 556.3h0M850.0 556.3h0M865.5 556.1h0M838.4 664.0h0M965.2 612.8h0M883.1 692.1h0M833.4 689.9h0M964.4 587.7h0M835.2 612.3h0" stroke="#234bcd" stroke-width="8" stroke-linecap="round" opacity="0.3"/><path d="M970.9 681.7h0M939.7 690.3h0M834.4 687.8h0M958.1 692.4h0M833.1 577.9h0M845.9 617.5h0M912.1 555.4h0M954.1 693.5h0M964.5 664.1h0M856.8 684.4h0M833.4 566.0h0M972.2 559.3h0M932.1 691.6h0M968.6 688.3h0M927.1 684.6h0M968.3 687.5h0M844.3 561.6h0M915.6 557.1h0M931.5 557.1h0M832.3 688.4h0M844.5 656.0h0" stroke="#1e6ee6" stroke-width="8" stroke-linecap="round" opacity="0.3"/><path d="M960.8 688.0h0M870.9 693.7h0M848.9 562.2h0M894.4 561.6h0M835.6 569.1h0M832.6 631.5h0M885.0 693.7h0M866.6 562.2h0M840.6 571.8h0M841.8 691.6h0M839.8 607.7h0M884.7 689.6h0M833.4 658.4h0M862.8 561.0h0M906.6 693.0h0M906.4 692.5h0M885.2 560.6h0M971.4 647.9h0M968.4 692.9h0M953.8 685.8h0M941.7 559.9h0M921.3 563.5h0" stroke="#2396f0" stroke-width="8" stroke-linecap="round" opacity="0.3"/><path d="M833.9 693.3h0M964.6 693.2h0M962.4 560.8h0M835.4 677.9h0M836.7 645.2h0M962.9 682.9h0M833.5 690.1h0M968.7 632.3h0M840.0 689.5h0M969.7 686.1h0M870.8 686.9h0M900.5 690.7h0" stroke="#32b9f0" stroke-width="8" stroke-linecap="round" opacity="0.3"/><path d="M837.1 567.7h0M839.7 562.2h0M971.1 684.3h0M832.9 618.7h0" stroke="#3cc8aa" stroke-width="8" stroke-linecap="round" opacity="0.3"/><path d="M881.6 556.2h0" stroke="#96dc3c" stroke-width="8" stroke-linecap="round" opacity="0.3"/></g>
<g filter="url(#blur06)"><path d="M962.8 632.1h0M929.7 676.8h0M942.2 691.4h0M963.6 635.2h0M963.4 636.6h0M863.2 667.4h0M890.8 590.2h0M883.7 692.6h0M882.2 605.7h0M970.1 678.4h0M942.8 685.8h0M938.8 683.1h0M874.8 572.0h0M876.0 569.8h0M833.3 687.9h0M847.0 565.3h0M964.5 588.7h0" stroke="#2d2896" stroke-width="2.0" stroke-linecap="round"/><path d="M931.7 598.7h0M941.3 689.4h0M939.6 691.5h0M920.0 693.3h0M964.6 638.5h0M870.3 555.1h0M958.0 637.5h0M837.2 665.8h0M964.0 611.7h0M889.5 591.2h0M883.2 694.9h0M936.9 630.0h0M880.4 577.9h0M881.2 578.4h0M884.5 603.5h0M840.8 563.2h0M843.5 559.9h0M838.7 557.1h0M910.6 603.8h0M938.8 682.3h0M942.9 679.7h0M873.7 567.3h0M843.1 563.8h0" stroke="#2d2896" stroke-width="2.6" stroke-linecap="round"/><path d="M833.2 641.8h0M832.2 638.2h0M931.3 596.4h0M963.5 629.9h0M938.2 693.0h0M873.2 690.4h0M870.9 688.6h0M921.1 691.4h0M926.0 614.7h0M863.9 667.2h0M845.6 556.6h0M957.1 564.3h0M908.2 607.5h0M958.5 684.9h0M936.5 680.6h0M872.4 570.1h0M876.0 568.8h0M874.4 569.0h0M849.3 564.4h0" stroke="#2d2896" stroke-width="3.2" stroke-linecap="round"/><path d="M857.4 672.2h0M858.2 673.0h0M828.8 640.3h0M962.9 599.0h0M966.2 595.2h0M870.6 617.5h0M940.7 694.2h0M871.9 697.0h0M841.2 685.5h0M843.8 682.7h0M964.3 639.2h0M909.9 555.1h0M847.9 556.8h0M951.7 691.3h0M838.7 664.0h0M839.9 666.8h0M958.6 613.6h0M960.9 566.3h0M963.5 567.0h0M856.4 690.1h0M970.1 558.3h0M950.8 619.8h0M927.1 691.0h0M969.4 676.8h0M968.6 677.8h0M973.4 677.0h0M969.1 686.4h0M836.1 556.0h0M917.3 603.0h0M937.0 687.7h0M874.5 568.4h0M834.2 689.0h0M834.5 686.9h0M964.7 595.0h0M937.9 582.1h0M834.6 613.7h0" stroke="#234bcd" stroke-width="2.0" stroke-linecap="round"/><path d="M967.0 594.2h0M960.0 631.5h0M926.4 681.6h0M960.0 694.4h0M839.2 679.5h0M830.2 655.7h0M833.5 653.7h0M912.8 616.2h0M916.5 611.6h0M919.7 687.4h0M923.2 692.6h0M964.7 635.3h0M881.3 556.8h0M852.2 559.4h0M836.8 664.3h0M836.7 664.5h0M867.0 672.6h0M862.8 678.4h0M889.0 587.5h0M966.1 678.6h0M960.0 686.4h0M883.9 692.3h0M882.9 691.9h0M938.2 627.5h0M930.9 691.7h0M968.4 687.5h0M947.8 619.8h0M951.3 620.4h0M870.8 567.7h0M835.8 688.2h0M934.6 554.6h0M936.3 579.7h0M835.9 616.0h0" stroke="#234bcd" stroke-width="2.6" stroke-linecap="round"/><path d="M831.5 639.5h0M831.1 641.9h0M967.6 599.2h0M834.6 690.7h0M836.5 685.9h0M870.0 692.5h0M840.7 683.9h0M839.7 683.2h0M837.9 682.3h0M842.4 680.4h0M830.4 659.0h0M844.5 616.8h0M917.1 615.3h0M967.7 638.6h0M962.4 635.7h0M920.9 620.7h0M921.8 618.9h0M878.1 555.1h0M853.8 556.4h0M864.6 557.7h0M864.8 553.2h0M866.4 562.8h0M864.8 554.8h0M862.5 559.0h0M838.4 666.4h0M961.3 665.5h0M963.0 665.7h0M864.9 674.4h0M965.4 609.3h0M973.7 559.4h0M965.5 686.0h0M971.2 689.6h0M847.0 563.1h0M835.1 689.6h0M834.3 692.8h0M832.6 688.1h0M960.9 588.8h0M834.2 612.9h0" stroke="#234bcd" stroke-width="3.2" stroke-linecap="round"/><path d="M970.9 684.2h0M871.8 695.7h0M936.0 684.5h0M833.8 689.4h0M835.8 685.5h0M850.0 612.6h0M914.4 555.8h0M912.4 553.3h0M887.3 628.1h0M849.1 555.8h0M864.2 555.4h0M844.5 575.3h0M963.6 615.2h0M857.8 686.5h0M884.9 691.6h0M834.2 658.6h0M952.3 603.6h0M937.1 629.3h0M968.2 690.3h0M971.4 687.2h0M968.9 691.5h0M925.0 682.8h0M964.9 689.7h0M968.6 689.0h0M964.7 690.8h0M882.6 561.9h0M842.4 559.1h0M842.3 563.1h0M915.2 556.4h0M835.5 687.8h0M970.2 648.3h0M935.0 554.4h0M929.5 556.1h0M936.0 559.9h0M928.1 558.6h0M830.0 689.0h0M829.2 687.6h0M835.7 688.4h0M966.1 691.5h0M842.2 653.7h0" stroke="#1e6ee6" stroke-width="2.0" stroke-linecap="round"/><path d="M971.4 679.7h0M877.0 694.3h0M941.9 692.0h0M943.4 688.9h0M939.8 687.8h0M894.6 563.7h0M836.1 690.2h0M832.3 575.6h0M841.8 684.2h0M832.0 629.6h0M917.6 693.7h0M883.5 690.5h0M922.7 559.4h0M951.6 691.9h0M842.0 695.1h0M965.0 612.6h0M944.5 678.7h0M863.9 558.8h0M834.8 568.5h0M835.0 568.4h0M837.3 564.8h0M972.5 556.4h0M972.6 558.2h0M967.1 687.0h0M923.2 684.0h0M894.7 655.8h0M971.6 687.9h0M970.2 687.5h0M966.2 689.3h0M882.0 562.0h0M921.3 554.7h0M931.8 558.2h0M930.8 557.1h0M834.5 686.9h0M962.9 588.9h0M942.5 561.3h0M944.1 557.9h0" stroke="#1e6ee6" stroke-width="2.6" stroke-linecap="round"/><path d="M967.7 682.7h0M968.2 683.4h0M942.5 691.8h0M832.6 690.5h0M958.5 696.6h0M955.8 692.9h0M831.8 574.1h0M872.0 696.0h0M845.9 616.5h0M910.5 557.9h0M879.1 557.6h0M884.8 697.6h0M847.2 553.6h0M956.3 692.7h0M839.6 691.3h0M866.0 672.2h0M856.8 685.4h0M886.1 686.7h0M945.4 676.7h0M948.2 676.1h0M862.0 559.7h0M951.6 607.7h0M969.6 562.7h0M970.9 558.3h0M903.3 695.5h0M929.9 688.8h0M930.8 689.2h0M964.4 688.8h0M926.8 684.4h0M926.7 685.7h0M903.5 694.1h0M889.6 562.3h0M846.2 559.9h0M843.4 562.1h0M919.4 555.8h0M917.1 556.8h0M907.8 604.5h0M973.5 648.8h0M969.4 646.4h0M933.2 555.3h0M830.5 688.4h0M847.1 652.2h0M843.6 651.7h0M941.6 560.0h0" stroke="#1e6ee6" stroke-width="3.2" stroke-linecap="round"/><path d="M830.9 691.3h0M961.3 693.4h0M942.3 686.3h0M849.7 559.9h0M893.7 567.6h0M896.5 555.8h0M866.9 618.7h0M838.0 569.9h0M833.5 569.9h0M835.9 568.0h0M836.2 632.1h0M884.5 695.2h0M884.6 693.8h0M866.5 563.6h0M840.3 569.7h0M841.3 695.7h0M834.6 654.6h0M833.1 659.2h0M863.7 564.7h0M905.1 689.3h0M901.8 695.0h0M843.9 560.8h0M915.1 561.2h0M832.6 689.6h0M969.4 695.1h0M972.0 689.6h0M927.1 560.3h0" stroke="#2396f0" stroke-width="2.0" stroke-linecap="round"/><path d="M975.4 680.5h0M836.1 692.4h0M955.8 689.3h0M869.9 696.8h0M871.7 691.7h0M961.1 557.9h0M853.2 559.1h0M836.4 679.5h0M836.4 581.6h0M831.9 633.7h0M912.7 554.6h0M836.4 643.3h0M922.6 560.4h0M842.4 689.3h0M840.8 688.3h0M845.2 606.2h0M840.1 611.5h0M963.8 660.8h0M966.2 686.5h0M838.1 658.3h0M833.7 659.3h0M832.9 656.3h0M861.6 561.9h0M971.3 633.1h0M905.5 693.2h0M905.5 691.8h0M874.6 687.0h0M898.9 687.1h0M900.8 688.9h0M845.3 563.9h0M848.8 561.1h0M971.5 646.9h0M970.8 643.7h0M970.4 649.4h0M966.7 693.3h0M967.6 698.3h0M956.5 686.1h0M953.4 686.9h0M917.4 561.1h0M926.5 564.5h0M920.8 564.3h0" stroke="#2396f0" stroke-width="2.6" stroke-linecap="round"/><path d="M970.3 682.9h0M972.3 677.2h0M956.6 685.5h0M872.0 692.6h0M960.9 690.0h0M847.8 560.1h0M850.4 566.0h0M843.8 560.1h0M894.7 566.2h0M958.1 694.1h0M884.1 695.6h0M863.6 562.6h0M865.4 562.3h0M869.0 562.8h0M868.1 566.1h0M835.1 576.1h0M925.6 567.7h0M839.5 610.1h0M839.5 606.1h0M886.8 694.3h0M863.3 561.2h0M863.3 563.1h0M841.6 687.6h0M972.1 691.1h0M965.3 691.1h0M970.5 560.2h0M874.2 687.7h0M930.2 682.1h0M906.5 689.5h0M908.2 697.4h0M968.8 683.3h0M913.4 558.5h0M972.0 645.6h0M828.7 689.3h0M951.6 685.6h0M943.1 560.4h0M940.6 560.7h0" stroke="#2396f0" stroke-width="3.2" stroke-linecap="round"/><path d="M964.4 690.3h0M842.9 568.5h0M835.7 631.9h0M834.0 643.1h0M838.6 646.3h0M842.1 570.7h0M838.3 609.8h0M841.6 608.4h0M959.2 684.9h0M836.0 563.3h0M839.3 561.8h0M836.8 658.6h0M969.4 632.1h0M867.4 691.2h0M899.1 689.5h0M903.2 693.8h0M910.7 694.2h0M883.0 563.7h0M922.1 566.8h0" stroke="#32b9f0" stroke-width="2.0" stroke-linecap="round"/><path d="M963.5 562.3h0M962.0 561.8h0M891.5 559.7h0M834.6 679.3h0M835.4 676.0h0M868.9 559.7h0M837.9 641.7h0M962.8 682.3h0M960.7 688.5h0M957.8 686.7h0M832.9 691.7h0M837.9 690.6h0M885.4 688.9h0M969.6 632.9h0M969.6 687.6h0M868.9 686.9h0M901.3 691.0h0M972.7 645.7h0M966.0 690.1h0" stroke="#32b9f0" stroke-width="2.6" stroke-linecap="round"/><path d="M833.9 692.4h0M835.5 696.4h0M835.0 568.3h0M960.8 555.2h0M962.5 562.5h0M835.8 675.7h0M834.3 679.0h0M836.4 569.5h0M837.6 648.1h0M835.8 646.8h0M837.1 606.0h0M834.0 694.0h0M883.4 689.6h0M840.6 563.5h0M967.6 635.2h0M965.5 632.5h0M969.5 631.4h0M839.9 691.8h0M839.4 689.1h0M905.0 690.1h0M903.8 694.0h0" stroke="#32b9f0" stroke-width="3.2" stroke-linecap="round"/><path d="M968.4 697.4h0M833.3 566.6h0M835.0 678.9h0M834.3 643.7h0M969.6 631.9h0M971.6 633.7h0M967.4 681.9h0M872.6 685.8h0M831.5 615.4h0" stroke="#3cc8aa" stroke-width="2.0" stroke-linecap="round"/><path d="M961.4 690.7h0M837.7 573.2h0M837.1 563.1h0M867.6 690.4h0M969.7 684.8h0M899.2 687.5h0M901.7 690.1h0" stroke="#3cc8aa" stroke-width="2.6" stroke-linecap="round"/><path d="M838.9 568.1h0M833.4 569.7h0M887.2 554.0h0M869.5 687.6h0M964.1 685.5h0M832.5 617.6h0" stroke="#3cc8aa" stroke-width="3.2" stroke-linecap="round"/><path d="M881.8 558.5h0M882.7 555.7h0M838.5 560.9h0" stroke="#96dc3c" stroke-width="2.0" stroke-linecap="round"/><path d="M838.0 568.3h0M838.4 566.5h0M836.8 554.5h0M971.9 684.5h0" stroke="#96dc3c" stroke-width="2.6" stroke-linecap="round"/><path d="M883.2 561.4h0M838.1 558.3h0M832.0 621.8h0" stroke="#96dc3c" stroke-width="3.2" stroke-linecap="round"/></g>
<g filter="url(#blur05)" transform="translate(835.0,566.0) rotate(80)">
<ellipse cx="0.0" cy="0.0" rx="6.8" ry="4.9" fill="#1fbf60"/>
<ellipse cx="0.9" cy="-0.5" rx="6.8" ry="4.9" fill="#1fbf60"/>
<ellipse cx="0.0" cy="0.4" rx="6.8" ry="4.9" fill="#1fbf60"/>
<ellipse cx="0.0" cy="0.0" rx="5.4" ry="3.8" fill="#e2da1a"/>
<ellipse cx="0.9" cy="-0.5" rx="5.4" ry="3.8" fill="#e2da1a"/>
<ellipse cx="0.0" cy="0.4" rx="5.4" ry="3.8" fill="#e2da1a"/>
<ellipse cx="0.0" cy="0.0" rx="4.1" ry="2.9" fill="#f08010"/>
<ellipse cx="0.9" cy="-0.5" rx="4.1" ry="2.9" fill="#f08010"/>
<ellipse cx="0.0" cy="0.4" rx="4.1" ry="2.9" fill="#f08010"/>
<ellipse cx="0.0" cy="0.0" rx="2.9" ry="2.0" fill="#80010e"/>
<ellipse cx="0.9" cy="-0.5" rx="2.9" ry="2.0" fill="#80010e"/>
<ellipse cx="0.0" cy="0.4" rx="2.9" ry="2.0" fill="#80010e"/>
</g>
<g filter="url(#blur05)" transform="translate(842.0,691.0) rotate(0)">
<ellipse cx="0.0" cy="0.0" rx="5.5" ry="3.0" fill="#1cbc69"/>
<ellipse cx="-0.5" cy="-0.0" rx="5.5" ry="3.0" fill="#1cbc69"/>
<ellipse cx="0.3" cy="-0.1" rx="5.5" ry="3.0" fill="#1cbc69"/>
<ellipse cx="0.0" cy="0.0" rx="4.3" ry="2.4" fill="#dbdc1c"/>
<ellipse cx="-0.5" cy="-0.0" rx="4.3" ry="2.4" fill="#dbdc1c"/>
<ellipse cx="0.3" cy="-0.1" rx="4.3" ry="2.4" fill="#dbdc1c"/>
<ellipse cx="0.0" cy="0.0" rx="3.3" ry="1.8" fill="#f08610"/>
<ellipse cx="-0.5" cy="-0.0" rx="3.3" ry="1.8" fill="#f08610"/>
<ellipse cx="0.3" cy="-0.1" rx="3.3" ry="1.8" fill="#f08610"/>
<ellipse cx="0.0" cy="0.0" rx="2.3" ry="1.3" fill="#89020d"/>
<ellipse cx="-0.5" cy="-0.0" rx="2.3" ry="1.3" fill="#89020d"/>
<ellipse cx="0.3" cy="-0.1" rx="2.3" ry="1.3" fill="#89020d"/>
</g>
<g filter="url(#blur05)" transform="translate(852.0,690.0) rotate(0)">
<ellipse cx="0.0" cy="0.0" rx="2.4" ry="2.4" fill="#10a8ac"/>
<ellipse cx="-0.1" cy="-0.1" rx="2.4" ry="2.4" fill="#10a8ac"/>
<ellipse cx="0.3" cy="-0.1" rx="2.4" ry="2.4" fill="#10a8ac"/>
<ellipse cx="0.0" cy="0.0" rx="1.9" ry="1.9" fill="#98d535"/>
<ellipse cx="-0.1" cy="-0.1" rx="1.9" ry="1.9" fill="#98d535"/>
<ellipse cx="0.3" cy="-0.1" rx="1.9" ry="1.9" fill="#98d535"/>
<ellipse cx="0.0" cy="0.0" rx="1.5" ry="1.5" fill="#f6b316"/>
<ellipse cx="-0.1" cy="-0.1" rx="1.5" ry="1.5" fill="#f6b316"/>
<ellipse cx="0.3" cy="-0.1" rx="1.5" ry="1.5" fill="#f6b316"/>
<ellipse cx="0.0" cy="0.0" rx="1.0" ry="1.0" fill="#c80808"/>
<ellipse cx="-0.1" cy="-0.1" rx="1.0" ry="1.0" fill="#c80808"/>
<ellipse cx="0.3" cy="-0.1" rx="1.0" ry="1.0" fill="#c80808"/>
</g>
<g filter="url(#blur05)" transform="translate(965.0,566.0) rotate(0)">
<ellipse cx="0.0" cy="0.0" rx="2.7" ry="2.7" fill="#2662ca"/>
<ellipse cx="0.6" cy="0.1" rx="2.7" ry="2.7" fill="#2662ca"/>
<ellipse cx="0.1" cy="-0.5" rx="2.7" ry="2.7" fill="#2662ca"/>
<ellipse cx="0.0" cy="0.0" rx="2.2" ry="2.2" fill="#10a0c8"/>
<ellipse cx="0.6" cy="0.1" rx="2.2" ry="2.2" fill="#10a0c8"/>
<ellipse cx="0.1" cy="-0.5" rx="2.2" ry="2.2" fill="#10a0c8"/>
<ellipse cx="0.0" cy="0.0" rx="1.7" ry="1.7" fill="#98d535"/>
<ellipse cx="0.6" cy="0.1" rx="1.7" ry="1.7" fill="#98d535"/>
<ellipse cx="0.1" cy="-0.5" rx="1.7" ry="1.7" fill="#98d535"/>
<ellipse cx="0.0" cy="0.0" rx="1.2" ry="1.2" fill="#f39913"/>
<ellipse cx="0.6" cy="0.1" rx="1.2" ry="1.2" fill="#f39913"/>
<ellipse cx="0.1" cy="-0.5" rx="1.2" ry="1.2" fill="#f39913"/>
</g>
<g filter="url(#blur05)" transform="translate(964.0,651.0) rotate(0)">
<ellipse cx="0.0" cy="0.0" rx="2.4" ry="2.4" fill="#382477"/>
<ellipse cx="-0.5" cy="-0.0" rx="2.4" ry="2.4" fill="#382477"/>
<ellipse cx="0.2" cy="0.5" rx="2.4" ry="2.4" fill="#382477"/>
<ellipse cx="0.0" cy="0.0" rx="1.9" ry="1.9" fill="#206fd7"/>
<ellipse cx="-0.5" cy="-0.0" rx="1.9" ry="1.9" fill="#206fd7"/>
<ellipse cx="0.2" cy="0.5" rx="1.9" ry="1.9" fill="#206fd7"/>
<ellipse cx="0.0" cy="0.0" rx="1.5" ry="1.5" fill="#10b090"/>
<ellipse cx="-0.5" cy="-0.0" rx="1.5" ry="1.5" fill="#10b090"/>
<ellipse cx="0.2" cy="0.5" rx="1.5" ry="1.5" fill="#10b090"/>
<ellipse cx="0.0" cy="0.0" rx="1.0" ry="1.0" fill="#f0d818"/>
<ellipse cx="-0.5" cy="-0.0" rx="1.0" ry="1.0" fill="#f0d818"/>
<ellipse cx="0.2" cy="0.5" rx="1.0" ry="1.0" fill="#f0d818"/>
</g>
<g filter="url(#blur05)" transform="translate(958.0,691.0) rotate(0)">
<ellipse cx="0.0" cy="0.0" rx="2.7" ry="2.7" fill="#2b59c1"/>
<ellipse cx="0.1" cy="0.1" rx="2.7" ry="2.7" fill="#2b59c1"/>
<ellipse cx="-0.3" cy="-0.3" rx="2.7" ry="2.7" fill="#2b59c1"/>
<ellipse cx="0.0" cy="0.0" rx="2.2" ry="2.2" fill="#129ad2"/>
<ellipse cx="0.1" cy="0.1" rx="2.2" ry="2.2" fill="#129ad2"/>
<ellipse cx="-0.3" cy="-0.3" rx="2.2" ry="2.2" fill="#129ad2"/>
<ellipse cx="0.0" cy="0.0" rx="1.7" ry="1.7" fill="#80d040"/>
<ellipse cx="0.1" cy="0.1" rx="1.7" ry="1.7" fill="#80d040"/>
<ellipse cx="-0.3" cy="-0.3" rx="1.7" ry="1.7" fill="#80d040"/>
<ellipse cx="0.0" cy="0.0" rx="1.2" ry="1.2" fill="#f4a614"/>
<ellipse cx="0.1" cy="0.1" rx="1.2" ry="1.2" fill="#f4a614"/>
<ellipse cx="-0.3" cy="-0.3" rx="1.2" ry="1.2" fill="#f4a614"/>
</g>
</g>
<rect x="927.5" y="574.5" width="28.5" height="28.5" fill="none" stroke="#fff" stroke-width="2.2" stroke-dasharray="5 3.2" opacity="0.95"/>
<rect x="848" y="647" width="28.5" height="28.5" fill="none" stroke="#fff" stroke-width="2.2" stroke-dasharray="5 3.2" opacity="0.95"/>
</g>
<g>
<rect x="647.00" y="705.50" width="148.00" height="148.00" fill="#2c0935" stroke="none" stroke-width="1" />
<clipPath id="hc17"><rect x="647" y="705.5" width="148" height="148"/></clipPath>
<g clip-path="url(#hc17)">
<rect x="656" y="714.5" width="130" height="130" fill="none" stroke="#2838a8" stroke-width="9" opacity="0.35" filter="url(#blur3)"/>
<path d="M724 820L744 805L767 799L773 790L782 767L782 747L772 722M780 767L791 748L791 746L791 751L791 764L791 789L791 805M666 838L656 829L651 804L656 795L658 784L669 771L687 770M757 828L756 850L755 850L763 850L781 850L791 850L791 850M776 756L756 762L748 769L732 774L717 779L692 781L682 786M785 834L791 839L791 841L791 850L791 850L791 850L791 843M766 784L789 772L791 745L780 722L784 710L784 710L768 710M687 784L695 798L697 817L703 836L707 850L715 850L713 850M697 738L700 763L701 782L690 794L669 813L651 827L651 849M755 754L740 767L729 776L709 789L690 791L670 795L651 797M657 748L674 758L682 769L699 780L706 788L724 809L739 835M668 833L662 814L664 799L675 775L690 764L694 744L686 725M691 759L671 737L663 731L656 716L657 710L651 710L651 710M699 785L700 800L710 811L716 826L730 836L760 840L770 848M694 771L673 772L661 766L651 759L651 750L651 724L658 710M736 736L741 718L740 710L749 710L749 710L743 710L731 710" fill="none" stroke="#3c3cc0" stroke-width="1.1" opacity="0.4" stroke-linejoin="round"/>
<g filter="url(#blur3)"><path d="M652.1 744.9h0M696.4 847.1h0M748.6 717.4h0M723.7 713.2h0M654.7 757.7h0M788.4 748.9h0M759.9 839.3h0" stroke="#2d2896" stroke-width="8" stroke-linecap="round" opacity="0.3"/><path d="M769.6 713.0h0M783.6 820.7h0M685.2 845.7h0M658.1 720.0h0M724.5 846.2h0M782.9 784.2h0M702.6 720.1h0M785.1 804.6h0M743.7 712.6h0M720.8 836.3h0M781.4 842.8h0M784.5 787.3h0M720.6 716.7h0M694.8 844.6h0M660.5 714.0h0M664.0 835.3h0M671.7 845.8h0M652.8 805.1h0M730.7 711.4h0M652.8 819.1h0" stroke="#234bcd" stroke-width="8" stroke-linecap="round" opacity="0.3"/><path d="M757.3 710.7h0M790.5 821.4h0M784.5 846.5h0M685.2 847.6h0M682.4 710.3h0M782.2 736.6h0M787.0 846.8h0M702.1 714.1h0M704.2 845.6h0M657.4 776.1h0M660.8 841.1h0M658.4 732.7h0M658.7 812.0h0M737.2 709.8h0M658.6 805.2h0M658.8 802.6h0M787.1 820.6h0M750.8 845.8h0M712.7 714.2h0M721.8 842.3h0M651.9 779.8h0M790.7 799.4h0M728.7 716.6h0M787.3 825.4h0M651.2 800.1h0M658.5 729.8h0M725.0 844.2h0" stroke="#1e6ee6" stroke-width="8" stroke-linecap="round" opacity="0.3"/><path d="M787.3 843.2h0M689.0 718.0h0M712.8 711.4h0M654.6 840.4h0M710.8 845.5h0M657.2 761.8h0M656.2 759.3h0M783.5 830.9h0M783.1 747.6h0M709.6 844.2h0M721.8 844.1h0M742.0 710.9h0M748.2 845.7h0M654.1 803.0h0M656.1 776.1h0M651.9 767.4h0M713.4 842.2h0M651.7 715.0h0M787.8 738.7h0M651.4 712.5h0M772.6 709.7h0M786.1 793.7h0M657.4 821.2h0M652.2 744.2h0M700.8 844.0h0M772.4 843.1h0" stroke="#2396f0" stroke-width="8" stroke-linecap="round" opacity="0.3"/><path d="M786.3 732.7h0M654.9 744.1h0M722.2 719.3h0M734.4 848.5h0M714.1 849.2h0M656.4 845.8h0M755.0 845.9h0M689.6 711.6h0M667.0 711.7h0M740.0 841.6h0M676.0 841.6h0M770.5 716.9h0M776.3 718.5h0M655.5 779.0h0" stroke="#32b9f0" stroke-width="8" stroke-linecap="round" opacity="0.3"/><path d="M788.5 768.2h0M652.9 822.4h0M656.7 715.5h0M737.4 711.8h0M686.8 712.1h0M789.2 780.1h0" stroke="#3cc8aa" stroke-width="8" stroke-linecap="round" opacity="0.3"/><path d="M747.0 712.0h0M662.6 849.0h0M790.6 718.1h0" stroke="#96dc3c" stroke-width="8" stroke-linecap="round" opacity="0.3"/></g>
<g filter="url(#blur06)"><path d="M773.0 710.6h0M700.2 845.2h0M693.2 844.5h0M784.6 781.9h0M723.7 715.0h0M651.3 757.9h0M651.9 761.4h0M702.0 823.3h0M783.7 788.5h0M785.5 745.3h0M786.6 750.1h0M785.8 747.2h0M691.5 849.3h0M738.1 733.4h0M756.8 840.5h0M659.1 712.3h0M668.2 845.9h0M778.8 781.8h0M727.9 708.4h0M650.7 822.9h0" stroke="#2d2896" stroke-width="2.0" stroke-linecap="round"/><path d="M773.1 714.5h0M688.9 843.1h0M691.3 847.1h0M698.9 850.8h0M744.8 717.5h0M686.1 754.5h0M724.1 715.2h0M723.2 714.1h0M654.7 756.9h0M789.4 748.3h0M789.8 752.1h0M695.5 841.4h0M663.4 719.7h0M760.9 842.3h0M757.4 837.4h0M761.9 844.6h0M728.4 710.1h0M654.0 816.7h0M653.9 821.4h0" stroke="#2d2896" stroke-width="2.6" stroke-linecap="round"/><path d="M651.9 745.7h0M650.4 742.7h0M651.9 747.9h0M730.4 848.0h0M782.8 788.2h0M722.6 713.3h0M781.1 839.0h0M789.3 751.2h0M786.5 748.3h0M665.2 837.2h0M654.7 821.1h0" stroke="#2d2896" stroke-width="3.2" stroke-linecap="round"/><path d="M769.8 713.3h0M767.5 713.6h0M767.6 714.7h0M767.5 707.8h0M785.6 817.4h0M789.1 822.6h0M658.3 719.4h0M696.7 846.1h0M723.2 846.4h0M746.4 714.4h0M782.1 779.3h0M704.8 717.6h0M703.4 719.5h0M756.7 707.5h0M785.5 804.4h0M745.5 713.8h0M686.2 760.8h0M687.5 759.0h0M702.7 712.3h0M700.6 713.7h0M782.2 840.5h0M782.4 841.6h0M740.9 712.7h0M737.6 710.1h0M786.3 791.1h0M786.1 786.7h0M658.4 805.4h0M668.5 809.8h0M785.6 748.6h0M718.3 711.6h0M723.1 715.0h0M738.5 731.8h0M724.6 795.1h0M758.2 835.9h0M788.6 799.8h0M664.9 720.7h0M660.9 713.4h0M663.8 834.5h0M672.5 845.0h0M787.3 828.3h0M732.8 714.7h0" stroke="#234bcd" stroke-width="2.0" stroke-linecap="round"/><path d="M685.5 845.5h0M661.5 724.2h0M659.0 720.7h0M651.2 721.5h0M726.3 847.3h0M726.7 845.2h0M722.2 847.1h0M728.2 849.2h0M701.7 723.0h0M703.2 718.0h0M753.6 707.8h0M687.0 844.3h0M786.3 800.2h0M741.7 711.5h0M705.1 715.2h0M721.9 837.4h0M729.3 784.7h0M725.3 784.7h0M659.7 813.2h0M661.0 811.7h0M723.5 711.1h0M654.5 757.1h0M699.7 820.4h0M741.0 709.4h0M739.8 710.7h0M785.4 791.6h0M718.2 715.8h0M722.0 716.0h0M720.3 716.8h0M666.2 718.8h0M654.7 780.6h0M653.9 775.3h0M726.1 715.5h0M646.0 806.0h0M650.2 803.8h0M655.6 817.1h0" stroke="#234bcd" stroke-width="2.6" stroke-linecap="round"/><path d="M773.3 714.2h0M772.0 712.2h0M781.6 821.5h0M686.0 846.3h0M655.9 721.9h0M656.9 717.0h0M723.6 846.2h0M748.7 712.3h0M781.6 782.8h0M780.9 782.9h0M703.4 719.9h0M682.8 707.4h0M784.6 805.2h0M785.0 802.8h0M787.0 844.5h0M704.4 842.8h0M718.1 837.0h0M657.7 812.8h0M788.0 844.5h0M782.9 845.3h0M785.0 789.9h0M659.5 801.5h0M718.6 716.6h0M696.8 842.2h0M734.6 735.9h0M792.9 799.4h0M661.7 712.5h0M657.3 713.0h0M774.6 781.5h0M653.0 804.0h0M653.1 806.4h0M651.6 801.5h0M649.2 803.9h0M650.9 805.6h0M731.2 708.3h0M732.2 711.3h0M727.0 842.5h0M654.6 819.4h0M653.8 821.7h0" stroke="#234bcd" stroke-width="3.2" stroke-linecap="round"/><path d="M687.2 721.7h0M715.9 711.7h0M709.2 840.3h0M700.3 722.2h0M756.3 708.0h0M754.6 710.3h0M792.6 821.4h0M792.5 826.8h0M788.8 849.2h0M784.9 851.2h0M680.5 708.6h0M710.1 846.7h0M778.0 737.7h0M782.8 738.6h0M783.1 732.3h0M705.9 713.2h0M702.3 715.2h0M699.4 842.2h0M657.7 777.0h0M722.5 839.0h0M658.4 734.2h0M720.4 845.9h0M659.7 814.5h0M657.5 813.1h0M660.4 817.4h0M743.4 714.4h0M737.6 712.2h0M661.2 807.6h0M659.2 803.7h0M657.4 805.2h0M658.0 805.3h0M654.8 801.7h0M662.4 800.5h0M656.3 800.9h0M655.8 802.2h0M670.7 807.2h0M756.9 722.6h0M652.5 802.3h0M693.5 843.1h0M724.8 840.7h0M721.0 842.7h0M720.7 842.6h0M788.9 738.0h0M661.7 712.5h0M663.9 836.1h0M663.7 837.5h0M789.5 791.5h0M790.2 792.7h0M787.8 826.6h0M650.1 803.5h0M700.1 843.8h0M731.6 710.8h0M730.6 710.4h0M659.8 728.9h0M670.8 714.7h0M721.1 843.9h0M723.2 846.5h0" stroke="#1e6ee6" stroke-width="2.0" stroke-linecap="round"/><path d="M785.6 843.9h0M710.4 713.6h0M650.3 843.5h0M707.3 715.9h0M759.8 712.5h0M756.7 710.3h0M683.3 846.6h0M684.2 846.9h0M680.0 709.1h0M784.6 736.4h0M746.7 712.1h0M785.7 846.4h0M704.4 716.0h0M706.7 714.5h0M661.4 841.9h0M657.2 840.1h0M657.6 728.7h0M723.1 846.8h0M657.1 801.5h0M719.0 719.1h0M782.3 824.8h0M754.8 846.7h0M711.4 712.5h0M712.5 713.7h0M655.8 769.2h0M654.4 768.3h0M723.6 844.1h0M721.4 844.3h0M722.5 840.2h0M651.5 781.6h0M655.4 779.3h0M657.1 777.4h0M716.3 844.9h0M654.5 715.6h0M656.1 716.1h0M774.2 706.7h0M773.7 712.6h0M726.4 713.9h0M671.9 847.1h0M653.8 745.2h0M777.0 841.8h0M653.3 802.6h0M651.9 797.7h0M673.4 714.7h0M673.0 717.6h0M663.3 716.6h0M724.8 841.2h0M727.5 849.3h0" stroke="#1e6ee6" stroke-width="2.6" stroke-linecap="round"/><path d="M692.3 713.5h0M653.0 841.1h0M657.0 763.3h0M654.3 757.5h0M660.8 716.8h0M708.0 719.7h0M754.4 712.8h0M792.0 823.3h0M780.3 735.5h0M779.3 732.3h0M782.6 738.8h0M785.3 850.7h0M660.9 842.9h0M654.8 842.2h0M659.3 840.4h0M665.5 840.4h0M660.3 730.1h0M657.0 815.3h0M738.6 710.0h0M704.0 823.3h0M738.3 709.9h0M657.2 806.5h0M661.3 804.4h0M659.6 805.2h0M660.8 799.7h0M718.7 717.8h0M786.7 820.7h0M753.1 841.7h0M749.1 843.5h0M659.7 774.9h0M692.5 845.1h0M652.7 780.1h0M654.0 714.9h0M790.9 797.9h0M785.4 791.7h0M791.8 823.0h0M653.5 802.2h0M657.4 729.7h0M661.2 731.5h0M725.8 846.5h0M721.3 843.9h0M649.7 821.4h0" stroke="#1e6ee6" stroke-width="3.2" stroke-linecap="round"/><path d="M783.8 839.7h0M784.6 841.0h0M690.2 715.6h0M685.3 717.1h0M710.5 709.6h0M710.9 710.9h0M655.2 838.4h0M657.3 843.0h0M709.1 846.9h0M760.4 709.0h0M782.4 847.2h0M688.4 848.1h0M782.3 830.8h0M780.9 828.5h0M784.9 752.1h0M710.8 847.5h0M707.4 843.0h0M660.6 842.7h0M660.6 736.6h0M744.4 712.2h0M714.8 848.4h0M748.3 847.3h0M652.7 802.7h0M790.2 816.6h0M751.1 844.4h0M660.1 778.2h0M666.4 712.7h0M649.1 768.2h0M654.2 767.0h0M651.0 713.1h0M789.0 797.1h0M785.2 739.7h0M788.0 739.7h0M785.8 734.5h0M653.0 711.3h0M648.3 712.2h0M728.9 715.6h0M657.6 822.4h0M700.2 845.2h0M771.0 842.2h0" stroke="#2396f0" stroke-width="2.0" stroke-linecap="round"/><path d="M783.1 846.1h0M785.3 845.9h0M787.3 841.6h0M687.8 716.2h0M710.9 711.7h0M704.9 842.0h0M659.6 760.9h0M657.7 764.2h0M656.5 755.9h0M655.6 744.3h0M720.2 719.4h0M788.0 830.9h0M782.0 829.6h0M783.4 828.1h0M782.8 829.5h0M782.9 749.0h0M780.5 749.7h0M784.4 746.1h0M707.5 844.5h0M658.8 775.2h0M661.3 845.6h0M744.0 710.8h0M738.7 709.7h0M745.4 848.0h0M711.9 715.0h0M650.1 770.5h0M653.4 770.2h0M652.9 713.7h0M789.2 737.0h0M789.3 741.1h0M655.9 712.5h0M648.4 716.6h0M784.5 795.3h0M789.2 796.8h0M654.7 822.1h0M656.3 822.4h0M775.0 717.1h0M699.9 845.5h0M700.7 845.0h0M770.9 845.1h0M773.3 841.1h0M658.4 730.8h0M654.6 730.5h0M654.7 732.8h0M661.3 730.6h0M666.1 714.1h0M726.4 842.8h0" stroke="#2396f0" stroke-width="2.6" stroke-linecap="round"/><path d="M787.9 846.1h0M653.4 840.1h0M657.0 838.1h0M654.4 840.6h0M708.8 839.9h0M708.2 848.9h0M655.0 760.9h0M656.5 742.4h0M680.4 712.2h0M684.4 707.3h0M784.4 830.5h0M785.1 833.1h0M781.4 737.7h0M729.7 844.6h0M704.7 846.3h0M654.6 776.3h0M726.5 844.7h0M719.4 845.5h0M720.4 844.5h0M720.8 843.6h0M742.6 707.6h0M735.3 711.5h0M658.5 804.8h0M754.5 846.7h0M745.8 848.0h0M653.5 805.6h0M656.8 775.7h0M655.7 773.9h0M649.6 767.0h0M715.8 841.6h0M712.9 842.4h0M715.6 845.8h0M710.8 846.0h0M651.1 711.6h0M653.9 714.6h0M795.1 800.5h0M771.4 712.6h0M785.5 791.6h0M784.3 792.0h0M727.6 715.3h0M790.0 826.2h0M655.2 747.1h0M775.3 717.2h0M773.5 845.3h0M648.8 800.8h0" stroke="#2396f0" stroke-width="3.2" stroke-linecap="round"/><path d="M791.9 843.6h0M690.9 716.9h0M708.5 842.6h0M714.4 846.9h0M720.9 717.9h0M723.1 715.3h0M726.2 723.2h0M780.7 745.6h0M782.8 749.1h0M734.3 850.5h0M715.3 848.2h0M654.7 845.9h0M657.3 846.4h0M745.0 844.8h0M656.2 804.9h0M689.6 713.3h0M653.7 778.1h0M669.8 711.7h0M740.1 839.6h0M712.2 843.2h0M787.0 735.6h0M776.7 717.5h0M774.3 720.8h0M775.0 843.7h0M655.5 775.2h0M656.8 780.8h0M654.9 777.0h0M785.4 782.9h0" stroke="#32b9f0" stroke-width="2.0" stroke-linecap="round"/><path d="M784.9 731.5h0M791.2 733.5h0M654.8 745.0h0M655.0 746.1h0M721.7 716.8h0M725.5 718.9h0M708.5 842.7h0M736.2 848.0h0M653.3 821.6h0M649.9 820.3h0M654.1 819.2h0M746.0 708.9h0M754.6 847.2h0M658.1 776.3h0M664.0 709.2h0M738.1 841.7h0M738.7 841.8h0M674.6 842.7h0M672.6 842.5h0M684.9 715.7h0M659.8 822.0h0M775.1 717.3h0M770.2 841.0h0M772.2 844.9h0M655.3 781.6h0M656.2 781.0h0" stroke="#32b9f0" stroke-width="2.6" stroke-linecap="round"/><path d="M658.2 763.2h0M656.2 744.4h0M735.3 851.4h0M744.7 714.5h0M713.9 850.9h0M655.4 713.5h0M654.9 803.5h0M687.7 710.7h0M653.3 775.6h0M663.7 711.8h0M741.4 842.6h0M741.9 841.5h0M690.8 710.0h0M770.9 716.0h0M653.7 744.1h0M648.6 780.5h0" stroke="#32b9f0" stroke-width="3.2" stroke-linecap="round"/><path d="M789.3 770.8h0M786.8 773.6h0M737.2 845.4h0M652.7 825.0h0M651.5 822.4h0M657.9 715.7h0M659.1 715.0h0M655.8 713.6h0M655.5 848.2h0M739.6 714.2h0M790.1 781.4h0" stroke="#3cc8aa" stroke-width="2.0" stroke-linecap="round"/><path d="M789.2 772.1h0M786.4 767.8h0M655.7 718.0h0M758.0 843.7h0M739.1 840.6h0M748.6 710.5h0M734.4 711.3h0M739.2 711.9h0M674.2 841.3h0M768.5 715.8h0" stroke="#3cc8aa" stroke-width="2.6" stroke-linecap="round"/><path d="M787.4 731.2h0M786.6 770.2h0M724.9 719.2h0M649.4 823.3h0M650.8 823.7h0M713.0 851.0h0M659.3 717.2h0M685.9 709.2h0M741.1 836.8h0M751.0 712.0h0M770.0 717.9h0M776.3 719.0h0M790.4 779.5h0" stroke="#3cc8aa" stroke-width="3.2" stroke-linecap="round"/><path d="M746.1 712.3h0M747.7 709.4h0M746.5 714.1h0M688.5 710.6h0M686.9 708.7h0M787.6 715.4h0M791.6 718.0h0" stroke="#96dc3c" stroke-width="2.0" stroke-linecap="round"/><path d="M789.3 770.4h0M789.8 767.2h0M659.9 852.0h0M663.1 853.0h0M790.8 719.8h0" stroke="#96dc3c" stroke-width="2.6" stroke-linecap="round"/><path d="M651.6 719.9h0M743.7 711.4h0M753.6 712.2h0M750.4 712.8h0M735.9 708.5h0M684.2 714.1h0M682.9 709.5h0M662.5 849.7h0" stroke="#96dc3c" stroke-width="3.2" stroke-linecap="round"/></g>
<g filter="url(#blur05)" transform="translate(654.0,724.5) rotate(90)">
<ellipse cx="0.0" cy="0.0" rx="8.0" ry="5.0" fill="#1fbf60"/>
<ellipse cx="-0.6" cy="-0.0" rx="8.0" ry="5.0" fill="#1fbf60"/>
<ellipse cx="0.4" cy="0.7" rx="8.0" ry="5.0" fill="#1fbf60"/>
<ellipse cx="0.0" cy="0.0" rx="6.3" ry="4.0" fill="#e2da1a"/>
<ellipse cx="-0.6" cy="-0.0" rx="6.3" ry="4.0" fill="#e2da1a"/>
<ellipse cx="0.4" cy="0.7" rx="6.3" ry="4.0" fill="#e2da1a"/>
<ellipse cx="0.0" cy="0.0" rx="4.9" ry="3.0" fill="#f08010"/>
<ellipse cx="-0.6" cy="-0.0" rx="4.9" ry="3.0" fill="#f08010"/>
<ellipse cx="0.4" cy="0.7" rx="4.9" ry="3.0" fill="#f08010"/>
<ellipse cx="0.0" cy="0.0" rx="3.4" ry="2.1" fill="#80010e"/>
<ellipse cx="-0.6" cy="-0.0" rx="3.4" ry="2.1" fill="#80010e"/>
<ellipse cx="0.4" cy="0.7" rx="3.4" ry="2.1" fill="#80010e"/>
</g>
<g filter="url(#blur05)" transform="translate(678.0,713.5) rotate(0)">
<ellipse cx="0.0" cy="0.0" rx="4.3" ry="3.0" fill="#1cbc69"/>
<ellipse cx="0.4" cy="-0.3" rx="4.3" ry="3.0" fill="#1cbc69"/>
<ellipse cx="0.6" cy="-0.3" rx="4.3" ry="3.0" fill="#1cbc69"/>
<ellipse cx="0.0" cy="0.0" rx="3.4" ry="2.4" fill="#dbdc1c"/>
<ellipse cx="0.4" cy="-0.3" rx="3.4" ry="2.4" fill="#dbdc1c"/>
<ellipse cx="0.6" cy="-0.3" rx="3.4" ry="2.4" fill="#dbdc1c"/>
<ellipse cx="0.0" cy="0.0" rx="2.6" ry="1.8" fill="#f08610"/>
<ellipse cx="0.4" cy="-0.3" rx="2.6" ry="1.8" fill="#f08610"/>
<ellipse cx="0.6" cy="-0.3" rx="2.6" ry="1.8" fill="#f08610"/>
<ellipse cx="0.0" cy="0.0" rx="1.8" ry="1.3" fill="#89020d"/>
<ellipse cx="0.4" cy="-0.3" rx="1.8" ry="1.3" fill="#89020d"/>
<ellipse cx="0.6" cy="-0.3" rx="1.8" ry="1.3" fill="#89020d"/>
</g>
<g filter="url(#blur05)" transform="translate(678.0,819.5) rotate(0)">
<ellipse cx="0.0" cy="0.0" rx="4.3" ry="4.3" fill="#382477"/>
<ellipse cx="0.1" cy="-0.3" rx="4.3" ry="4.3" fill="#382477"/>
<ellipse cx="-0.2" cy="0.0" rx="4.3" ry="4.3" fill="#382477"/>
<ellipse cx="0.0" cy="0.0" rx="3.4" ry="3.4" fill="#206fd7"/>
<ellipse cx="0.1" cy="-0.3" rx="3.4" ry="3.4" fill="#206fd7"/>
<ellipse cx="-0.2" cy="0.0" rx="3.4" ry="3.4" fill="#206fd7"/>
<ellipse cx="0.0" cy="0.0" rx="2.6" ry="2.6" fill="#10b090"/>
<ellipse cx="0.1" cy="-0.3" rx="2.6" ry="2.6" fill="#10b090"/>
<ellipse cx="-0.2" cy="0.0" rx="2.6" ry="2.6" fill="#10b090"/>
<ellipse cx="0.0" cy="0.0" rx="1.8" ry="1.8" fill="#f0d818"/>
<ellipse cx="0.1" cy="-0.3" rx="1.8" ry="1.8" fill="#f0d818"/>
<ellipse cx="-0.2" cy="0.0" rx="1.8" ry="1.8" fill="#f0d818"/>
</g>
<g filter="url(#blur05)" transform="translate(779.0,840.5) rotate(0)">
<ellipse cx="0.0" cy="0.0" rx="3.6" ry="3.6" fill="#34164e"/>
<ellipse cx="0.2" cy="-0.1" rx="3.6" ry="3.6" fill="#34164e"/>
<ellipse cx="0.6" cy="0.0" rx="3.6" ry="3.6" fill="#34164e"/>
<ellipse cx="0.0" cy="0.0" rx="2.9" ry="2.9" fill="#2b59c1"/>
<ellipse cx="0.2" cy="-0.1" rx="2.9" ry="2.9" fill="#2b59c1"/>
<ellipse cx="0.6" cy="0.0" rx="2.9" ry="2.9" fill="#2b59c1"/>
<ellipse cx="0.0" cy="0.0" rx="2.2" ry="2.2" fill="#10a2be"/>
<ellipse cx="0.2" cy="-0.1" rx="2.2" ry="2.2" fill="#10a2be"/>
<ellipse cx="0.6" cy="0.0" rx="2.2" ry="2.2" fill="#10a2be"/>
<ellipse cx="0.0" cy="0.0" rx="1.5" ry="1.5" fill="#cede1e"/>
<ellipse cx="0.2" cy="-0.1" rx="1.5" ry="1.5" fill="#cede1e"/>
<ellipse cx="0.6" cy="0.0" rx="1.5" ry="1.5" fill="#cede1e"/>
</g>
</g>
<rect x="665" y="727.5" width="28.5" height="28.5" fill="none" stroke="#fff" stroke-width="2.2" stroke-dasharray="5 3.2" opacity="0.95"/>
<rect x="665" y="800.5" width="28.5" height="28.5" fill="none" stroke="#fff" stroke-width="2.2" stroke-dasharray="5 3.2" opacity="0.95"/>
</g>
<g>
<rect x="828.00" y="705.50" width="148.00" height="148.00" fill="#2c0935" stroke="none" stroke-width="1" />
<clipPath id="hc18"><rect x="828" y="705.5" width="148" height="148"/></clipPath>
<g clip-path="url(#hc18)">
<rect x="837" y="714.5" width="130" height="130" fill="none" stroke="#2838a8" stroke-width="9" opacity="0.35" filter="url(#blur3)"/>
<path d="M860 801L860 821L861 840L862 850L874 850L892 850L901 850M961 744L953 765L958 788L946 812L946 828L970 845L972 849M907 792L891 777L880 772L853 762L832 769L832 769L832 782M894 767L878 785L862 798L847 820L832 828L832 840L834 850M922 785L912 806L890 820L870 826L860 819L844 796L832 776M860 768L861 792L872 805L873 821L894 843L900 850L907 850M857 811L844 796L832 781L832 776L832 764L832 753L832 744M952 833L972 842L972 850L972 850L972 850L965 850L946 850M959 748L970 769L969 782L972 803L972 810L972 828L972 844M890 781L897 774L923 775L934 764L939 751L936 739L938 720M850 825L853 798L864 781L861 757L875 733L888 730L897 737M884 785L867 762L863 735L866 716L851 710L853 710L861 710M888 813L887 797L880 786L877 776L857 762L848 757L832 746M904 749L913 760L923 765L944 781L962 794L972 803L972 800M838 801L849 792L857 763L871 757L893 743L904 744L918 747M847 805L832 819L832 832L832 845L832 850L832 847L832 842" fill="none" stroke="#3c3cc0" stroke-width="1.1" opacity="0.4" stroke-linejoin="round"/>
<g filter="url(#blur3)"><path d="M873.0 713.4h0M844.1 829.6h0M971.1 822.3h0M909.0 710.7h0M900.2 721.0h0" stroke="#2d2896" stroke-width="8" stroke-linecap="round" opacity="0.3"/><path d="M964.9 841.5h0M901.3 838.1h0M838.9 814.4h0M965.8 796.3h0M966.0 741.9h0M832.9 738.6h0M882.1 712.0h0M834.4 720.5h0M900.7 848.1h0M877.2 715.8h0M965.2 845.6h0M960.4 841.7h0M871.9 711.6h0M832.6 803.2h0M960.0 838.0h0M919.8 848.9h0M835.2 844.7h0M871.3 846.7h0M844.7 723.0h0M957.8 795.6h0M960.6 838.8h0M970.8 841.8h0M971.1 813.8h0M833.7 733.1h0M839.3 822.3h0M895.5 842.3h0M836.4 715.8h0" stroke="#234bcd" stroke-width="8" stroke-linecap="round" opacity="0.3"/><path d="M971.1 752.9h0M950.8 710.5h0M835.3 841.9h0M907.9 713.0h0M970.7 725.9h0M908.9 711.0h0M936.1 839.5h0M962.7 788.8h0M920.7 845.1h0M923.2 846.3h0M879.7 713.8h0M959.4 714.2h0M968.2 814.3h0M914.9 844.2h0M849.4 847.6h0M838.8 712.6h0M951.9 842.4h0M925.0 712.0h0M845.3 717.6h0M846.6 846.1h0M880.4 839.4h0M920.1 717.2h0M883.0 841.1h0M913.5 713.7h0M961.3 718.0h0M874.8 711.9h0M921.1 720.9h0M839.6 796.9h0M969.0 710.1h0" stroke="#1e6ee6" stroke-width="8" stroke-linecap="round" opacity="0.3"/><path d="M858.4 843.1h0M963.8 804.8h0M929.0 839.1h0M968.0 768.3h0M965.3 809.2h0M964.2 777.5h0M834.2 791.8h0M850.9 843.1h0M967.4 773.0h0M878.5 847.0h0M841.3 800.3h0M854.8 844.2h0M840.8 838.4h0M884.6 714.4h0M832.8 719.1h0M876.9 838.5h0M838.5 726.9h0M915.5 845.0h0M855.1 713.2h0" stroke="#2396f0" stroke-width="8" stroke-linecap="round" opacity="0.3"/><path d="M832.4 791.0h0M970.0 845.0h0M879.5 844.8h0M971.9 843.8h0M866.1 710.0h0M964.4 846.5h0M963.4 711.5h0M889.8 712.7h0M880.1 838.8h0M935.6 720.1h0" stroke="#32b9f0" stroke-width="8" stroke-linecap="round" opacity="0.3"/><path d="M833.4 840.2h0M834.2 708.7h0M970.2 804.8h0M970.6 799.6h0M938.9 845.9h0" stroke="#3cc8aa" stroke-width="8" stroke-linecap="round" opacity="0.3"/></g>
<g filter="url(#blur06)"><path d="M903.9 840.4h0M848.0 796.4h0M870.0 714.5h0M873.3 713.0h0M851.4 764.3h0M845.6 829.6h0M955.5 800.8h0M878.8 715.8h0M968.6 823.4h0M968.2 818.4h0M868.9 712.2h0M834.4 801.7h0M956.3 837.2h0M910.0 711.9h0M971.4 841.6h0M922.2 763.6h0M900.5 718.5h0M835.2 716.8h0M935.7 760.2h0" stroke="#2d2896" stroke-width="2.0" stroke-linecap="round"/><path d="M902.2 792.2h0M834.6 739.2h0M880.6 714.6h0M881.5 711.3h0M847.2 800.9h0M910.9 747.5h0M872.1 714.9h0M871.7 716.0h0M841.9 830.6h0M847.4 746.5h0M833.7 722.9h0M872.6 710.3h0M960.3 839.9h0M958.3 835.6h0M918.6 851.3h0M833.4 845.3h0M870.2 848.5h0M955.8 765.6h0M955.1 766.5h0M959.1 799.5h0M969.6 816.4h0M903.6 722.4h0" stroke="#2d2896" stroke-width="2.6" stroke-linecap="round"/><path d="M839.6 812.9h0M839.4 814.0h0M901.2 794.4h0M880.4 707.4h0M874.5 709.4h0M873.5 711.4h0M847.7 827.7h0M846.6 830.3h0M878.1 714.3h0M974.1 825.8h0M969.0 821.2h0M966.3 845.6h0M870.5 711.1h0M921.8 852.0h0M847.4 723.6h0M903.1 804.1h0M954.5 795.7h0M960.1 794.1h0M957.3 793.5h0M971.2 840.7h0M835.9 729.9h0M838.3 823.3h0" stroke="#2d2896" stroke-width="3.2" stroke-linecap="round"/><path d="M972.3 754.1h0M967.8 751.7h0M900.3 835.8h0M904.2 838.9h0M836.9 813.6h0M968.5 795.5h0M966.2 740.6h0M967.1 739.9h0M911.5 711.6h0M903.3 791.3h0M832.7 739.3h0M886.1 710.1h0M851.0 761.0h0M844.1 829.4h0M844.3 827.4h0M849.5 749.7h0M923.3 845.1h0M835.9 721.1h0M833.7 716.9h0M958.1 805.4h0M955.3 805.5h0M876.2 710.5h0M966.2 773.7h0M905.0 844.4h0M883.4 714.7h0M923.1 751.2h0M967.0 845.7h0M912.3 843.6h0M961.5 844.8h0M872.6 716.1h0M953.9 840.6h0M951.0 843.6h0M833.8 802.6h0M846.9 717.4h0M841.3 719.2h0M961.7 836.1h0M847.8 843.9h0M918.5 846.5h0M911.7 709.8h0M885.7 797.8h0M880.8 796.7h0M835.7 842.8h0M835.6 847.4h0M841.5 723.2h0M959.4 801.9h0M960.2 791.7h0M956.6 796.7h0M968.8 840.9h0M919.3 762.3h0M969.6 813.3h0M836.2 731.5h0M841.3 822.1h0M896.8 841.3h0M922.3 719.7h0M921.8 725.7h0M842.1 797.4h0M837.6 719.4h0M835.3 717.5h0" stroke="#234bcd" stroke-width="2.0" stroke-linecap="round"/><path d="M965.8 839.7h0M966.5 841.0h0M964.7 842.9h0M963.2 843.5h0M902.8 839.5h0M842.6 810.7h0M967.0 798.0h0M947.9 708.4h0M956.1 710.5h0M832.4 841.4h0M882.2 710.5h0M914.4 744.1h0M869.3 712.2h0M876.5 711.5h0M922.9 847.3h0M949.3 726.1h0M832.4 719.2h0M837.7 721.3h0M832.4 721.4h0M878.5 718.3h0M919.7 755.4h0M962.3 844.7h0M969.2 845.2h0M850.5 845.2h0M837.7 713.1h0M954.9 839.1h0M961.8 838.7h0M873.8 711.6h0M834.4 807.6h0M924.7 714.5h0M962.2 835.6h0M846.2 848.9h0M835.3 844.1h0M871.2 848.8h0M867.8 847.7h0M841.3 727.1h0M849.3 726.4h0M845.3 724.7h0M913.5 717.4h0M956.2 839.1h0M961.0 837.1h0M963.5 838.5h0M961.5 835.4h0M957.7 836.4h0M969.3 816.4h0M971.6 813.9h0M832.0 732.7h0M838.6 819.1h0M839.7 824.0h0M898.1 840.4h0M901.2 721.3h0M872.6 713.7h0M839.4 715.9h0M835.7 715.9h0" stroke="#234bcd" stroke-width="2.6" stroke-linecap="round"/><path d="M965.2 840.2h0M961.1 840.2h0M966.1 843.1h0M898.9 833.3h0M903.7 835.9h0M835.8 817.0h0M837.2 813.3h0M965.6 742.5h0M971.1 722.5h0M968.0 724.7h0M907.6 710.6h0M963.2 797.5h0M961.4 797.6h0M948.6 729.4h0M833.8 718.8h0M882.7 713.7h0M900.6 852.4h0M964.6 848.5h0M959.4 716.0h0M869.4 709.8h0M833.5 803.2h0M848.2 720.0h0M957.1 837.1h0M958.2 841.2h0M950.9 774.9h0M918.5 849.8h0M909.1 713.2h0M890.2 798.0h0M839.5 841.2h0M867.1 845.9h0M871.9 841.9h0M879.3 841.5h0M846.2 723.3h0M954.7 790.9h0M957.6 839.0h0M923.6 767.3h0M973.7 812.7h0M973.1 810.2h0M842.4 823.5h0M894.3 841.2h0M872.2 711.8h0M870.2 709.4h0M925.2 720.7h0M835.7 712.8h0" stroke="#234bcd" stroke-width="3.2" stroke-linecap="round"/><path d="M963.0 842.6h0M969.4 755.2h0M970.5 750.2h0M948.7 710.8h0M953.2 708.6h0M903.8 711.5h0M912.6 711.5h0M968.0 728.9h0M931.1 840.9h0M970.1 772.3h0M965.7 771.6h0M963.8 785.8h0M965.0 789.7h0M923.7 845.6h0M967.6 806.7h0M952.0 728.5h0M919.1 843.2h0M904.7 848.6h0M850.0 843.2h0M965.6 844.5h0M958.1 711.9h0M964.9 812.1h0M968.5 815.0h0M916.6 842.7h0M852.4 849.9h0M849.0 845.6h0M952.6 846.0h0M924.3 712.4h0M846.2 849.9h0M843.9 721.4h0M949.5 762.8h0M887.1 838.7h0M881.1 840.6h0M954.2 838.6h0M913.3 718.0h0M912.7 712.2h0M970.1 816.7h0M960.4 714.5h0M876.4 837.2h0M920.8 723.3h0M919.8 720.5h0M917.9 721.6h0M957.6 837.3h0M838.8 715.4h0M969.9 711.5h0" stroke="#1e6ee6" stroke-width="2.0" stroke-linecap="round"/><path d="M838.1 817.0h0M968.5 795.8h0M948.2 711.9h0M834.8 840.9h0M832.6 839.7h0M971.1 724.0h0M936.6 836.1h0M959.0 792.2h0M960.7 789.3h0M948.8 726.4h0M949.3 726.2h0M968.0 774.8h0M834.5 792.2h0M833.4 725.2h0M881.6 713.0h0M961.7 775.6h0M875.5 844.9h0M882.6 847.0h0M914.0 842.2h0M910.5 841.7h0M845.6 849.0h0M874.1 709.9h0M951.2 843.9h0M827.9 800.6h0M922.3 715.2h0M928.7 710.4h0M839.7 832.4h0M944.9 779.3h0M843.2 849.7h0M878.6 837.7h0M911.2 714.9h0M963.9 717.4h0M879.1 837.8h0M872.0 713.4h0M873.7 709.6h0M918.4 719.8h0M920.4 722.4h0M837.1 794.1h0M835.9 800.7h0" stroke="#1e6ee6" stroke-width="2.6" stroke-linecap="round"/><path d="M950.5 710.6h0M970.1 741.9h0M907.5 713.6h0M905.1 710.7h0M909.2 713.5h0M968.0 724.5h0M827.5 739.2h0M927.1 838.6h0M909.8 710.8h0M964.9 789.0h0M960.5 791.3h0M962.2 788.3h0M966.4 784.6h0M921.1 846.9h0M922.0 842.5h0M959.8 775.5h0M848.1 743.6h0M921.9 852.7h0M877.6 713.3h0M962.2 842.6h0M963.1 843.7h0M910.6 846.2h0M914.2 839.7h0M850.7 849.6h0M847.9 844.4h0M850.4 845.9h0M837.0 712.0h0M838.4 714.3h0M871.4 707.4h0M842.9 720.2h0M846.8 716.3h0M845.3 714.3h0M961.6 832.3h0M881.0 843.0h0M880.9 836.8h0M917.8 718.1h0M920.8 717.7h0M882.6 837.2h0M881.9 840.3h0M879.5 839.4h0M917.1 712.7h0M914.5 711.9h0M959.0 715.7h0M959.5 720.8h0M878.6 710.3h0M874.5 709.2h0M836.6 795.3h0M957.4 842.7h0M919.6 847.8h0M970.2 714.1h0M968.9 710.3h0" stroke="#1e6ee6" stroke-width="3.2" stroke-linecap="round"/><path d="M857.1 840.4h0M860.6 842.0h0M858.3 843.4h0M857.5 844.0h0M964.0 802.7h0M961.9 805.1h0M962.4 803.4h0M970.5 746.7h0M969.1 748.9h0M826.5 784.5h0M972.6 724.1h0M965.5 769.9h0M968.0 767.2h0M923.1 841.0h0M962.5 805.5h0M965.0 810.8h0M853.6 838.2h0M870.0 710.6h0M964.8 770.4h0M964.5 773.8h0M970.1 812.3h0M856.6 846.1h0M841.6 836.9h0M845.0 836.5h0M950.9 781.9h0M843.9 848.1h0M965.5 845.2h0M833.1 720.9h0M876.4 835.0h0M934.5 718.7h0M841.0 795.4h0M839.0 731.5h0M971.5 708.4h0M856.6 711.2h0M860.0 713.6h0" stroke="#2396f0" stroke-width="2.0" stroke-linecap="round"/><path d="M856.1 840.3h0M860.0 841.5h0M855.7 843.2h0M960.5 803.2h0M964.7 806.5h0M833.9 838.9h0M909.8 713.9h0M970.6 726.9h0M971.5 730.7h0M928.5 838.4h0M928.1 835.3h0M929.6 838.2h0M966.7 765.0h0M963.4 808.5h0M962.9 776.6h0M968.0 772.0h0M963.0 780.5h0M966.1 778.8h0M846.3 846.7h0M879.6 846.4h0M961.2 715.6h0M842.3 796.5h0M842.8 799.3h0M838.6 708.6h0M855.3 841.1h0M853.3 846.6h0M854.8 842.0h0M921.4 711.4h0M926.9 712.0h0M841.5 837.6h0M841.8 719.5h0M848.3 848.9h0M883.2 713.7h0M884.2 717.1h0M955.6 839.8h0M913.5 715.2h0M874.0 838.8h0M875.7 711.8h0M845.0 726.7h0M914.4 849.3h0M913.7 847.7h0M968.0 709.9h0M856.9 711.1h0" stroke="#2396f0" stroke-width="2.6" stroke-linecap="round"/><path d="M860.8 840.2h0M975.3 753.6h0M833.4 792.0h0M973.6 845.3h0M971.1 842.9h0M929.3 840.0h0M910.0 711.7h0M935.3 840.2h0M965.8 811.1h0M949.3 729.0h0M962.7 778.8h0M832.9 790.4h0M863.7 711.2h0M967.4 771.8h0M877.4 846.5h0M879.3 847.1h0M845.8 799.0h0M849.4 848.0h0M923.4 713.3h0M888.7 715.8h0M878.8 719.3h0M922.0 713.2h0M883.0 842.2h0M833.6 717.3h0M882.1 837.0h0M959.5 716.7h0M841.3 793.5h0M838.0 729.4h0M915.0 847.3h0M855.1 710.6h0M855.6 711.6h0M854.1 713.4h0" stroke="#2396f0" stroke-width="3.2" stroke-linecap="round"/><path d="M830.6 787.0h0M832.4 788.0h0M971.7 846.3h0M928.6 835.9h0M883.3 844.7h0M851.2 847.0h0M863.7 712.1h0M867.8 712.7h0M863.0 707.9h0M841.9 799.9h0M841.1 833.0h0M964.7 712.5h0M967.3 712.7h0M888.4 714.0h0M828.5 719.6h0M883.7 839.2h0" stroke="#32b9f0" stroke-width="2.0" stroke-linecap="round"/><path d="M834.5 842.8h0M834.9 788.0h0M831.4 791.3h0M835.6 791.1h0M970.2 766.6h0M969.4 802.0h0M965.8 809.6h0M965.6 810.0h0M836.0 791.4h0M973.9 845.5h0M971.6 841.4h0M971.9 842.5h0M865.9 709.9h0M971.7 776.2h0M962.8 713.6h0M894.4 710.6h0M880.6 840.9h0" stroke="#32b9f0" stroke-width="2.6" stroke-linecap="round"/><path d="M832.6 708.4h0M832.8 792.2h0M969.9 808.7h0M939.5 848.6h0M976.1 842.0h0M966.8 844.0h0M849.8 845.0h0M838.9 799.9h0M839.4 800.6h0M842.5 800.9h0M969.0 846.6h0M960.9 710.0h0M875.8 837.1h0M835.1 727.2h0M854.6 713.9h0" stroke="#32b9f0" stroke-width="3.2" stroke-linecap="round"/><path d="M835.1 841.9h0M969.7 799.6h0M940.6 847.8h0M938.4 844.2h0M970.9 845.5h0M968.2 847.6h0M880.9 836.5h0" stroke="#3cc8aa" stroke-width="2.0" stroke-linecap="round"/><path d="M832.7 842.7h0M832.9 841.4h0M836.4 704.8h0M832.6 709.5h0M970.2 803.3h0M970.5 802.2h0M969.1 805.7h0M933.9 843.9h0M972.8 843.8h0M890.2 712.4h0M891.9 714.2h0" stroke="#3cc8aa" stroke-width="2.6" stroke-linecap="round"/><path d="M838.4 843.2h0M832.3 841.1h0M831.8 710.5h0M969.4 807.4h0M970.5 799.9h0M876.3 841.7h0M875.9 844.1h0M943.3 850.8h0M934.4 842.8h0M936.9 845.1h0M972.8 845.1h0M889.9 711.6h0M879.4 839.7h0M935.2 724.4h0M936.7 720.4h0" stroke="#3cc8aa" stroke-width="3.2" stroke-linecap="round"/><path d="M973.0 802.3h0" stroke="#96dc3c" stroke-width="2.0" stroke-linecap="round"/><path d="M836.2 707.0h0M836.0 709.3h0M968.1 803.2h0M937.4 845.2h0" stroke="#96dc3c" stroke-width="3.2" stroke-linecap="round"/></g>
<g filter="url(#blur05)" transform="translate(837.0,726.5) rotate(90)">
<ellipse cx="0.0" cy="0.0" rx="8.8" ry="5.2" fill="#1fbf60"/>
<ellipse cx="1.1" cy="0.9" rx="8.8" ry="5.2" fill="#1fbf60"/>
<ellipse cx="0.7" cy="-0.6" rx="8.8" ry="5.2" fill="#1fbf60"/>
<ellipse cx="0.0" cy="0.0" rx="6.9" ry="4.1" fill="#e2da1a"/>
<ellipse cx="1.1" cy="0.9" rx="6.9" ry="4.1" fill="#e2da1a"/>
<ellipse cx="0.7" cy="-0.6" rx="6.9" ry="4.1" fill="#e2da1a"/>
<ellipse cx="0.0" cy="0.0" rx="5.3" ry="3.1" fill="#f08010"/>
<ellipse cx="1.1" cy="0.9" rx="5.3" ry="3.1" fill="#f08010"/>
<ellipse cx="0.7" cy="-0.6" rx="5.3" ry="3.1" fill="#f08010"/>
<ellipse cx="0.0" cy="0.0" rx="3.7" ry="2.2" fill="#80010e"/>
<ellipse cx="1.1" cy="0.9" rx="3.7" ry="2.2" fill="#80010e"/>
<ellipse cx="0.7" cy="-0.6" rx="3.7" ry="2.2" fill="#80010e"/>
</g>
<g filter="url(#blur05)" transform="translate(946.0,739.5) rotate(0)">
<ellipse cx="0.0" cy="0.0" rx="4.0" ry="4.0" fill="#34164e"/>
<ellipse cx="0.7" cy="-0.1" rx="4.0" ry="4.0" fill="#34164e"/>
<ellipse cx="0.1" cy="0.6" rx="4.0" ry="4.0" fill="#34164e"/>
<ellipse cx="0.0" cy="0.0" rx="3.1" ry="3.1" fill="#392577"/>
<ellipse cx="0.7" cy="-0.1" rx="3.1" ry="3.1" fill="#392577"/>
<ellipse cx="0.1" cy="0.6" rx="3.1" ry="3.1" fill="#392577"/>
<ellipse cx="0.0" cy="0.0" rx="2.4" ry="2.4" fill="#1c80e0"/>
<ellipse cx="0.7" cy="-0.1" rx="2.4" ry="2.4" fill="#1c80e0"/>
<ellipse cx="0.1" cy="0.6" rx="2.4" ry="2.4" fill="#1c80e0"/>
<ellipse cx="0.0" cy="0.0" rx="1.7" ry="1.7" fill="#46c653"/>
<ellipse cx="0.7" cy="-0.1" rx="1.7" ry="1.7" fill="#46c653"/>
<ellipse cx="0.1" cy="0.6" rx="1.7" ry="1.7" fill="#46c653"/>
</g>
<g filter="url(#blur05)" transform="translate(964.0,843.5) rotate(0)">
<ellipse cx="0.0" cy="0.0" rx="4.0" ry="4.0" fill="#34164e"/>
<ellipse cx="-0.0" cy="0.7" rx="4.0" ry="4.0" fill="#34164e"/>
<ellipse cx="-0.4" cy="-0.2" rx="4.0" ry="4.0" fill="#34164e"/>
<ellipse cx="0.0" cy="0.0" rx="3.1" ry="3.1" fill="#2b59c1"/>
<ellipse cx="-0.0" cy="0.7" rx="3.1" ry="3.1" fill="#2b59c1"/>
<ellipse cx="-0.4" cy="-0.2" rx="3.1" ry="3.1" fill="#2b59c1"/>
<ellipse cx="0.0" cy="0.0" rx="2.4" ry="2.4" fill="#10a2be"/>
<ellipse cx="-0.0" cy="0.7" rx="2.4" ry="2.4" fill="#10a2be"/>
<ellipse cx="-0.4" cy="-0.2" rx="2.4" ry="2.4" fill="#10a2be"/>
<ellipse cx="0.0" cy="0.0" rx="1.7" ry="1.7" fill="#cede1e"/>
<ellipse cx="-0.0" cy="0.7" rx="1.7" ry="1.7" fill="#cede1e"/>
<ellipse cx="-0.4" cy="-0.2" rx="1.7" ry="1.7" fill="#cede1e"/>
</g>
<g filter="url(#blur05)" transform="translate(848.0,835.5) rotate(0)">
<ellipse cx="0.0" cy="0.0" rx="2.7" ry="2.7" fill="#34164e"/>
<ellipse cx="-0.3" cy="0.0" rx="2.7" ry="2.7" fill="#34164e"/>
<ellipse cx="-0.4" cy="-0.1" rx="2.7" ry="2.7" fill="#34164e"/>
<ellipse cx="0.0" cy="0.0" rx="2.2" ry="2.2" fill="#2b59c1"/>
<ellipse cx="-0.3" cy="0.0" rx="2.2" ry="2.2" fill="#2b59c1"/>
<ellipse cx="-0.4" cy="-0.1" rx="2.2" ry="2.2" fill="#2b59c1"/>
<ellipse cx="0.0" cy="0.0" rx="1.7" ry="1.7" fill="#10a2be"/>
<ellipse cx="-0.3" cy="0.0" rx="1.7" ry="1.7" fill="#10a2be"/>
<ellipse cx="-0.4" cy="-0.1" rx="1.7" ry="1.7" fill="#10a2be"/>
<ellipse cx="0.0" cy="0.0" rx="1.2" ry="1.2" fill="#cede1e"/>
<ellipse cx="-0.3" cy="0.0" rx="1.2" ry="1.2" fill="#cede1e"/>
<ellipse cx="-0.4" cy="-0.1" rx="1.2" ry="1.2" fill="#cede1e"/>
</g>
</g>
<rect x="927.5" y="727.5" width="28.5" height="28.5" fill="none" stroke="#fff" stroke-width="2.2" stroke-dasharray="5 3.2" opacity="0.95"/>
<rect x="848" y="800.5" width="28.5" height="28.5" fill="none" stroke="#fff" stroke-width="2.2" stroke-dasharray="5 3.2" opacity="0.95"/>
</g>
<defs><linearGradient id="cbar" x1="0" y1="1" x2="0" y2="0"><stop offset="0.00" stop-color="#34164e"/><stop offset="0.06" stop-color="#3a2880"/><stop offset="0.13" stop-color="#3050b8"/><stop offset="0.20" stop-color="#2070d8"/><stop offset="0.26" stop-color="#1890e8"/><stop offset="0.32" stop-color="#10a0c8"/><stop offset="0.38" stop-color="#10b090"/><stop offset="0.43" stop-color="#20c060"/><stop offset="0.48" stop-color="#80d040"/><stop offset="0.54" stop-color="#c8e020"/><stop offset="0.60" stop-color="#f0d818"/><stop offset="0.66" stop-color="#f8c018"/><stop offset="0.76" stop-color="#f08010"/><stop offset="0.82" stop-color="#e84010"/><stop offset="0.90" stop-color="#c80808"/><stop offset="1.00" stop-color="#6e0010"/></linearGradient></defs>
<rect x="1002.20" y="208.30" width="17.80" height="231.10" fill="url(#cbar)" stroke="none" stroke-width="1" />
<text x="999.8" y="217.8" font-size="15" font-weight="bold" fill="#111" text-anchor="end" >20</text>
<text x="999.8" y="327.9" font-size="15" font-weight="bold" fill="#111" text-anchor="end" >10</text>
<text x="999.8" y="437.4" font-size="15" font-weight="bold" fill="#111" text-anchor="end" >0</text>
<text x="322.3" y="672.2" font-size="18.6" font-weight="bold" fill="#111" text-anchor="middle"  textLength="214" lengthAdjust="spacingAndGlyphs">Percentage (Post-1 day)</text>
<text x="144.2" y="695.6" font-size="15.6" font-weight="bold" fill="#111" text-anchor="middle"  textLength="93.2" lengthAdjust="spacingAndGlyphs">Naïve-Adult</text>
<text x="246.1" y="695.6" font-size="15.6" font-weight="bold" fill="#111" text-anchor="middle"  textLength="91.6" lengthAdjust="spacingAndGlyphs">Naïve-Aged</text>
<text x="359.8" y="695.6" font-size="15.6" font-weight="bold" fill="#111" text-anchor="middle"  textLength="122" lengthAdjust="spacingAndGlyphs">Saline+Surgery</text>
<text x="486.2" y="695.6" font-size="15.6" font-weight="bold" fill="#111" text-anchor="middle"  textLength="110.8" lengthAdjust="spacingAndGlyphs">Irisin+Surgery</text>
<circle cx="463.1" cy="767" r="62.6" fill="#a19fa3" stroke="#fff" stroke-width="2"/>
<path d="M463.1,767 L463.1,704.4 A62.6,62.6 0 0 1 525.70,767.00 Z" fill="#f6847e" stroke="#fff" stroke-width="1.3" stroke-linejoin="round"/>
<circle cx="463.1" cy="767" r="62.6" fill="none" stroke="#fff" stroke-width="2"/>
<text x="487.1" y="741.9" font-size="13" font-weight="bold" fill="#2a1010" text-anchor="middle"  textLength="26.5" lengthAdjust="spacingAndGlyphs">25%</text>
<circle cx="357.2" cy="766.3" r="62.6" fill="#a19fa3" stroke="#fff" stroke-width="2"/>
<path d="M357.2,766.3 L357.2,703.6999999999999 A62.6,62.6 0 1 1 312.94,810.56 Z" fill="#f6847e" stroke="#fff" stroke-width="1.3" stroke-linejoin="round"/>
<circle cx="357.2" cy="766.3" r="62.6" fill="none" stroke="#fff" stroke-width="2"/>
<text x="385.6" y="743.0" font-size="13" font-weight="bold" fill="#2a1010" text-anchor="middle"  textLength="37.5" lengthAdjust="spacingAndGlyphs">62.5%</text>
<circle cx="252.6" cy="766" r="62.6" fill="#a19fa3" stroke="#fff" stroke-width="2"/>
<path d="M252.6,766 L252.6,703.4 A62.6,62.6 0 0 1 315.20,766.00 Z" fill="#f6847e" stroke="#fff" stroke-width="1.3" stroke-linejoin="round"/>
<circle cx="252.6" cy="766" r="62.6" fill="none" stroke="#fff" stroke-width="2"/>
<text x="279.3" y="738.0" font-size="13" font-weight="bold" fill="#2a1010" text-anchor="middle"  textLength="26.5" lengthAdjust="spacingAndGlyphs">25%</text>
<circle cx="148.9" cy="765.5" r="62.6" fill="#a19fa3" stroke="#fff" stroke-width="2"/>
<path d="M148.9,765.5 L148.9,702.9 A62.6,62.6 0 0 1 193.16,721.24 Z" fill="#f6847e" stroke="#fff" stroke-width="1.3" stroke-linejoin="round"/>
<circle cx="148.9" cy="765.5" r="62.6" fill="none" stroke="#fff" stroke-width="2"/>
<text x="167.4" y="732.5" font-size="13" font-weight="bold" fill="#2a1010" text-anchor="middle"  textLength="37.2" lengthAdjust="spacingAndGlyphs">12.5%</text>
<rect x="111.90" y="840.20" width="13.30" height="5.10" fill="#9e9ca0" stroke="none" stroke-width="1" />
<text x="136.8" y="846.8" font-size="12.5" font-weight="bold" fill="#1a1a1a" text-anchor="start"  textLength="167" lengthAdjust="spacingAndGlyphs">Non-cognitive dysfunction</text>
<rect x="317.70" y="840.20" width="13.30" height="5.10" fill="#f6847e" stroke="none" stroke-width="1" />
<text x="342.0" y="846.8" font-size="12.5" font-weight="bold" fill="#1a1a1a" text-anchor="start"  textLength="140" lengthAdjust="spacingAndGlyphs">Cognitive dysfunction</text>
<line x1="130.00" y1="897.40" x2="130.00" y2="1050.50" stroke="#111" stroke-width="2.4" />
<line x1="124.50" y1="1049.30" x2="130.00" y2="1049.30" stroke="#111" stroke-width="2.2" />
<text x="121.8" y="1054.9" font-size="15.6" font-weight="bold" fill="#111" text-anchor="end" >0</text>
<line x1="124.50" y1="1011.40" x2="130.00" y2="1011.40" stroke="#111" stroke-width="2.2" />
<text x="121.8" y="1017.0" font-size="15.6" font-weight="bold" fill="#111" text-anchor="end" >100</text>
<line x1="124.50" y1="973.90" x2="130.00" y2="973.90" stroke="#111" stroke-width="2.2" />
<text x="121.8" y="979.5" font-size="15.6" font-weight="bold" fill="#111" text-anchor="end" >200</text>
<line x1="124.50" y1="936.10" x2="130.00" y2="936.10" stroke="#111" stroke-width="2.2" />
<text x="121.8" y="941.7" font-size="15.6" font-weight="bold" fill="#111" text-anchor="end" >300</text>
<line x1="124.50" y1="898.60" x2="130.00" y2="898.60" stroke="#111" stroke-width="2.2" />
<text x="121.8" y="904.2" font-size="15.6" font-weight="bold" fill="#111" text-anchor="end" >400</text>
<rect x="146.40" y="983.80" width="40.70" height="65.50" fill="#f9a5a0" stroke="none" stroke-width="1" />
<circle cx="166.50" cy="936.20" r="2.8" fill="#de4a45" stroke="none" stroke-width="1"/>
<circle cx="166.50" cy="947.70" r="2.8" fill="#de4a45" stroke="none" stroke-width="1"/>
<circle cx="160.50" cy="981.70" r="2.8" fill="#de4a45" stroke="none" stroke-width="1"/>
<circle cx="172.40" cy="981.70" r="2.8" fill="#de4a45" stroke="none" stroke-width="1"/>
<circle cx="149.50" cy="1004.40" r="2.8" fill="#de4a45" stroke="none" stroke-width="1"/>
<circle cx="160.50" cy="1004.40" r="2.8" fill="#de4a45" stroke="none" stroke-width="1"/>
<circle cx="172.10" cy="1004.40" r="2.8" fill="#de4a45" stroke="none" stroke-width="1"/>
<circle cx="184.00" cy="1004.40" r="2.8" fill="#de4a45" stroke="none" stroke-width="1"/>
<line x1="166.75" y1="973.30" x2="166.75" y2="992.80" stroke="#d94a44" stroke-width="2.2" />
<line x1="156.95" y1="973.30" x2="176.55" y2="973.30" stroke="#d94a44" stroke-width="2.2" />
<line x1="156.95" y1="992.80" x2="176.55" y2="992.80" stroke="#d94a44" stroke-width="2.2" />
<line x1="166.75" y1="1049.30" x2="166.75" y2="1055.10" stroke="#111" stroke-width="2.2" />
<rect x="220.00" y="1019.10" width="41.10" height="30.20" fill="#1a72a6" stroke="none" stroke-width="1" />
<circle cx="240.80" cy="981.60" r="2.8" fill="#125a88" stroke="none" stroke-width="1"/>
<circle cx="240.80" cy="989.40" r="2.8" fill="#125a88" stroke="none" stroke-width="1"/>
<circle cx="240.80" cy="1004.40" r="2.8" fill="#125a88" stroke="none" stroke-width="1"/>
<circle cx="234.00" cy="1026.90" r="2.8" fill="#125a88" stroke="none" stroke-width="1"/>
<circle cx="246.70" cy="1026.90" r="2.8" fill="#125a88" stroke="none" stroke-width="1"/>
<circle cx="229.20" cy="1041.80" r="2.8" fill="#125a88" stroke="none" stroke-width="1"/>
<circle cx="240.80" cy="1038.00" r="2.8" fill="#125a88" stroke="none" stroke-width="1"/>
<circle cx="253.00" cy="1041.80" r="2.8" fill="#125a88" stroke="none" stroke-width="1"/>
<line x1="240.55" y1="1010.70" x2="240.55" y2="1027.50" stroke="#0f5a87" stroke-width="2.2" />
<line x1="230.75" y1="1010.70" x2="250.35" y2="1010.70" stroke="#0f5a87" stroke-width="2.2" />
<line x1="230.75" y1="1027.50" x2="250.35" y2="1027.50" stroke="#0f5a87" stroke-width="2.2" />
<line x1="240.55" y1="1049.30" x2="240.55" y2="1055.10" stroke="#111" stroke-width="2.2" />
<line x1="130.00" y1="1049.30" x2="278.20" y2="1049.30" stroke="#111" stroke-width="2.4" />
<path d="M167.1,897.9 L167.1,889.5 L241.8,889.5 L241.8,968" fill="none" stroke="#111" stroke-width="2"/>
<text x="203.6" y="890.7" font-size="22" font-weight="bold" fill="#111" text-anchor="middle">*</text>
<text transform="translate(90.5,973.6) rotate(-90)" font-size="16" font-weight="bold" fill="#111" text-anchor="middle" textLength="224" lengthAdjust="spacingAndGlyphs">Anesthesia induction time (s)</text>
<text transform="translate(171.8,1070.3) rotate(-45)" font-size="15.8" font-weight="bold" fill="#111" text-anchor="end" textLength="115" lengthAdjust="spacingAndGlyphs">Saline+Surgery</text>
<text transform="translate(245.8,1069.6) rotate(-45)" font-size="15.8" font-weight="bold" fill="#111" text-anchor="end" textLength="106.5" lengthAdjust="spacingAndGlyphs">Irisin+Surgery</text>
<line x1="449.60" y1="901.30" x2="449.60" y2="1050.80" stroke="#111" stroke-width="2.4" />
<line x1="444.10" y1="1049.60" x2="449.60" y2="1049.60" stroke="#111" stroke-width="2.2" />
<text x="442.1" y="1055.2" font-size="15.6" font-weight="bold" fill="#111" text-anchor="end" >0</text>
<line x1="444.10" y1="1020.20" x2="449.60" y2="1020.20" stroke="#111" stroke-width="2.2" />
<text x="442.1" y="1025.8" font-size="15.6" font-weight="bold" fill="#111" text-anchor="end" >5</text>
<line x1="444.10" y1="990.70" x2="449.60" y2="990.70" stroke="#111" stroke-width="2.2" />
<text x="442.1" y="996.3" font-size="15.6" font-weight="bold" fill="#111" text-anchor="end" >10</text>
<line x1="444.10" y1="961.30" x2="449.60" y2="961.30" stroke="#111" stroke-width="2.2" />
<text x="442.1" y="966.9" font-size="15.6" font-weight="bold" fill="#111" text-anchor="end" >15</text>
<line x1="444.10" y1="931.90" x2="449.60" y2="931.90" stroke="#111" stroke-width="2.2" />
<text x="442.1" y="937.5" font-size="15.6" font-weight="bold" fill="#111" text-anchor="end" >20</text>
<line x1="444.10" y1="902.50" x2="449.60" y2="902.50" stroke="#111" stroke-width="2.2" />
<text x="442.1" y="908.1" font-size="15.6" font-weight="bold" fill="#111" text-anchor="end" >25</text>
<rect x="466.50" y="1003.00" width="40.00" height="46.60" fill="#f9a5a0" stroke="none" stroke-width="1" />
<circle cx="486.00" cy="926.00" r="2.8" fill="#de4a45" stroke="none" stroke-width="1"/>
<circle cx="486.00" cy="973.60" r="2.8" fill="#de4a45" stroke="none" stroke-width="1"/>
<circle cx="486.00" cy="1002.00" r="2.8" fill="#de4a45" stroke="none" stroke-width="1"/>
<circle cx="486.00" cy="1010.00" r="2.8" fill="#de4a45" stroke="none" stroke-width="1"/>
<circle cx="486.00" cy="1020.00" r="2.8" fill="#de4a45" stroke="none" stroke-width="1"/>
<circle cx="486.00" cy="1032.00" r="2.8" fill="#de4a45" stroke="none" stroke-width="1"/>
<circle cx="486.00" cy="1039.00" r="2.8" fill="#de4a45" stroke="none" stroke-width="1"/>
<circle cx="486.00" cy="1043.00" r="2.8" fill="#de4a45" stroke="none" stroke-width="1"/>
<line x1="486.50" y1="989.50" x2="486.50" y2="1015.60" stroke="#d94a44" stroke-width="2.2" />
<line x1="476.70" y1="989.50" x2="496.30" y2="989.50" stroke="#d94a44" stroke-width="2.2" />
<line x1="476.70" y1="1015.60" x2="496.30" y2="1015.60" stroke="#d94a44" stroke-width="2.2" />
<line x1="486.50" y1="1049.60" x2="486.50" y2="1055.40" stroke="#111" stroke-width="2.2" />
<rect x="539.40" y="1028.30" width="40.60" height="21.30" fill="#1a72a6" stroke="none" stroke-width="1" />
<circle cx="554.00" cy="1020.50" r="2.8" fill="#125a88" stroke="none" stroke-width="1"/>
<circle cx="565.50" cy="1018.00" r="2.8" fill="#125a88" stroke="none" stroke-width="1"/>
<circle cx="548.00" cy="1028.00" r="2.8" fill="#125a88" stroke="none" stroke-width="1"/>
<circle cx="559.70" cy="1027.00" r="2.8" fill="#125a88" stroke="none" stroke-width="1"/>
<circle cx="571.00" cy="1027.00" r="2.8" fill="#125a88" stroke="none" stroke-width="1"/>
<circle cx="559.70" cy="1043.00" r="2.8" fill="#125a88" stroke="none" stroke-width="1"/>
<line x1="559.70" y1="1024.50" x2="559.70" y2="1032.00" stroke="#0f5a87" stroke-width="2.2" />
<line x1="549.90" y1="1024.50" x2="569.50" y2="1024.50" stroke="#0f5a87" stroke-width="2.2" />
<line x1="549.90" y1="1032.00" x2="569.50" y2="1032.00" stroke="#0f5a87" stroke-width="2.2" />
<line x1="559.70" y1="1049.60" x2="559.70" y2="1055.40" stroke="#111" stroke-width="2.2" />
<line x1="449.60" y1="1049.60" x2="596.30" y2="1049.60" stroke="#111" stroke-width="2.4" />
<path d="M488.1,914.8 L488.1,905.9 L557,905.9 L557,1006.7" fill="none" stroke="#111" stroke-width="2"/>
<text x="522.2" y="896" font-size="15.5" font-weight="bold" fill="#111" text-anchor="middle" textLength="67" lengthAdjust="spacingAndGlyphs"><tspan font-style="italic">p</tspan>=0.0869</text>
<text transform="translate(418.3,973.9) rotate(-90)" font-size="15.7" font-weight="bold" fill="#111" text-anchor="middle" textLength="234" lengthAdjust="spacingAndGlyphs">Anesthesia recovery time (min)</text>
<text transform="translate(491.8,1069.6) rotate(-45)" font-size="15.8" font-weight="bold" fill="#111" text-anchor="end" textLength="115" lengthAdjust="spacingAndGlyphs">Saline+Surgery</text>
<text transform="translate(565.6,1069.6) rotate(-45)" font-size="15.8" font-weight="bold" fill="#111" text-anchor="end" textLength="106" lengthAdjust="spacingAndGlyphs">Irisin+Surgery</text>
<line x1="739.60" y1="904.00" x2="739.60" y2="1050.50" stroke="#111" stroke-width="2.4" />
<line x1="734.10" y1="1039.60" x2="739.60" y2="1039.60" stroke="#111" stroke-width="2.2" />
<text x="732.3" y="1045.1" font-size="15.4" font-weight="bold" fill="#111" text-anchor="end" >26</text>
<line x1="734.10" y1="1017.20" x2="739.60" y2="1017.20" stroke="#111" stroke-width="2.2" />
<text x="732.3" y="1022.7" font-size="15.4" font-weight="bold" fill="#111" text-anchor="end" >28</text>
<line x1="734.10" y1="994.80" x2="739.60" y2="994.80" stroke="#111" stroke-width="2.2" />
<text x="732.3" y="1000.3" font-size="15.4" font-weight="bold" fill="#111" text-anchor="end" >30</text>
<line x1="734.10" y1="972.40" x2="739.60" y2="972.40" stroke="#111" stroke-width="2.2" />
<text x="732.3" y="977.9" font-size="15.4" font-weight="bold" fill="#111" text-anchor="end" >32</text>
<line x1="734.10" y1="950.00" x2="739.60" y2="950.00" stroke="#111" stroke-width="2.2" />
<text x="732.3" y="955.5" font-size="15.4" font-weight="bold" fill="#111" text-anchor="end" >34</text>
<line x1="734.10" y1="927.60" x2="739.60" y2="927.60" stroke="#111" stroke-width="2.2" />
<text x="732.3" y="933.1" font-size="15.4" font-weight="bold" fill="#111" text-anchor="end" >36</text>
<line x1="734.10" y1="905.20" x2="739.60" y2="905.20" stroke="#111" stroke-width="2.2" />
<text x="732.3" y="910.7" font-size="15.4" font-weight="bold" fill="#111" text-anchor="end" >38</text>
<line x1="739.60" y1="1049.30" x2="955.00" y2="1049.30" stroke="#111" stroke-width="2.4" />
<line x1="761.10" y1="1049.30" x2="761.10" y2="1055.10" stroke="#111" stroke-width="2.2" />
<text x="761.1" y="1071.5" font-size="15.4" font-weight="bold" fill="#111" text-anchor="middle"  textLength="8.1" lengthAdjust="spacingAndGlyphs">0</text>
<line x1="804.80" y1="1049.30" x2="804.80" y2="1055.10" stroke="#111" stroke-width="2.2" />
<text x="804.8" y="1071.5" font-size="15.4" font-weight="bold" fill="#111" text-anchor="middle"  textLength="16.2" lengthAdjust="spacingAndGlyphs">30</text>
<line x1="848.20" y1="1049.30" x2="848.20" y2="1055.10" stroke="#111" stroke-width="2.2" />
<text x="848.2" y="1071.5" font-size="15.4" font-weight="bold" fill="#111" text-anchor="middle"  textLength="16.2" lengthAdjust="spacingAndGlyphs">60</text>
<line x1="891.60" y1="1049.30" x2="891.60" y2="1055.10" stroke="#111" stroke-width="2.2" />
<text x="891.6" y="1071.5" font-size="15.4" font-weight="bold" fill="#111" text-anchor="middle"  textLength="16.2" lengthAdjust="spacingAndGlyphs">90</text>
<line x1="934.70" y1="1049.30" x2="934.70" y2="1055.10" stroke="#111" stroke-width="2.2" />
<text x="934.7" y="1071.5" font-size="15.4" font-weight="bold" fill="#111" text-anchor="middle"  textLength="24.299999999999997" lengthAdjust="spacingAndGlyphs">120</text>
<line x1="764.00" y1="1080.00" x2="938.60" y2="1080.00" stroke="#111" stroke-width="3.2" />
<text x="855.5" y="1097.5" font-size="15.5" font-weight="bold" fill="#111" text-anchor="middle"  textLength="137" lengthAdjust="spacingAndGlyphs">Time surgery (min)</text>
<line x1="761.10" y1="942.50" x2="761.10" y2="947.50" stroke="#ee9b9b" stroke-width="2" />
<line x1="757.10" y1="942.50" x2="765.10" y2="942.50" stroke="#ee9b9b" stroke-width="2" />
<line x1="757.10" y1="947.50" x2="765.10" y2="947.50" stroke="#ee9b9b" stroke-width="2" />
<line x1="804.80" y1="971.70" x2="804.80" y2="981.70" stroke="#ee9b9b" stroke-width="2" />
<line x1="800.80" y1="971.70" x2="808.80" y2="971.70" stroke="#ee9b9b" stroke-width="2" />
<line x1="800.80" y1="981.70" x2="808.80" y2="981.70" stroke="#ee9b9b" stroke-width="2" />
<line x1="848.20" y1="988.20" x2="848.20" y2="995.20" stroke="#ee9b9b" stroke-width="2" />
<line x1="844.20" y1="988.20" x2="852.20" y2="988.20" stroke="#ee9b9b" stroke-width="2" />
<line x1="844.20" y1="995.20" x2="852.20" y2="995.20" stroke="#ee9b9b" stroke-width="2" />
<line x1="891.60" y1="991.00" x2="891.60" y2="999.00" stroke="#ee9b9b" stroke-width="2" />
<line x1="887.60" y1="991.00" x2="895.60" y2="991.00" stroke="#ee9b9b" stroke-width="2" />
<line x1="887.60" y1="999.00" x2="895.60" y2="999.00" stroke="#ee9b9b" stroke-width="2" />
<line x1="934.70" y1="973.80" x2="934.70" y2="994.80" stroke="#ee9b9b" stroke-width="2" />
<line x1="930.70" y1="973.80" x2="938.70" y2="973.80" stroke="#ee9b9b" stroke-width="2" />
<line x1="930.70" y1="994.80" x2="938.70" y2="994.80" stroke="#ee9b9b" stroke-width="2" />
<polyline points="761.1,945.0 804.8,976.7 848.2,991.7 891.6,995.0 934.7,984.3" fill="none" stroke="#ef9a9a" stroke-width="2.3" stroke-dasharray="6 4"/>
<circle cx="761.10" cy="945.00" r="3.5" fill="#ef9a9a" stroke="none" stroke-width="1"/>
<circle cx="804.80" cy="976.70" r="3.5" fill="#ef9a9a" stroke="none" stroke-width="1"/>
<circle cx="848.20" cy="991.70" r="3.5" fill="#ef9a9a" stroke="none" stroke-width="1"/>
<circle cx="891.60" cy="995.00" r="3.5" fill="#ef9a9a" stroke="none" stroke-width="1"/>
<circle cx="934.70" cy="984.30" r="3.5" fill="#ef9a9a" stroke="none" stroke-width="1"/>
<line x1="761.10" y1="929.20" x2="761.10" y2="932.20" stroke="#1a7aa8" stroke-width="2.2" />
<line x1="756.60" y1="929.20" x2="765.60" y2="929.20" stroke="#1a7aa8" stroke-width="2.2" />
<line x1="756.60" y1="932.20" x2="765.60" y2="932.20" stroke="#1a7aa8" stroke-width="2.2" />
<line x1="804.80" y1="958.00" x2="804.80" y2="964.00" stroke="#1a7aa8" stroke-width="2.2" />
<line x1="800.30" y1="958.00" x2="809.30" y2="958.00" stroke="#1a7aa8" stroke-width="2.2" />
<line x1="800.30" y1="964.00" x2="809.30" y2="964.00" stroke="#1a7aa8" stroke-width="2.2" />
<line x1="848.20" y1="980.80" x2="848.20" y2="983.80" stroke="#1a7aa8" stroke-width="2.2" />
<line x1="843.70" y1="980.80" x2="852.70" y2="980.80" stroke="#1a7aa8" stroke-width="2.2" />
<line x1="843.70" y1="983.80" x2="852.70" y2="983.80" stroke="#1a7aa8" stroke-width="2.2" />
<line x1="891.60" y1="981.80" x2="891.60" y2="984.80" stroke="#1a7aa8" stroke-width="2.2" />
<line x1="887.10" y1="981.80" x2="896.10" y2="981.80" stroke="#1a7aa8" stroke-width="2.2" />
<line x1="887.10" y1="984.80" x2="896.10" y2="984.80" stroke="#1a7aa8" stroke-width="2.2" />
<line x1="934.70" y1="982.80" x2="934.70" y2="985.80" stroke="#1a7aa8" stroke-width="2.2" />
<line x1="930.20" y1="982.80" x2="939.20" y2="982.80" stroke="#1a7aa8" stroke-width="2.2" />
<line x1="930.20" y1="985.80" x2="939.20" y2="985.80" stroke="#1a7aa8" stroke-width="2.2" />
<polyline points="761.1,930.7 804.8,961.0 848.2,982.3 891.6,983.3 934.7,984.3" fill="none" stroke="#1a7aa8" stroke-width="2.0"/>
<circle cx="761.10" cy="930.70" r="3.9" fill="#1a7aa8" stroke="none" stroke-width="1"/>
<circle cx="804.80" cy="961.00" r="3.9" fill="#1a7aa8" stroke="none" stroke-width="1"/>
<circle cx="848.20" cy="982.30" r="3.9" fill="#1a7aa8" stroke="none" stroke-width="1"/>
<circle cx="891.60" cy="983.30" r="3.9" fill="#1a7aa8" stroke="none" stroke-width="1"/>
<circle cx="934.70" cy="984.30" r="3.9" fill="#1a7aa8" stroke="none" stroke-width="1"/>
<text transform="translate(703.2,976.5) rotate(-90)" font-size="15.5" font-weight="bold" fill="#111" text-anchor="middle" textLength="161" lengthAdjust="spacingAndGlyphs">Body temperature (°C)</text>
<path d="M940.9,974.6 L947.9,974.6 L947.9,994.6 L940.9,994.6" fill="none" stroke="#444" stroke-width="1.5"/>
<text x="949.5" y="995.5" font-size="22" font-weight="normal" fill="#111" text-anchor="start" >**</text>
<line x1="703" y1="885.6" x2="724" y2="885.6" stroke="#ef9a9a" stroke-width="2.3" stroke-dasharray="4 4"/>
<circle cx="713.60" cy="885.60" r="3.3" fill="#ef9a9a" stroke="none" stroke-width="1"/>
<text x="735.0" y="891.9" font-size="15.4" font-weight="bold" fill="#111" text-anchor="start"  textLength="112" lengthAdjust="spacingAndGlyphs">Saline+Surgery</text>
<line x1="850.70" y1="885.60" x2="869.80" y2="885.60" stroke="#1a7aa8" stroke-width="2.4" />
<circle cx="860.30" cy="885.60" r="4.3" fill="#1a7aa8" stroke="none" stroke-width="1"/>
<text x="881.2" y="891.9" font-size="15.4" font-weight="bold" fill="#111" text-anchor="start"  textLength="104" lengthAdjust="spacingAndGlyphs">Irisin+Surgery</text>
<line x1="81.40" y1="1201.70" x2="81.40" y2="1325.40" stroke="#111" stroke-width="2.4" />
<line x1="75.90" y1="1306.80" x2="81.40" y2="1306.80" stroke="#111" stroke-width="2.2" />
<text x="73.5" y="1312.6" font-size="16.2" font-weight="bold" fill="#111" text-anchor="end"  textLength="29.400000000000002" lengthAdjust="spacingAndGlyphs">100</text>
<line x1="75.90" y1="1272.50" x2="81.40" y2="1272.50" stroke="#111" stroke-width="2.2" />
<text x="73.5" y="1278.3" font-size="16.2" font-weight="bold" fill="#111" text-anchor="end"  textLength="29.400000000000002" lengthAdjust="spacingAndGlyphs">200</text>
<line x1="75.90" y1="1238.10" x2="81.40" y2="1238.10" stroke="#111" stroke-width="2.2" />
<text x="73.5" y="1243.9" font-size="16.2" font-weight="bold" fill="#111" text-anchor="end"  textLength="29.400000000000002" lengthAdjust="spacingAndGlyphs">300</text>
<line x1="75.90" y1="1202.90" x2="81.40" y2="1202.90" stroke="#111" stroke-width="2.2" />
<text x="73.5" y="1208.7" font-size="16.2" font-weight="bold" fill="#111" text-anchor="end"  textLength="29.400000000000002" lengthAdjust="spacingAndGlyphs">400</text>
<line x1="81.40" y1="1324.20" x2="264.50" y2="1324.20" stroke="#111" stroke-width="2.4" />
<line x1="99.60" y1="1324.20" x2="99.60" y2="1330.00" stroke="#111" stroke-width="2.2" />
<text x="99.6" y="1348.3" font-size="16.2" font-weight="bold" fill="#111" text-anchor="middle"  textLength="9.2" lengthAdjust="spacingAndGlyphs">0</text>
<line x1="136.00" y1="1324.20" x2="136.00" y2="1330.00" stroke="#111" stroke-width="2.2" />
<text x="136.0" y="1348.3" font-size="16.2" font-weight="bold" fill="#111" text-anchor="middle"  textLength="18.4" lengthAdjust="spacingAndGlyphs">30</text>
<line x1="173.20" y1="1324.20" x2="173.20" y2="1330.00" stroke="#111" stroke-width="2.2" />
<text x="173.2" y="1348.3" font-size="16.2" font-weight="bold" fill="#111" text-anchor="middle"  textLength="18.4" lengthAdjust="spacingAndGlyphs">60</text>
<line x1="209.50" y1="1324.20" x2="209.50" y2="1330.00" stroke="#111" stroke-width="2.2" />
<text x="209.5" y="1348.3" font-size="16.2" font-weight="bold" fill="#111" text-anchor="middle"  textLength="18.4" lengthAdjust="spacingAndGlyphs">90</text>
<line x1="246.00" y1="1324.20" x2="246.00" y2="1330.00" stroke="#111" stroke-width="2.2" />
<text x="246.0" y="1348.3" font-size="16.2" font-weight="bold" fill="#111" text-anchor="middle"  textLength="27.599999999999998" lengthAdjust="spacingAndGlyphs">120</text>
<line x1="109.00" y1="1358.50" x2="260.00" y2="1358.50" stroke="#111" stroke-width="3.2" />
<text x="181.0" y="1377.4" font-size="15.8" font-weight="bold" fill="#111" text-anchor="middle"  textLength="152.5" lengthAdjust="spacingAndGlyphs">Time surgery (min)</text>
<line x1="99.60" y1="1250.60" x2="99.60" y2="1264.60" stroke="#ee9b9b" stroke-width="2" />
<line x1="95.60" y1="1250.60" x2="103.60" y2="1250.60" stroke="#ee9b9b" stroke-width="2" />
<line x1="95.60" y1="1264.60" x2="103.60" y2="1264.60" stroke="#ee9b9b" stroke-width="2" />
<line x1="136.00" y1="1275.40" x2="136.00" y2="1285.40" stroke="#ee9b9b" stroke-width="2" />
<line x1="132.00" y1="1275.40" x2="140.00" y2="1275.40" stroke="#ee9b9b" stroke-width="2" />
<line x1="132.00" y1="1285.40" x2="140.00" y2="1285.40" stroke="#ee9b9b" stroke-width="2" />
<line x1="173.20" y1="1291.60" x2="173.20" y2="1297.60" stroke="#ee9b9b" stroke-width="2" />
<line x1="169.20" y1="1291.60" x2="177.20" y2="1291.60" stroke="#ee9b9b" stroke-width="2" />
<line x1="169.20" y1="1297.60" x2="177.20" y2="1297.60" stroke="#ee9b9b" stroke-width="2" />
<line x1="209.50" y1="1279.00" x2="209.50" y2="1291.00" stroke="#ee9b9b" stroke-width="2" />
<line x1="205.50" y1="1279.00" x2="213.50" y2="1279.00" stroke="#ee9b9b" stroke-width="2" />
<line x1="205.50" y1="1291.00" x2="213.50" y2="1291.00" stroke="#ee9b9b" stroke-width="2" />
<line x1="246.00" y1="1257.70" x2="246.00" y2="1265.70" stroke="#ee9b9b" stroke-width="2" />
<line x1="242.00" y1="1257.70" x2="250.00" y2="1257.70" stroke="#ee9b9b" stroke-width="2" />
<line x1="242.00" y1="1265.70" x2="250.00" y2="1265.70" stroke="#ee9b9b" stroke-width="2" />
<polyline points="99.6,1257.6 136.0,1280.4 173.2,1294.6 209.5,1285.0 246.0,1261.7" fill="none" stroke="#ef9a9a" stroke-width="2.3" stroke-dasharray="6 4"/>
<circle cx="99.60" cy="1257.60" r="3.5" fill="#ef9a9a" stroke="none" stroke-width="1"/>
<circle cx="136.00" cy="1280.40" r="3.5" fill="#ef9a9a" stroke="none" stroke-width="1"/>
<circle cx="173.20" cy="1294.60" r="3.5" fill="#ef9a9a" stroke="none" stroke-width="1"/>
<circle cx="209.50" cy="1285.00" r="3.5" fill="#ef9a9a" stroke="none" stroke-width="1"/>
<circle cx="246.00" cy="1261.70" r="3.5" fill="#ef9a9a" stroke="none" stroke-width="1"/>
<line x1="99.60" y1="1271.20" x2="99.60" y2="1279.20" stroke="#1a7aa8" stroke-width="2.2" />
<line x1="95.10" y1="1271.20" x2="104.10" y2="1271.20" stroke="#1a7aa8" stroke-width="2.2" />
<line x1="95.10" y1="1279.20" x2="104.10" y2="1279.20" stroke="#1a7aa8" stroke-width="2.2" />
<line x1="136.00" y1="1267.90" x2="136.00" y2="1278.90" stroke="#1a7aa8" stroke-width="2.2" />
<line x1="131.50" y1="1267.90" x2="140.50" y2="1267.90" stroke="#1a7aa8" stroke-width="2.2" />
<line x1="131.50" y1="1278.90" x2="140.50" y2="1278.90" stroke="#1a7aa8" stroke-width="2.2" />
<line x1="173.20" y1="1282.40" x2="173.20" y2="1291.40" stroke="#1a7aa8" stroke-width="2.2" />
<line x1="168.70" y1="1282.40" x2="177.70" y2="1282.40" stroke="#1a7aa8" stroke-width="2.2" />
<line x1="168.70" y1="1291.40" x2="177.70" y2="1291.40" stroke="#1a7aa8" stroke-width="2.2" />
<line x1="209.50" y1="1282.20" x2="209.50" y2="1294.20" stroke="#1a7aa8" stroke-width="2.2" />
<line x1="205.00" y1="1282.20" x2="214.00" y2="1282.20" stroke="#1a7aa8" stroke-width="2.2" />
<line x1="205.00" y1="1294.20" x2="214.00" y2="1294.20" stroke="#1a7aa8" stroke-width="2.2" />
<line x1="246.00" y1="1287.60" x2="246.00" y2="1301.60" stroke="#1a7aa8" stroke-width="2.2" />
<line x1="241.50" y1="1287.60" x2="250.50" y2="1287.60" stroke="#1a7aa8" stroke-width="2.2" />
<line x1="241.50" y1="1301.60" x2="250.50" y2="1301.60" stroke="#1a7aa8" stroke-width="2.2" />
<polyline points="99.6,1275.2 136.0,1273.4 173.2,1286.9 209.5,1288.2 246.0,1294.6" fill="none" stroke="#1a7aa8" stroke-width="2.4"/>
<circle cx="99.60" cy="1275.20" r="4.4" fill="#1a7aa8" stroke="none" stroke-width="1"/>
<circle cx="136.00" cy="1273.40" r="4.4" fill="#1a7aa8" stroke="none" stroke-width="1"/>
<circle cx="173.20" cy="1286.90" r="4.4" fill="#1a7aa8" stroke="none" stroke-width="1"/>
<circle cx="209.50" cy="1288.20" r="4.4" fill="#1a7aa8" stroke="none" stroke-width="1"/>
<circle cx="246.00" cy="1294.60" r="4.4" fill="#1a7aa8" stroke="none" stroke-width="1"/>
<text transform="translate(32.7,1262) rotate(-90)" font-size="16.6" font-weight="bold" fill="#111" text-anchor="middle" textLength="177" lengthAdjust="spacingAndGlyphs">Pulse Distention (um)</text>
<line x1="341.40" y1="1197.30" x2="341.40" y2="1322.10" stroke="#111" stroke-width="2.4" />
<line x1="335.90" y1="1320.90" x2="341.40" y2="1320.90" stroke="#111" stroke-width="2.2" />
<text x="332.8" y="1326.7" font-size="16.0" font-weight="bold" fill="#111" text-anchor="end"  textLength="28.200000000000003" lengthAdjust="spacingAndGlyphs">300</text>
<line x1="335.90" y1="1290.30" x2="341.40" y2="1290.30" stroke="#111" stroke-width="2.2" />
<text x="332.8" y="1296.1" font-size="16.0" font-weight="bold" fill="#111" text-anchor="end"  textLength="28.200000000000003" lengthAdjust="spacingAndGlyphs">400</text>
<line x1="335.90" y1="1259.70" x2="341.40" y2="1259.70" stroke="#111" stroke-width="2.2" />
<text x="332.8" y="1265.5" font-size="16.0" font-weight="bold" fill="#111" text-anchor="end"  textLength="28.200000000000003" lengthAdjust="spacingAndGlyphs">500</text>
<line x1="335.90" y1="1229.20" x2="341.40" y2="1229.20" stroke="#111" stroke-width="2.2" />
<text x="332.8" y="1235.0" font-size="16.0" font-weight="bold" fill="#111" text-anchor="end"  textLength="28.200000000000003" lengthAdjust="spacingAndGlyphs">600</text>
<line x1="335.90" y1="1198.50" x2="341.40" y2="1198.50" stroke="#111" stroke-width="2.2" />
<text x="332.8" y="1204.3" font-size="16.0" font-weight="bold" fill="#111" text-anchor="end"  textLength="28.200000000000003" lengthAdjust="spacingAndGlyphs">700</text>
<line x1="341.40" y1="1320.90" x2="523.90" y2="1320.90" stroke="#111" stroke-width="2.4" />
<line x1="359.40" y1="1320.90" x2="359.40" y2="1326.70" stroke="#111" stroke-width="2.2" />
<text x="359.4" y="1344.3" font-size="16.2" font-weight="bold" fill="#111" text-anchor="middle"  textLength="9.2" lengthAdjust="spacingAndGlyphs">0</text>
<line x1="396.10" y1="1320.90" x2="396.10" y2="1326.70" stroke="#111" stroke-width="2.2" />
<text x="396.1" y="1344.3" font-size="16.2" font-weight="bold" fill="#111" text-anchor="middle"  textLength="18.4" lengthAdjust="spacingAndGlyphs">30</text>
<line x1="432.80" y1="1320.90" x2="432.80" y2="1326.70" stroke="#111" stroke-width="2.2" />
<text x="432.8" y="1344.3" font-size="16.2" font-weight="bold" fill="#111" text-anchor="middle"  textLength="18.4" lengthAdjust="spacingAndGlyphs">60</text>
<line x1="469.20" y1="1320.90" x2="469.20" y2="1326.70" stroke="#111" stroke-width="2.2" />
<text x="469.2" y="1344.3" font-size="16.2" font-weight="bold" fill="#111" text-anchor="middle"  textLength="18.4" lengthAdjust="spacingAndGlyphs">90</text>
<line x1="505.60" y1="1320.90" x2="505.60" y2="1326.70" stroke="#111" stroke-width="2.2" />
<text x="505.6" y="1344.3" font-size="16.2" font-weight="bold" fill="#111" text-anchor="middle"  textLength="27.599999999999998" lengthAdjust="spacingAndGlyphs">120</text>
<line x1="368.30" y1="1354.40" x2="515.60" y2="1354.40" stroke="#111" stroke-width="3.2" />
<text x="439.9" y="1373.6" font-size="15.8" font-weight="bold" fill="#111" text-anchor="middle"  textLength="153" lengthAdjust="spacingAndGlyphs">Time surgery (min)</text>
<line x1="359.40" y1="1251.40" x2="359.40" y2="1262.40" stroke="#ee9b9b" stroke-width="2" />
<line x1="355.40" y1="1251.40" x2="363.40" y2="1251.40" stroke="#ee9b9b" stroke-width="2" />
<line x1="355.40" y1="1262.40" x2="363.40" y2="1262.40" stroke="#ee9b9b" stroke-width="2" />
<line x1="396.10" y1="1266.70" x2="396.10" y2="1277.70" stroke="#ee9b9b" stroke-width="2" />
<line x1="392.10" y1="1266.70" x2="400.10" y2="1266.70" stroke="#ee9b9b" stroke-width="2" />
<line x1="392.10" y1="1277.70" x2="400.10" y2="1277.70" stroke="#ee9b9b" stroke-width="2" />
<line x1="432.80" y1="1284.10" x2="432.80" y2="1297.10" stroke="#ee9b9b" stroke-width="2" />
<line x1="428.80" y1="1284.10" x2="436.80" y2="1284.10" stroke="#ee9b9b" stroke-width="2" />
<line x1="428.80" y1="1297.10" x2="436.80" y2="1297.10" stroke="#ee9b9b" stroke-width="2" />
<line x1="469.20" y1="1292.00" x2="469.20" y2="1304.00" stroke="#ee9b9b" stroke-width="2" />
<line x1="465.20" y1="1292.00" x2="473.20" y2="1292.00" stroke="#ee9b9b" stroke-width="2" />
<line x1="465.20" y1="1304.00" x2="473.20" y2="1304.00" stroke="#ee9b9b" stroke-width="2" />
<line x1="505.60" y1="1303.00" x2="505.60" y2="1321.00" stroke="#ee9b9b" stroke-width="2" />
<line x1="501.60" y1="1303.00" x2="509.60" y2="1303.00" stroke="#ee9b9b" stroke-width="2" />
<line x1="501.60" y1="1321.00" x2="509.60" y2="1321.00" stroke="#ee9b9b" stroke-width="2" />
<polyline points="359.4,1256.9 396.1,1272.2 432.8,1290.6 469.2,1298.0 505.6,1312.0" fill="none" stroke="#ef9a9a" stroke-width="2.3" stroke-dasharray="6 4"/>
<circle cx="359.40" cy="1256.90" r="3.5" fill="#ef9a9a" stroke="none" stroke-width="1"/>
<circle cx="396.10" cy="1272.20" r="3.5" fill="#ef9a9a" stroke="none" stroke-width="1"/>
<circle cx="432.80" cy="1290.60" r="3.5" fill="#ef9a9a" stroke="none" stroke-width="1"/>
<circle cx="469.20" cy="1298.00" r="3.5" fill="#ef9a9a" stroke="none" stroke-width="1"/>
<circle cx="505.60" cy="1312.00" r="3.5" fill="#ef9a9a" stroke="none" stroke-width="1"/>
<line x1="359.40" y1="1229.00" x2="359.40" y2="1241.00" stroke="#1a7aa8" stroke-width="2.2" />
<line x1="354.90" y1="1229.00" x2="363.90" y2="1229.00" stroke="#1a7aa8" stroke-width="2.2" />
<line x1="354.90" y1="1241.00" x2="363.90" y2="1241.00" stroke="#1a7aa8" stroke-width="2.2" />
<line x1="396.10" y1="1242.60" x2="396.10" y2="1249.60" stroke="#1a7aa8" stroke-width="2.2" />
<line x1="391.60" y1="1242.60" x2="400.60" y2="1242.60" stroke="#1a7aa8" stroke-width="2.2" />
<line x1="391.60" y1="1249.60" x2="400.60" y2="1249.60" stroke="#1a7aa8" stroke-width="2.2" />
<line x1="432.80" y1="1257.30" x2="432.80" y2="1269.30" stroke="#1a7aa8" stroke-width="2.2" />
<line x1="428.30" y1="1257.30" x2="437.30" y2="1257.30" stroke="#1a7aa8" stroke-width="2.2" />
<line x1="428.30" y1="1269.30" x2="437.30" y2="1269.30" stroke="#1a7aa8" stroke-width="2.2" />
<line x1="469.20" y1="1269.90" x2="469.20" y2="1278.90" stroke="#1a7aa8" stroke-width="2.2" />
<line x1="464.70" y1="1269.90" x2="473.70" y2="1269.90" stroke="#1a7aa8" stroke-width="2.2" />
<line x1="464.70" y1="1278.90" x2="473.70" y2="1278.90" stroke="#1a7aa8" stroke-width="2.2" />
<line x1="505.60" y1="1273.30" x2="505.60" y2="1282.30" stroke="#1a7aa8" stroke-width="2.2" />
<line x1="501.10" y1="1273.30" x2="510.10" y2="1273.30" stroke="#1a7aa8" stroke-width="2.2" />
<line x1="501.10" y1="1282.30" x2="510.10" y2="1282.30" stroke="#1a7aa8" stroke-width="2.2" />
<polyline points="359.4,1235.0 396.1,1246.1 432.8,1263.3 469.2,1274.4 505.6,1277.8" fill="none" stroke="#1a7aa8" stroke-width="2.4"/>
<circle cx="359.40" cy="1235.00" r="4.4" fill="#1a7aa8" stroke="none" stroke-width="1"/>
<circle cx="396.10" cy="1246.10" r="4.4" fill="#1a7aa8" stroke="none" stroke-width="1"/>
<circle cx="432.80" cy="1263.30" r="4.4" fill="#1a7aa8" stroke="none" stroke-width="1"/>
<circle cx="469.20" cy="1274.40" r="4.4" fill="#1a7aa8" stroke="none" stroke-width="1"/>
<circle cx="505.60" cy="1277.80" r="4.4" fill="#1a7aa8" stroke="none" stroke-width="1"/>
<text transform="translate(294,1258.2) rotate(-90)" font-size="17.3" font-weight="bold" fill="#111" text-anchor="middle" textLength="138" lengthAdjust="spacingAndGlyphs">Heart Rate (bpm)</text>
<path d="M515.2,1277.5 L522.2,1277.5 L522.2,1310.6 L515.2,1310.6" fill="none" stroke="#444" stroke-width="1.5"/>
<text x="524.3" y="1307.0" font-size="25" font-weight="normal" fill="#111" text-anchor="start" >***</text>
<line x1="627.80" y1="1198.90" x2="627.80" y2="1323.80" stroke="#111" stroke-width="2.4" />
<line x1="622.30" y1="1322.60" x2="627.80" y2="1322.60" stroke="#111" stroke-width="2.2" />
<text x="618.5" y="1328.4" font-size="16.2" font-weight="bold" fill="#111" text-anchor="end"  textLength="18.2" lengthAdjust="spacingAndGlyphs">20</text>
<line x1="622.30" y1="1298.10" x2="627.80" y2="1298.10" stroke="#111" stroke-width="2.2" />
<text x="618.5" y="1303.9" font-size="16.2" font-weight="bold" fill="#111" text-anchor="end"  textLength="18.2" lengthAdjust="spacingAndGlyphs">40</text>
<line x1="622.30" y1="1273.50" x2="627.80" y2="1273.50" stroke="#111" stroke-width="2.2" />
<text x="618.5" y="1279.3" font-size="16.2" font-weight="bold" fill="#111" text-anchor="end"  textLength="18.2" lengthAdjust="spacingAndGlyphs">60</text>
<line x1="622.30" y1="1249.60" x2="627.80" y2="1249.60" stroke="#111" stroke-width="2.2" />
<text x="618.5" y="1255.4" font-size="16.2" font-weight="bold" fill="#111" text-anchor="end"  textLength="18.2" lengthAdjust="spacingAndGlyphs">80</text>
<line x1="622.30" y1="1225.00" x2="627.80" y2="1225.00" stroke="#111" stroke-width="2.2" />
<text x="618.5" y="1230.8" font-size="16.2" font-weight="bold" fill="#111" text-anchor="end"  textLength="27.299999999999997" lengthAdjust="spacingAndGlyphs">100</text>
<line x1="622.30" y1="1200.10" x2="627.80" y2="1200.10" stroke="#111" stroke-width="2.2" />
<text x="618.5" y="1205.9" font-size="16.2" font-weight="bold" fill="#111" text-anchor="end"  textLength="27.299999999999997" lengthAdjust="spacingAndGlyphs">120</text>
<line x1="627.80" y1="1322.60" x2="811.00" y2="1322.60" stroke="#111" stroke-width="2.4" />
<line x1="645.00" y1="1322.60" x2="645.00" y2="1328.40" stroke="#111" stroke-width="2.2" />
<text x="645.0" y="1346.6" font-size="16.2" font-weight="bold" fill="#111" text-anchor="middle"  textLength="9.2" lengthAdjust="spacingAndGlyphs">0</text>
<line x1="681.80" y1="1322.60" x2="681.80" y2="1328.40" stroke="#111" stroke-width="2.2" />
<text x="681.8" y="1346.6" font-size="16.2" font-weight="bold" fill="#111" text-anchor="middle"  textLength="18.4" lengthAdjust="spacingAndGlyphs">30</text>
<line x1="718.40" y1="1322.60" x2="718.40" y2="1328.40" stroke="#111" stroke-width="2.2" />
<text x="718.4" y="1346.6" font-size="16.2" font-weight="bold" fill="#111" text-anchor="middle"  textLength="18.4" lengthAdjust="spacingAndGlyphs">60</text>
<line x1="755.20" y1="1322.60" x2="755.20" y2="1328.40" stroke="#111" stroke-width="2.2" />
<text x="755.2" y="1346.6" font-size="16.2" font-weight="bold" fill="#111" text-anchor="middle"  textLength="18.4" lengthAdjust="spacingAndGlyphs">90</text>
<line x1="791.50" y1="1322.60" x2="791.50" y2="1328.40" stroke="#111" stroke-width="2.2" />
<text x="791.5" y="1346.6" font-size="16.2" font-weight="bold" fill="#111" text-anchor="middle"  textLength="27.599999999999998" lengthAdjust="spacingAndGlyphs">120</text>
<line x1="654.60" y1="1356.90" x2="804.00" y2="1356.90" stroke="#111" stroke-width="3.2" />
<text x="726.5" y="1375.8" font-size="15.8" font-weight="bold" fill="#111" text-anchor="middle"  textLength="152.5" lengthAdjust="spacingAndGlyphs">Time surgery (min)</text>
<line x1="645.00" y1="1233.00" x2="645.00" y2="1263.00" stroke="#ee9b9b" stroke-width="2" />
<line x1="641.00" y1="1233.00" x2="649.00" y2="1233.00" stroke="#ee9b9b" stroke-width="2" />
<line x1="641.00" y1="1263.00" x2="649.00" y2="1263.00" stroke="#ee9b9b" stroke-width="2" />
<line x1="681.80" y1="1287.30" x2="681.80" y2="1295.30" stroke="#ee9b9b" stroke-width="2" />
<line x1="677.80" y1="1287.30" x2="685.80" y2="1287.30" stroke="#ee9b9b" stroke-width="2" />
<line x1="677.80" y1="1295.30" x2="685.80" y2="1295.30" stroke="#ee9b9b" stroke-width="2" />
<line x1="718.40" y1="1299.20" x2="718.40" y2="1307.20" stroke="#ee9b9b" stroke-width="2" />
<line x1="714.40" y1="1299.20" x2="722.40" y2="1299.20" stroke="#ee9b9b" stroke-width="2" />
<line x1="714.40" y1="1307.20" x2="722.40" y2="1307.20" stroke="#ee9b9b" stroke-width="2" />
<line x1="755.20" y1="1308.40" x2="755.20" y2="1310.40" stroke="#ee9b9b" stroke-width="2" />
<line x1="751.20" y1="1308.40" x2="759.20" y2="1308.40" stroke="#ee9b9b" stroke-width="2" />
<line x1="751.20" y1="1310.40" x2="759.20" y2="1310.40" stroke="#ee9b9b" stroke-width="2" />
<line x1="791.50" y1="1297.20" x2="791.50" y2="1311.20" stroke="#ee9b9b" stroke-width="2" />
<line x1="787.50" y1="1297.20" x2="795.50" y2="1297.20" stroke="#ee9b9b" stroke-width="2" />
<line x1="787.50" y1="1311.20" x2="795.50" y2="1311.20" stroke="#ee9b9b" stroke-width="2" />
<polyline points="645.0,1248.0 681.8,1291.3 718.4,1303.2 755.2,1309.4 791.5,1304.2" fill="none" stroke="#ef9a9a" stroke-width="2.3" stroke-dasharray="6 4"/>
<circle cx="645.00" cy="1248.00" r="3.5" fill="#ef9a9a" stroke="none" stroke-width="1"/>
<circle cx="681.80" cy="1291.30" r="3.5" fill="#ef9a9a" stroke="none" stroke-width="1"/>
<circle cx="718.40" cy="1303.20" r="3.5" fill="#ef9a9a" stroke="none" stroke-width="1"/>
<circle cx="755.20" cy="1309.40" r="3.5" fill="#ef9a9a" stroke="none" stroke-width="1"/>
<circle cx="791.50" cy="1304.20" r="3.5" fill="#ef9a9a" stroke="none" stroke-width="1"/>
<line x1="645.00" y1="1240.10" x2="645.00" y2="1261.10" stroke="#1a7aa8" stroke-width="2.2" />
<line x1="640.50" y1="1240.10" x2="649.50" y2="1240.10" stroke="#1a7aa8" stroke-width="2.2" />
<line x1="640.50" y1="1261.10" x2="649.50" y2="1261.10" stroke="#1a7aa8" stroke-width="2.2" />
<line x1="681.80" y1="1273.00" x2="681.80" y2="1281.00" stroke="#1a7aa8" stroke-width="2.2" />
<line x1="677.30" y1="1273.00" x2="686.30" y2="1273.00" stroke="#1a7aa8" stroke-width="2.2" />
<line x1="677.30" y1="1281.00" x2="686.30" y2="1281.00" stroke="#1a7aa8" stroke-width="2.2" />
<line x1="718.40" y1="1280.10" x2="718.40" y2="1292.10" stroke="#1a7aa8" stroke-width="2.2" />
<line x1="713.90" y1="1280.10" x2="722.90" y2="1280.10" stroke="#1a7aa8" stroke-width="2.2" />
<line x1="713.90" y1="1292.10" x2="722.90" y2="1292.10" stroke="#1a7aa8" stroke-width="2.2" />
<line x1="755.20" y1="1285.20" x2="755.20" y2="1296.20" stroke="#1a7aa8" stroke-width="2.2" />
<line x1="750.70" y1="1285.20" x2="759.70" y2="1285.20" stroke="#1a7aa8" stroke-width="2.2" />
<line x1="750.70" y1="1296.20" x2="759.70" y2="1296.20" stroke="#1a7aa8" stroke-width="2.2" />
<line x1="791.50" y1="1268.70" x2="791.50" y2="1280.70" stroke="#1a7aa8" stroke-width="2.2" />
<line x1="787.00" y1="1268.70" x2="796.00" y2="1268.70" stroke="#1a7aa8" stroke-width="2.2" />
<line x1="787.00" y1="1280.70" x2="796.00" y2="1280.70" stroke="#1a7aa8" stroke-width="2.2" />
<polyline points="645.0,1250.6 681.8,1277.0 718.4,1286.1 755.2,1290.7 791.5,1274.7" fill="none" stroke="#1a7aa8" stroke-width="2.4"/>
<circle cx="645.00" cy="1250.60" r="4.4" fill="#1a7aa8" stroke="none" stroke-width="1"/>
<circle cx="681.80" cy="1277.00" r="4.4" fill="#1a7aa8" stroke="none" stroke-width="1"/>
<circle cx="718.40" cy="1286.10" r="4.4" fill="#1a7aa8" stroke="none" stroke-width="1"/>
<circle cx="755.20" cy="1290.70" r="4.4" fill="#1a7aa8" stroke="none" stroke-width="1"/>
<circle cx="791.50" cy="1274.70" r="4.4" fill="#1a7aa8" stroke="none" stroke-width="1"/>
<text transform="translate(581.4,1260) rotate(-90)" font-size="16.9" font-weight="bold" fill="#111" text-anchor="middle" textLength="157" lengthAdjust="spacingAndGlyphs">Breath Rate (brpm)</text>
<path d="M799.3,1273.9 L806.3,1273.9 L806.3,1307.6 L799.3,1307.6" fill="none" stroke="#444" stroke-width="1.5"/>
<text x="811.0" y="1299.5" font-size="21" font-weight="normal" fill="#111" text-anchor="start" >*</text>
<line x1="886.30" y1="1201.90" x2="886.30" y2="1325.70" stroke="#111" stroke-width="2.4" />
<line x1="880.80" y1="1324.50" x2="886.30" y2="1324.50" stroke="#111" stroke-width="2.2" />
<text x="877.3" y="1330.3" font-size="16.2" font-weight="bold" fill="#111" text-anchor="end"  textLength="18.4" lengthAdjust="spacingAndGlyphs">60</text>
<line x1="880.80" y1="1294.10" x2="886.30" y2="1294.10" stroke="#111" stroke-width="2.2" />
<text x="877.3" y="1299.9" font-size="16.2" font-weight="bold" fill="#111" text-anchor="end"  textLength="18.4" lengthAdjust="spacingAndGlyphs">70</text>
<line x1="880.80" y1="1263.50" x2="886.30" y2="1263.50" stroke="#111" stroke-width="2.2" />
<text x="877.3" y="1269.3" font-size="16.2" font-weight="bold" fill="#111" text-anchor="end"  textLength="18.4" lengthAdjust="spacingAndGlyphs">80</text>
<line x1="880.80" y1="1233.20" x2="886.30" y2="1233.20" stroke="#111" stroke-width="2.2" />
<text x="877.3" y="1239.0" font-size="16.2" font-weight="bold" fill="#111" text-anchor="end"  textLength="18.4" lengthAdjust="spacingAndGlyphs">90</text>
<line x1="880.80" y1="1203.10" x2="886.30" y2="1203.10" stroke="#111" stroke-width="2.2" />
<text x="877.3" y="1208.9" font-size="16.2" font-weight="bold" fill="#111" text-anchor="end"  textLength="27.599999999999998" lengthAdjust="spacingAndGlyphs">100</text>
<line x1="886.30" y1="1324.50" x2="1071.00" y2="1324.50" stroke="#111" stroke-width="2.4" />
<line x1="905.00" y1="1324.50" x2="905.00" y2="1330.30" stroke="#111" stroke-width="2.2" />
<text x="905.0" y="1347.7" font-size="16.2" font-weight="bold" fill="#111" text-anchor="middle"  textLength="9.2" lengthAdjust="spacingAndGlyphs">0</text>
<line x1="941.80" y1="1324.50" x2="941.80" y2="1330.30" stroke="#111" stroke-width="2.2" />
<text x="941.8" y="1347.7" font-size="16.2" font-weight="bold" fill="#111" text-anchor="middle"  textLength="18.4" lengthAdjust="spacingAndGlyphs">30</text>
<line x1="978.40" y1="1324.50" x2="978.40" y2="1330.30" stroke="#111" stroke-width="2.2" />
<text x="978.4" y="1347.7" font-size="16.2" font-weight="bold" fill="#111" text-anchor="middle"  textLength="18.4" lengthAdjust="spacingAndGlyphs">60</text>
<line x1="1015.20" y1="1324.50" x2="1015.20" y2="1330.30" stroke="#111" stroke-width="2.2" />
<text x="1015.2" y="1347.7" font-size="16.2" font-weight="bold" fill="#111" text-anchor="middle"  textLength="18.4" lengthAdjust="spacingAndGlyphs">90</text>
<line x1="1051.50" y1="1324.50" x2="1051.50" y2="1330.30" stroke="#111" stroke-width="2.2" />
<text x="1051.5" y="1347.7" font-size="16.2" font-weight="bold" fill="#111" text-anchor="middle"  textLength="27.599999999999998" lengthAdjust="spacingAndGlyphs">120</text>
<line x1="914.00" y1="1358.70" x2="1064.50" y2="1358.70" stroke="#111" stroke-width="3.2" />
<text x="985.8" y="1377.4" font-size="15.8" font-weight="bold" fill="#111" text-anchor="middle"  textLength="152.5" lengthAdjust="spacingAndGlyphs">Time surgery (min)</text>
<line x1="905.00" y1="1206.10" x2="905.00" y2="1211.10" stroke="#ee9b9b" stroke-width="2" />
<line x1="901.00" y1="1206.10" x2="909.00" y2="1206.10" stroke="#ee9b9b" stroke-width="2" />
<line x1="901.00" y1="1211.10" x2="909.00" y2="1211.10" stroke="#ee9b9b" stroke-width="2" />
<line x1="941.80" y1="1212.60" x2="941.80" y2="1218.60" stroke="#ee9b9b" stroke-width="2" />
<line x1="937.80" y1="1212.60" x2="945.80" y2="1212.60" stroke="#ee9b9b" stroke-width="2" />
<line x1="937.80" y1="1218.60" x2="945.80" y2="1218.60" stroke="#ee9b9b" stroke-width="2" />
<line x1="978.40" y1="1205.80" x2="978.40" y2="1209.80" stroke="#ee9b9b" stroke-width="2" />
<line x1="974.40" y1="1205.80" x2="982.40" y2="1205.80" stroke="#ee9b9b" stroke-width="2" />
<line x1="974.40" y1="1209.80" x2="982.40" y2="1209.80" stroke="#ee9b9b" stroke-width="2" />
<line x1="1015.20" y1="1206.60" x2="1015.20" y2="1210.60" stroke="#ee9b9b" stroke-width="2" />
<line x1="1011.20" y1="1206.60" x2="1019.20" y2="1206.60" stroke="#ee9b9b" stroke-width="2" />
<line x1="1011.20" y1="1210.60" x2="1019.20" y2="1210.60" stroke="#ee9b9b" stroke-width="2" />
<line x1="1051.50" y1="1209.90" x2="1051.50" y2="1214.90" stroke="#ee9b9b" stroke-width="2" />
<line x1="1047.50" y1="1209.90" x2="1055.50" y2="1209.90" stroke="#ee9b9b" stroke-width="2" />
<line x1="1047.50" y1="1214.90" x2="1055.50" y2="1214.90" stroke="#ee9b9b" stroke-width="2" />
<polyline points="905.0,1208.6 941.8,1215.6 978.4,1207.8 1015.2,1208.6 1051.5,1212.4" fill="none" stroke="#ef9a9a" stroke-width="2.3" stroke-dasharray="6 4"/>
<circle cx="905.00" cy="1208.60" r="3.5" fill="#ef9a9a" stroke="none" stroke-width="1"/>
<circle cx="941.80" cy="1215.60" r="3.5" fill="#ef9a9a" stroke="none" stroke-width="1"/>
<circle cx="978.40" cy="1207.80" r="3.5" fill="#ef9a9a" stroke="none" stroke-width="1"/>
<circle cx="1015.20" cy="1208.60" r="3.5" fill="#ef9a9a" stroke="none" stroke-width="1"/>
<circle cx="1051.50" cy="1212.40" r="3.5" fill="#ef9a9a" stroke="none" stroke-width="1"/>
<line x1="905.00" y1="1210.00" x2="905.00" y2="1216.00" stroke="#1a7aa8" stroke-width="2.2" />
<line x1="900.50" y1="1210.00" x2="909.50" y2="1210.00" stroke="#1a7aa8" stroke-width="2.2" />
<line x1="900.50" y1="1216.00" x2="909.50" y2="1216.00" stroke="#1a7aa8" stroke-width="2.2" />
<line x1="941.80" y1="1211.50" x2="941.80" y2="1214.50" stroke="#1a7aa8" stroke-width="2.2" />
<line x1="937.30" y1="1211.50" x2="946.30" y2="1211.50" stroke="#1a7aa8" stroke-width="2.2" />
<line x1="937.30" y1="1214.50" x2="946.30" y2="1214.50" stroke="#1a7aa8" stroke-width="2.2" />
<line x1="978.40" y1="1213.90" x2="978.40" y2="1224.90" stroke="#1a7aa8" stroke-width="2.2" />
<line x1="973.90" y1="1213.90" x2="982.90" y2="1213.90" stroke="#1a7aa8" stroke-width="2.2" />
<line x1="973.90" y1="1224.90" x2="982.90" y2="1224.90" stroke="#1a7aa8" stroke-width="2.2" />
<line x1="1015.20" y1="1211.30" x2="1015.20" y2="1217.30" stroke="#1a7aa8" stroke-width="2.2" />
<line x1="1010.70" y1="1211.30" x2="1019.70" y2="1211.30" stroke="#1a7aa8" stroke-width="2.2" />
<line x1="1010.70" y1="1217.30" x2="1019.70" y2="1217.30" stroke="#1a7aa8" stroke-width="2.2" />
<line x1="1051.50" y1="1212.80" x2="1051.50" y2="1229.80" stroke="#1a7aa8" stroke-width="2.2" />
<line x1="1047.00" y1="1212.80" x2="1056.00" y2="1212.80" stroke="#1a7aa8" stroke-width="2.2" />
<line x1="1047.00" y1="1229.80" x2="1056.00" y2="1229.80" stroke="#1a7aa8" stroke-width="2.2" />
<polyline points="905.0,1213.0 941.8,1213.0 978.4,1219.4 1015.2,1214.3 1051.5,1221.3" fill="none" stroke="#1a7aa8" stroke-width="2.4"/>
<circle cx="905.00" cy="1213.00" r="4.4" fill="#1a7aa8" stroke="none" stroke-width="1"/>
<circle cx="941.80" cy="1213.00" r="4.4" fill="#1a7aa8" stroke="none" stroke-width="1"/>
<circle cx="978.40" cy="1219.40" r="4.4" fill="#1a7aa8" stroke="none" stroke-width="1"/>
<circle cx="1015.20" cy="1214.30" r="4.4" fill="#1a7aa8" stroke="none" stroke-width="1"/>
<circle cx="1051.50" cy="1221.30" r="4.4" fill="#1a7aa8" stroke="none" stroke-width="1"/>
<text transform="translate(843.3,1262.7) rotate(-90)" font-size="16.4" font-weight="bold" fill="#111" text-anchor="middle" textLength="182" lengthAdjust="spacingAndGlyphs">Oxygen Saturation (%)</text>
<text x="13.2" y="34.8" font-size="18.2" font-weight="bold" fill="#111" text-anchor="start" >A</text>
<text x="13.2" y="201.0" font-size="18.2" font-weight="bold" fill="#111" text-anchor="start" >B</text>
<text x="571.8" y="210.0" font-size="18.2" font-weight="bold" fill="#111" text-anchor="start" >C</text>
<text x="13.2" y="649.5" font-size="18.2" font-weight="bold" fill="#111" text-anchor="start" >D</text>
<text x="13.2" y="886.0" font-size="18.2" font-weight="bold" fill="#111" text-anchor="start" >E</text>
<text x="358.8" y="886.0" font-size="18.2" font-weight="bold" fill="#111" text-anchor="start" >F</text>
<text x="655.2" y="884.0" font-size="18.2" font-weight="bold" fill="#111" text-anchor="start" >G</text>
<text x="10.8" y="1158.0" font-size="18.2" font-weight="bold" fill="#111" text-anchor="start" >H</text>
<text x="266.8" y="1158.5" font-size="18.2" font-weight="bold" fill="#111" text-anchor="start" >I</text>
<text x="552.2" y="1158.0" font-size="18.2" font-weight="bold" fill="#111" text-anchor="start" >J</text>
<text x="808.5" y="1158.0" font-size="18.2" font-weight="bold" fill="#111" text-anchor="start" >K</text>
</svg>
</body></html>
